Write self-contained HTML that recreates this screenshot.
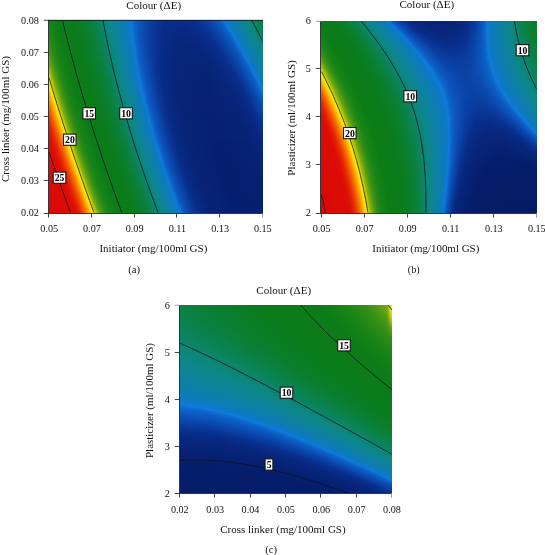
<!DOCTYPE html>
<html><head><meta charset="utf-8"><title>Colour contour plots</title>
<style>
html,body{margin:0;padding:0;background:#fff}
body{width:545px;height:555px;position:relative;overflow:hidden;font-family:"Liberation Serif",serif}
.p{position:absolute;overflow:hidden}
.p i{display:block;height:1px;width:100%}
svg{position:absolute;left:0;top:0}
text{font-family:"Liberation Serif",serif;fill:#111}
.t{font-size:10.2px}
.l{font-size:10.9px;font-weight:bold;fill:#000}
.c{fill:none;stroke:#101018;stroke-width:0.78}
.ax{stroke:#101018;stroke-width:.85;fill:none}
.bx{fill:#fff;stroke:#151515;stroke-width:1.1}
</style></head><body>

<div class="p" style="left:49px;top:20px;width:214px;height:193px">
<i style="background:linear-gradient(90deg,#178416 0px,#0c7d17 8px,#0b7b1a 23px,#0b7d22 31px,#0a7f31 38px,#0a8249 46px,#0c878a 60px,#0c7abb 77px,#0c78c9 80px,#107bdc 82px,#0c6bcf 84px,#0c57be 89px,#0a3ea0 101px,#092d8b 116px,#092c88 134px,#093190 146px,#0a41a4 158px,#0c5ac1 169px,#0c6bcf 173px,#107bdc 175px,#0c78c9 177px,#0c7bb8 181px,#0c8781 199px,#0a8144 212px,#0a813e 214px)"></i>
<i style="background:linear-gradient(90deg,#188416 0px,#0b7c17 9px,#0b7c1b 25px,#0a7e27 34px,#0a8144 45px,#0b856a 53px,#0c868c 61px,#0c7abb 77px,#0c78c9 80px,#107bdb 82px,#0c66cb 85px,#0b52b9 91px,#0a3a9c 103px,#092d8a 117px,#092c88 136px,#093291 148px,#0a41a5 159px,#0c5bc1 170px,#0d6ed2 174px,#0f77d9 175px,#0f7ad8 176px,#0c78c7 178px,#0c7bb7 182px,#0c8784 199px,#0a8142 213px,#0a8140 214px)"></i>
<i style="background:linear-gradient(90deg,#198416 0px,#0c7c17 9px,#0b7b19 23px,#0b7d22 31px,#0a7f2f 38px,#0a8247 46px,#0c8789 60px,#0c7aba 77px,#0c78c8 80px,#107bdb 82px,#0c67cb 85px,#0b52b9 91px,#0a3a9b 103px,#092d8a 116px,#092b87 135px,#093190 148px,#0a42a6 160px,#0c5cc2 171px,#0c69cd 174px,#107adc 176px,#0c78cb 178px,#0c7bb8 182px,#0c8782 200px,#0a8145 213px,#0a8141 214px)"></i>
<i style="background:linear-gradient(90deg,#1a8516 0px,#0c7c17 9px,#0b7b1a 24px,#0b7d23 32px,#0a7f32 39px,#0a8146 46px,#0c8788 60px,#0c7abe 78px,#0d79d0 81px,#0f7bda 82px,#0f75d8 83px,#0c67cb 85px,#0c55bc 90px,#0a3c9d 102px,#092c8a 116px,#082b87 135px,#09308f 148px,#0a40a3 160px,#0c5ac0 171px,#0c6cd0 175px,#107bdb 177px,#0c78c8 179px,#0c7bb7 183px,#0c8784 200px,#0a8142 214px)"></i>
<i style="background:linear-gradient(90deg,#1b8516 0px,#0c7d17 9px,#0b7b1a 24px,#0b7d23 32px,#0a7f31 39px,#0a8146 46px,#0b866c 54px,#0c868b 61px,#0c7abd 78px,#0d79cf 81px,#0f7ad9 82px,#0f76d8 83px,#0c67cc 85px,#0c55bc 90px,#0a3b9d 102px,#092d8a 115px,#082a86 134px,#09308f 149px,#0a41a4 161px,#0c5bc1 172px,#0d6fd2 176px,#0f77da 177px,#0f7ad7 178px,#0c78c7 180px,#0c7bb9 183px,#0c8782 201px,#0a8145 214px)"></i>
<i style="background:linear-gradient(90deg,#1c8616 0px,#138116 4px,#0b7c17 10px,#0b7c1b 26px,#0a7e29 36px,#0a8145 46px,#0b856b 54px,#0c868a 61px,#0c7abd 78px,#0d79ce 81px,#0f7ad8 82px,#0f76d9 83px,#0c67cc 85px,#0c55bc 90px,#0a3b9d 102px,#092c8a 115px,#082a85 134px,#092f8d 149px,#0a41a5 162px,#0c5cc2 173px,#0c6ace 176px,#107bdd 178px,#0c78ca 180px,#0c7bb8 184px,#0c8785 201px,#0a8147 214px)"></i>
<i style="background:linear-gradient(90deg,#1d8616 0px,#138116 4px,#0b7c17 11px,#0b7c1b 26px,#0a7e27 35px,#0a8140 45px,#0a845f 52px,#0c878a 61px,#0c7abc 78px,#0d79cd 81px,#0f7ad7 82px,#0f77da 83px,#0c68cc 85px,#0c55bc 90px,#0a3b9c 102px,#092c8a 115px,#082a84 134px,#092f8d 150px,#0a40a3 162px,#0c5ac0 173px,#0d6dd0 177px,#0f75d8 178px,#0f7ada 179px,#0c78c8 181px,#0c7bb7 185px,#0c8783 202px,#0a8249 214px)"></i>
<i style="background:linear-gradient(90deg,#1e8616 0px,#148116 4px,#0b7c17 11px,#0b7c1b 26px,#0a7e28 36px,#0a8247 47px,#0c8789 61px,#0c7abc 78px,#0c78cc 81px,#0f7ad6 82px,#0f78da 83px,#0c68cc 85px,#0c55bc 90px,#0a3b9c 102px,#092c89 115px,#082a84 134px,#092e8c 150px,#0a40a3 163px,#0c5bc1 174px,#0c68cd 177px,#0f79db 179px,#0e7ad6 180px,#0c78cc 181px,#0c7bb8 185px,#0c8785 202px,#0a824b 214px)"></i>
<i style="background:linear-gradient(90deg,#208716 0px,#168316 3px,#0b7c17 11px,#0b7c1b 26px,#0a7d26 35px,#0a813f 45px,#0a845d 52px,#0c8789 61px,#0c7abb 78px,#0c78cb 81px,#0e7ad5 82px,#0f79db 83px,#0c69cd 85px,#0c55bc 90px,#0a3b9c 102px,#092c8a 114px,#082983 133px,#092e8c 151px,#0a41a4 164px,#0c5cc2 175px,#0c6ace 178px,#107bdc 180px,#0c78c9 182px,#0c7bb7 186px,#0c8783 203px,#0a824d 214px)"></i>
<i style="background:linear-gradient(90deg,#218716 0px,#168316 3px,#0b7c17 11px,#0b7c1b 27px,#0a7e29 37px,#0a8145 47px,#0b866c 55px,#0c868b 62px,#0c7abb 78px,#0c78ca 81px,#107adc 83px,#0c69cd 85px,#0c56bc 90px,#0a3b9c 102px,#092c89 114px,#082982 133px,#092d8b 151px,#0a3fa2 164px,#0c5ac1 175px,#0d6ed1 179px,#0f76d9 180px,#0f7ad8 181px,#0c78c7 183px,#0c7bb9 186px,#0c8785 203px,#0a8250 214px)"></i>
<i style="background:linear-gradient(90deg,#228816 0px,#178316 3px,#0c7c17 11px,#0b7b1a 25px,#0b7d22 33px,#0a7f30 40px,#0a8249 48px,#0c868b 62px,#0c7abb 78px,#0c78c9 81px,#107add 83px,#0c69cd 85px,#0c56bc 90px,#0a3b9c 102px,#092c89 114px,#082982 133px,#092d8b 152px,#0a40a3 165px,#0c5bc2 176px,#0c69cd 179px,#107adc 181px,#0c78ca 183px,#0c7bb8 187px,#0c8783 204px,#0a8352 214px)"></i>
<i style="background:linear-gradient(90deg,#238816 0px,#178316 3px,#0c7c17 11px,#0b7b1a 26px,#0b7d23 34px,#0a7f30 40px,#0a8248 48px,#0c868a 62px,#0c7aba 78px,#0c78c9 81px,#107bdd 83px,#0c6ace 85px,#0c56bd 90px,#0a3a9c 102px,#092c8a 113px,#082881 132px,#092c89 151px,#0a3b9c 163px,#0c57bd 175px,#0c66cb 179px,#0e74d7 181px,#0f7bda 182px,#0c78c8 184px,#0c7bb6 188px,#0c8785 204px,#0a8354 214px)"></i>
<i style="background:linear-gradient(90deg,#248916 0px,#168316 4px,#0b7c17 12px,#0b7c1b 27px,#0a7d26 36px,#0a8140 46px,#0a845e 53px,#0c8789 62px,#0c7aba 78px,#0c78c8 81px,#107bdb 83px,#0c6ace 85px,#0c59bf 89px,#0a3ea0 100px,#092c89 113px,#082881 132px,#092c88 151px,#0a3697 161px,#0b45aa 169px,#0c5fc4 178px,#0d6fd2 181px,#0f78da 182px,#0f7ad6 183px,#0c78cc 184px,#0c7bb8 188px,#0c8783 205px,#0a8356 214px)"></i>
<i style="background:linear-gradient(90deg,#258916 0px,#188416 3px,#0b7c17 12px,#0b7c1b 28px,#0a7e29 38px,#0a8146 48px,#0c8789 62px,#0c7abd 79px,#0d79d0 82px,#0f7bda 83px,#0e74d7 84px,#0c66ca 86px,#0b53ba 91px,#0a3999 103px,#092c89 113px,#082880 132px,#092b87 151px,#093291 159px,#0a44a8 169px,#0c5cc2 178px,#0c6ace 181px,#107bdc 183px,#0c78c9 185px,#0c7bb7 189px,#0c8786 205px,#0a8359 214px)"></i>
<i style="background:linear-gradient(90deg,#278a16 0px,#178316 4px,#0c7c17 12px,#0b7b1a 26px,#0b7d22 34px,#0a7f30 41px,#0a8145 48px,#0b866c 56px,#0c868b 63px,#0c7abc 79px,#0d79cf 82px,#0f7ad9 83px,#0f75d8 84px,#0c66cb 86px,#0b54bb 91px,#0a3999 103px,#092c89 113px,#082880 132px,#082b87 151px,#093190 159px,#0a42a6 169px,#0c5dc3 179px,#0d6dd1 182px,#0f76d9 183px,#0f7ad8 184px,#0c78c7 186px,#0c7bb9 189px,#0c8784 206px,#0a845c 214px)"></i>
<i style="background:linear-gradient(90deg,#288a16 0px,#178416 4px,#0c7c17 12px,#0b7b1a 27px,#0b7d23 35px,#0a7f30 41px,#0a8249 49px,#0c868b 63px,#0c7abc 79px,#0d79cd 82px,#0f7ad8 83px,#0f76d9 84px,#0c67cb 86px,#0b54bb 91px,#0a3899 103px,#092c89 113px,#08277f 132px,#082b86 151px,#093190 160px,#0a43a7 170px,#0c5bc1 179px,#0c69cd 182px,#107adc 184px,#0c78ca 186px,#0c7bb7 190px,#0c8781 207px,#0a845f 214px)"></i>
<i style="background:linear-gradient(90deg,#298a16 0px,#188416 4px,#0c7d17 12px,#0b7b1a 27px,#0b7d23 35px,#0a7f2f 41px,#0a8248 49px,#0c868a 63px,#0c7abb 79px,#0c78cc 82px,#0f7ad7 83px,#0f77da 84px,#0c67cc 86px,#0b54bb 91px,#0a3899 103px,#092c89 113px,#08277f 132px,#082a85 151px,#09308f 160px,#0a41a5 170px,#0c5cc2 180px,#0c6bcf 183px,#0e74d7 184px,#0f7bda 185px,#0c78c7 187px,#0c7bb9 190px,#0c8784 207px,#0a8461 214px)"></i>
<i style="background:linear-gradient(90deg,#2a8b16 0px,#188416 4px,#0b7c17 13px,#0b7c1b 29px,#0a7e29 39px,#0a8147 49px,#0c878a 63px,#0c7abb 79px,#0c78cb 82px,#0e7ad5 83px,#0f78db 84px,#0c68cc 86px,#0c54bb 91px,#0a3899 103px,#092c89 112px,#08277e 131px,#082983 150px,#09308f 161px,#0a42a6 171px,#0c5ec4 181px,#0d6fd2 184px,#0f78da 185px,#0e7ad6 186px,#0c78cb 187px,#0c7bb8 191px,#0c8782 208px,#0b8564 214px)"></i>
<i style="background:linear-gradient(90deg,#2c8b16 0px,#178316 5px,#0c7c17 13px,#0b7b1a 27px,#0b7d22 35px,#0a7f31 42px,#0a8146 49px,#0c8789 63px,#0c7aba 79px,#0c78ca 82px,#107adc 84px,#0c68cd 86px,#0c54bb 91px,#0a3899 103px,#092c89 112px,#07277e 131px,#082983 150px,#09318f 162px,#0a43a7 172px,#0c5bc2 181px,#0c6ace 184px,#107bdc 186px,#0c78c8 188px,#0c7bb6 192px,#0c8784 208px,#0b8567 214px)"></i>
<i style="background:linear-gradient(90deg,#2d8c16 0px,#178416 5px,#0c7c17 13px,#0b7b19 27px,#0b7d22 35px,#0a7f30 42px,#0a8145 49px,#0b8567 56px,#0c868c 64px,#0c7aba 79px,#0c78c9 82px,#107bdd 84px,#0c69cd 86px,#0c55bc 91px,#0a3899 103px,#092c89 112px,#07277d 131px,#082982 150px,#092f8e 162px,#0a41a5 172px,#0c5dc3 182px,#0d6dd1 185px,#0f76d9 186px,#0f7ad8 187px,#0c79c6 189px,#0c7bb8 192px,#0c8782 209px,#0b8569 214px)"></i>
<i style="background:linear-gradient(90deg,#2f8d16 0px,#188416 5px,#0b7c17 14px,#0b7c1b 29px,#0a7d26 38px,#0a8140 48px,#0a8460 55px,#0c868b 64px,#0c7abd 80px,#0c78c8 82px,#107bdc 84px,#0c6ace 86px,#0c55bc 91px,#0a3899 103px,#092c89 112px,#07267d 131px,#082881 150px,#09308e 163px,#0a42a6 173px,#0c5bc1 182px,#0c69cd 185px,#107adc 187px,#0c78c9 189px,#0c7bb7 193px,#0c8784 209px,#0b866c 214px)"></i>
<i style="background:linear-gradient(90deg,#318e16 0px,#188416 5px,#0b7c17 14px,#0b7c1b 30px,#0a7e29 40px,#0a8247 50px,#0c868a 64px,#0c7abc 80px,#0d79d0 83px,#0f7bdb 84px,#0e74d7 85px,#0c6ace 86px,#0c58bf 90px,#0a3c9e 101px,#092c89 112px,#07267d 131px,#082880 150px,#09308f 164px,#0a43a7 174px,#0c5cc2 183px,#0c6bcf 186px,#0f75d7 187px,#0f7ad9 188px,#0c78c7 190px,#0c7bb9 193px,#0c8782 210px,#0b866f 214px)"></i>
<i style="background:linear-gradient(90deg,#348f16 0px,#278a16 2px,#178316 6px,#0c7c17 14px,#0b7b1a 28px,#0b7d22 36px,#0a7f31 43px,#0a8146 50px,#0c878a 64px,#0c7abc 80px,#0d79ce 83px,#0f7ad9 84px,#0f75d8 85px,#0c66ca 87px,#0c56bc 91px,#0a3899 103px,#092c89 112px,#07267c 131px,#082880 150px,#092f8d 164px,#0a41a5 174px,#0c5ec4 184px,#0d6fd3 187px,#0f79db 188px,#0e7ad5 189px,#0c78ca 190px,#0c7bb7 194px,#0c8784 210px,#0b8671 214px)"></i>
<i style="background:linear-gradient(90deg,#369015 0px,#2d8c16 1px,#178416 6px,#0c7c17 14px,#0b7b19 28px,#0b7d22 36px,#0a7f30 43px,#0a8145 50px,#0b866d 58px,#0c868c 65px,#0c7abb 80px,#0d78cd 83px,#0f7ad8 84px,#0f76d9 85px,#0c66cb 87px,#0b53ba 92px,#0a3899 103px,#092c88 112px,#07267c 131px,#08277f 150px,#092f8e 165px,#0a42a6 175px,#0c5bc1 184px,#0c6ace 187px,#107bdb 189px,#0c78c8 191px,#0c7bb9 194px,#0c8782 211px,#0b8674 214px)"></i>
<i style="background:linear-gradient(90deg,#389115 0px,#2a8b16 2px,#188416 6px,#0b7c17 15px,#0b7c1b 30px,#0a7d27 39px,#0a8141 49px,#0a8461 56px,#0c8789 64px,#0c7abb 80px,#0c78cb 83px,#0f7ad6 84px,#0f77da 85px,#0c67cb 87px,#0b53ba 92px,#0a3899 103px,#092c88 112px,#07267b 131px,#07277e 150px,#092e8c 165px,#0a43a7 176px,#0c5dc3 185px,#0d6ed1 188px,#0f77da 189px,#0f7ad6 190px,#0c78cb 191px,#0c7bb7 195px,#0c8784 211px,#0b8676 214px)"></i>
<i style="background:linear-gradient(90deg,#3b9215 0px,#2b8b16 2px,#178316 7px,#0b7c17 15px,#0b7b1a 30px,#0a7d24 38px,#0a7f32 44px,#0a8248 51px,#0c868b 65px,#0c7aba 80px,#0c78ca 83px,#0e7ad5 84px,#0f79db 85px,#0c68cc 87px,#0b53ba 92px,#0a3899 103px,#092c88 112px,#07257b 131px,#07277e 150px,#092e8d 166px,#0a41a5 176px,#0c5bc1 185px,#0c69cd 188px,#107bdd 190px,#0c78c8 192px,#0c7bb9 195px,#0c8782 212px,#0b8679 214px)"></i>
<i style="background:linear-gradient(90deg,#3d9315 0px,#2c8c16 2px,#178316 7px,#0c7c17 15px,#0b7b1a 29px,#0b7d22 37px,#0a7f31 44px,#0a8147 51px,#0c868a 65px,#0c7bba 80px,#0c78c9 83px,#107adc 85px,#0c68cd 87px,#0b54bb 92px,#0a3899 103px,#092c88 112px,#07257a 131px,#07267d 150px,#092d8b 166px,#0a42a6 177px,#0c5cc2 186px,#0d6cd0 189px,#0f76d8 190px,#0f7ad8 191px,#0d78cd 192px,#0c7abb 195px,#0c8784 212px,#0b867b 214px)"></i>
<i style="background:linear-gradient(90deg,#409415 0px,#2e8c16 2px,#188416 7px,#0c7c17 15px,#0b7b19 29px,#0b7d22 37px,#0a7f30 44px,#0a8146 51px,#0c878a 65px,#0c7abd 81px,#0c78c8 83px,#107bdc 85px,#0c69cd 87px,#0c54bb 92px,#0a3999 103px,#092c89 111px,#07257a 130px,#07267c 150px,#092e8c 167px,#0a43a7 178px,#0c5ec4 187px,#0c68cd 189px,#107adc 191px,#0c78c9 193px,#0c7bb6 197px,#0c8782 213px,#0c877d 214px)"></i>
<i style="background:linear-gradient(90deg,#429515 0px,#2a8b16 3px,#188416 7px,#0b7c17 16px,#0b7c1b 31px,#0a7d27 40px,#0a8141 50px,#0a8462 57px,#0c8789 65px,#0c7abc 81px,#0d79d0 84px,#107bdb 85px,#0c6ace 87px,#0c54bb 92px,#0a3797 104px,#092c88 112px,#07257a 130px,#07267d 152px,#092e8c 168px,#0a41a5 178px,#0c5cc2 187px,#0c6bcf 190px,#0e75d7 191px,#0f7ad9 192px,#0c79c6 194px,#0c7bb8 197px,#0c8784 213px,#0c8780 214px)"></i>
<i style="background:linear-gradient(90deg,#459614 0px,#2b8b16 3px,#178316 8px,#0c7c17 16px,#0b7b1a 31px,#0a7d25 39px,#0a7f32 45px,#0a8248 52px,#0c8788 65px,#0c7abb 81px,#0d79ce 84px,#0f7ad9 85px,#0f75d7 86px,#0c65ca 88px,#0b52b9 93px,#0a3797 104px,#092c88 112px,#07257a 130px,#07267c 153px,#092f8d 169px,#0a42a6 179px,#0c5dc3 188px,#0d6fd2 191px,#0f79db 192px,#0e7ad4 193px,#0c78ca 194px,#0c7bb7 198px,#0c8782 214px)"></i>
<i style="background:linear-gradient(90deg,#479714 0px,#2d8c16 3px,#178416 8px,#0c7c17 16px,#0b7b1a 30px,#0b7d22 38px,#0a7f31 45px,#0a8247 52px,#0c868b 66px,#0c7abb 81px,#0c78cc 84px,#0f7ad7 85px,#0f76d9 86px,#0c66cb 88px,#0c55bc 92px,#0a399a 103px,#092c89 111px,#07257a 129px,#07267c 153px,#092d8b 169px,#0a43a8 180px,#0c60c5 189px,#0c6ace 191px,#107bdb 193px,#0c78c7 195px,#0c7bb8 198px,#0c8784 214px)"></i>
<i style="background:linear-gradient(90deg,#4a9814 0px,#2f8d16 3px,#188416 8px,#0c7d17 16px,#0b7b1a 31px,#0b7d22 38px,#0a7f31 45px,#0a8146 52px,#0c868a 66px,#0c7aba 81px,#0c78ca 84px,#0e7ad6 85px,#0f78da 86px,#0c67cb 88px,#0c56bc 92px,#0a399a 103px,#092c89 111px,#07257a 129px,#07267c 154px,#092e8c 170px,#0a42a5 180px,#0c5dc3 189px,#0d6ed1 192px,#0f78da 193px,#0e7ad6 194px,#0c78ca 195px,#0c7bb7 199px,#0c8787 214px)"></i>
<i style="background:linear-gradient(90deg,#4d9914 0px,#2b8b16 4px,#188416 8px,#0b7c17 17px,#0b7c1b 32px,#0a7d27 41px,#0a8141 51px,#0a8462 58px,#0c878a 66px,#0c7bba 81px,#0c78c9 84px,#1079db 86px,#0c68cc 88px,#0b53ba 93px,#0a3797 104px,#092b88 112px,#07257a 129px,#07267c 155px,#092e8d 171px,#0a43a7 181px,#0c5fc4 190px,#0c69cd 192px,#107bdc 194px,#0c78c8 196px,#0c7bb9 199px,#0c8789 214px)"></i>
<i style="background:linear-gradient(90deg,#519b13 0px,#2c8c16 4px,#178316 9px,#0c7c17 17px,#0b7b1a 31px,#0b7d23 39px,#0a7f2f 45px,#0a8249 53px,#0c8789 66px,#0c7abd 82px,#0c78c8 84px,#107bdd 86px,#0c68cd 88px,#0b53ba 93px,#0a3798 104px,#092c89 111px,#07257a 128px,#07257b 155px,#092d8b 171px,#0a41a5 181px,#0c5cc2 190px,#0d6dd0 193px,#0f76d9 194px,#0f7ad7 195px,#0c78cb 196px,#0c7aba 199px,#0c868a 214px)"></i>
<i style="background:linear-gradient(90deg,#559c13 0px,#3f9315 2px,#2d8c16 4px,#178416 9px,#0c7c17 17px,#0b7b1a 31px,#0b7d22 39px,#0a7f31 46px,#0a8248 53px,#0c8788 66px,#0c7abc 82px,#0c78c7 84px,#107bdb 86px,#0c69cd 88px,#0b54bb 93px,#0a3798 104px,#092c89 111px,#07257a 128px,#07257b 156px,#092e8c 172px,#0a42a6 182px,#0c5ec4 191px,#0c68cd 193px,#107bdd 195px,#0c78c8 197px,#0c7bb9 200px,#0c868c 214px)"></i>
<i style="background:linear-gradient(90deg,#599e12 0px,#4b9814 1px,#308d16 4px,#188416 9px,#0c7d17 17px,#0b7b19 31px,#0b7d22 39px,#0a7f31 46px,#0a8146 53px,#0c868b 67px,#0c7abb 82px,#0d79ce 85px,#0f7ada 86px,#0e74d7 87px,#0c6ace 88px,#0c54bb 93px,#0a3798 104px,#092c89 111px,#07257a 128px,#07257b 157px,#092e8c 173px,#0a43a7 183px,#0c5bc2 191px,#0c6ccf 194px,#0f75d8 195px,#0f7ad8 196px,#0d78cc 197px,#0c7abb 200px,#0c868e 214px)"></i>
<i style="background:linear-gradient(90deg,#5ca012 0px,#449514 2px,#2b8b16 5px,#178316 10px,#0b7c17 18px,#0b7c1b 33px,#0a7d27 42px,#0a8141 52px,#0b8563 59px,#0c868a 67px,#0c7abb 82px,#0c78cc 85px,#0f7ad8 86px,#0f76d8 87px,#0c66ca 89px,#0c55bc 93px,#0a3898 104px,#092c89 111px,#07257a 127px,#07257a 157px,#092f8d 174px,#0a42a5 183px,#0c5dc3 192px,#0d70d3 195px,#107adc 196px,#0c78c9 198px,#0c7bb9 201px,#0c858f 214px)"></i>
<i style="background:linear-gradient(90deg,#60a112 0px,#479614 2px,#2c8c16 5px,#178316 10px,#0c7c17 18px,#0b7b1a 32px,#0b7d23 40px,#0a7f2f 46px,#0a8249 54px,#0c8789 67px,#0c7aba 82px,#0c78ca 85px,#0e7ad6 86px,#0f77da 87px,#0c66cb 89px,#0c55bc 93px,#0a3898 104px,#092c89 111px,#07257a 127px,#07257a 158px,#092e8c 174px,#0a43a7 184px,#0c60c5 193px,#0c6bcf 195px,#0e75d7 196px,#0f7ad9 197px,#0d79cd 198px,#0c7abb 201px,#0c8591 214px)"></i>
<i style="background:linear-gradient(90deg,#64a311 0px,#499714 2px,#2e8d16 5px,#188416 10px,#0c7c17 18px,#0b7b1a 32px,#0b7d22 40px,#0a7f31 47px,#0a8248 54px,#0c8789 67px,#0c7bb9 82px,#0c78c9 85px,#1079db 87px,#0c67cc 89px,#0c56bc 93px,#0a3898 104px,#092c89 111px,#07257a 127px,#07257a 158px,#092d8a 174px,#0a41a4 184px,#0c5dc3 193px,#0d6fd2 196px,#1079db 197px,#0c78c9 199px,#0c7bb9 202px,#0c8492 214px)"></i>
<i style="background:linear-gradient(90deg,#68a511 0px,#4d9914 2px,#2a8b16 6px,#188416 10px,#0b7c17 19px,#0b7c1b 34px,#0a7d25 42px,#0a7f34 48px,#0a8147 54px,#0c868b 68px,#0c7abc 83px,#0c78c8 85px,#107bdd 87px,#0c68cc 89px,#0c56bd 93px,#0a3899 104px,#092c89 111px,#072579 127px,#07257a 159px,#092d8b 175px,#0a42a6 185px,#0c5fc5 194px,#0c6ace 196px,#0e74d7 197px,#0f7bda 198px,#0c79c6 200px,#0c7bb8 203px,#0c8494 214px)"></i>
<i style="background:linear-gradient(90deg,#6ca710 0px,#469614 3px,#2c8c16 6px,#178316 11px,#0b7c17 19px,#0b7c1b 34px,#0a7d27 43px,#0a813f 52px,#0a845e 59px,#0c868b 68px,#0c7abc 83px,#0d79d0 86px,#107bdb 87px,#0c69cd 89px,#0b53ba 94px,#0a3696 105px,#092b88 112px,#072579 127px,#07257a 159px,#092d8a 175px,#0a41a4 185px,#0c5cc2 194px,#0d6ed2 197px,#0f78db 198px,#0e7ad5 199px,#0c78c9 200px,#0c7bb9 203px,#0c8395 214px)"></i>
<i style="background:linear-gradient(90deg,#70a910 0px,#489714 3px,#2d8c16 6px,#178416 11px,#0c7c17 19px,#0b7b19 32px,#0b7d23 41px,#0a7f2f 47px,#0a8249 55px,#0c878a 68px,#0c7abb 83px,#0d79ce 86px,#0f7ad9 87px,#0e74d7 88px,#0c6ace 89px,#0b54bb 94px,#0a3697 105px,#092b88 112px,#072579 127px,#072579 159px,#092b88 174px,#0a3696 181px,#0b47ad 188px,#0c5fc4 195px,#0c69cd 197px,#107bdb 199px,#0c78c7 201px,#0c7bb8 204px,#0c8397 214px)"></i>
<i style="background:linear-gradient(90deg,#74aa0f 0px,#4b9814 3px,#308d16 6px,#188416 11px,#0c7d17 19px,#0b7b1a 33px,#0b7d22 41px,#0a7f31 48px,#0a8248 55px,#0c8789 68px,#0c7aba 83px,#0c78cc 86px,#0f7ad7 87px,#0f76d8 88px,#0c65ca 90px,#0b51b8 95px,#0a3797 105px,#092c88 112px,#072579 127px,#072579 159px,#082a84 172px,#093190 179px,#0a43a7 187px,#0c5cc2 195px,#0d6dd1 198px,#0f78da 199px,#0e7ad5 200px,#0c78ca 201px,#0c7bba 204px,#0b8398 214px)"></i>
<i style="background:linear-gradient(90deg,#78ac0f 0px,#4f9a14 3px,#2b8b16 7px,#198416 11px,#0b7c17 20px,#0b7c1b 35px,#0a7e27 44px,#0a8142 54px,#0b856b 62px,#0c868c 69px,#0c7bba 83px,#0c78ca 86px,#0e7ad5 87px,#0f78da 88px,#0c66cb 90px,#0c55bc 94px,#0a3797 105px,#092c88 112px,#072579 126px,#072479 158px,#082880 169px,#09308e 179px,#0a44a8 188px,#0c5ec4 196px,#0c69cd 198px,#107bdb 200px,#0c78c7 202px,#0c7bb8 205px,#0b829a 214px)"></i>
<i style="background:linear-gradient(90deg,#7faf0e 0px,#60a112 2px,#479614 4px,#2c8c16 7px,#178316 12px,#0c7c17 20px,#0b7b1a 34px,#0b7d23 42px,#0a7f30 48px,#0a8146 55px,#0c868b 69px,#0c7bb9 83px,#0c78c9 86px,#1079dc 88px,#0c67cc 90px,#0c55bc 94px,#0a3797 105px,#092c88 112px,#072579 126px,#072478 158px,#08277f 169px,#09308f 180px,#0a42a6 188px,#0c5bc2 196px,#0d6dd0 199px,#0f77d9 200px,#0f7ad6 201px,#0c78ca 202px,#0c7bba 205px,#0b829b 214px)"></i>
<i style="background:linear-gradient(90deg,#86b20d 0px,#72a910 1px,#499714 4px,#2e8d16 7px,#178416 12px,#0c7c17 20px,#0b7b1a 34px,#0b7d23 42px,#0a7f2f 48px,#0a8249 56px,#0c868a 69px,#0c7abc 84px,#0c78c7 86px,#107bdd 88px,#0c68cd 90px,#0c56bd 94px,#0a3798 105px,#092c88 112px,#072579 126px,#072478 158px,#07277e 169px,#092f8e 180px,#0a43a8 189px,#0c5ec3 197px,#0c69cd 199px,#107bdc 201px,#0c78c7 203px,#0c7bb8 206px,#0b819d 214px)"></i>
<i style="background:linear-gradient(90deg,#8db50d 0px,#76ab0f 1px,#4d9914 4px,#318e16 7px,#188416 12px,#0c7d17 20px,#0b7b19 34px,#0b7d22 42px,#0a7f31 49px,#0a8248 56px,#0c8789 69px,#0c7abb 84px,#0d79cf 87px,#0f7bda 88px,#0c69cd 90px,#0b53ba 95px,#0a3798 105px,#092c88 112px,#072579 126px,#072478 158px,#08277e 170px,#09308e 181px,#0a45a9 190px,#0c60c6 198px,#0c6cd0 200px,#0f76d9 201px,#0f7ad7 202px,#0c78cb 203px,#0c7aba 206px,#0b819e 214px)"></i>
<i style="background:linear-gradient(90deg,#94b80c 0px,#7cae0f 1px,#519a13 4px,#2c8b16 8px,#178316 13px,#0b7c17 21px,#0b7c1b 36px,#0a7e27 45px,#0a8142 55px,#0b856b 63px,#0c868c 70px,#0c7aba 84px,#0c78cc 87px,#0f7ad8 88px,#0f75d8 89px,#0c6bce 90px,#0c57be 94px,#0a3898 105px,#092c88 112px,#072579 126px,#072478 158px,#07277d 170px,#092f8d 181px,#0a43a7 190px,#0c5dc3 198px,#0c68cc 200px,#107bdd 202px,#0c78c8 204px,#0c7bb8 207px,#0b81a0 214px)"></i>
<i style="background:linear-gradient(90deg,#9cbb0b 0px,#83b10e 1px,#70a910 2px,#489714 5px,#2d8c16 8px,#178416 13px,#0c7c17 21px,#0b7b1a 35px,#0b7d23 43px,#0a7f30 49px,#0a8146 56px,#0c868b 70px,#0c7bba 84px,#0c78ca 87px,#0f7ad6 88px,#0f77d9 89px,#0c66ca 91px,#0c54bb 95px,#0a3696 106px,#092c88 112px,#072579 126px,#072477 158px,#07277e 171px,#092f8e 182px,#0a44a9 191px,#0c60c5 199px,#0c6bcf 201px,#0f76d8 202px,#0f7ad7 203px,#0c78cb 204px,#0c7aba 207px,#0b80a1 214px)"></i>
<i style="background:linear-gradient(90deg,#a3be0a 0px,#74aa0f 2px,#4b9814 5px,#308d16 8px,#188416 13px,#0c7c17 21px,#0b7b1a 35px,#0b7d23 43px,#0a7f2f 49px,#0a8249 57px,#0c868a 70px,#0c7bb9 84px,#0c78c9 87px,#0f79db 89px,#0c67cb 91px,#0c55bc 95px,#0a3696 106px,#092c88 112px,#072579 126px,#072477 158px,#07267d 171px,#09308f 183px,#0a43a7 191px,#0c5dc3 199px,#0c68cc 201px,#107bdd 203px,#0c78c8 205px,#0c7bb8 208px,#0b80a3 214px)"></i>
<i style="background:linear-gradient(90deg,#aac20a 0px,#79ac0f 2px,#4f9a14 5px,#2b8b16 9px,#198416 13px,#0b7c17 22px,#0b7c1b 37px,#0a7d26 45px,#0a8037 52px,#0a8248 57px,#0c878a 70px,#0c7abc 85px,#0c78c8 87px,#107bdd 89px,#0c68cc 91px,#0c55bc 95px,#0a3697 106px,#092c89 112px,#072579 126px,#072477 158px,#07277d 172px,#092f8d 183px,#0a44a8 192px,#0c5fc5 200px,#0c6bcf 202px,#0f75d8 203px,#0f7ad8 204px,#0c78cc 205px,#0c7aba 208px,#0b7fa4 214px)"></i>
<i style="background:linear-gradient(90deg,#b1c509 0px,#80af0e 2px,#61a212 4px,#479614 6px,#2c8c16 9px,#178316 14px,#0c7c17 22px,#0b7c1b 37px,#0a7e27 46px,#0a8142 56px,#0b8565 63px,#0c868c 71px,#0c7abb 85px,#0d79cf 88px,#107bdb 89px,#0c69cd 91px,#0c56bd 95px,#0a3797 106px,#092c89 112px,#072579 126px,#062377 158px,#07267c 172px,#09308e 184px,#0a42a6 192px,#0c5dc2 200px,#0d70d3 203px,#107adc 204px,#0c78c8 206px,#0c7bb8 209px,#0b7fa6 214px)"></i>
<i style="background:linear-gradient(90deg,#b9c808 0px,#87b30d 2px,#73aa10 3px,#4a9714 6px,#2e8d16 9px,#178416 14px,#0c7c17 22px,#0b7b19 35px,#0b7d23 44px,#0a7f30 50px,#0a8146 57px,#0c868b 71px,#0c7aba 85px,#0d78cd 88px,#0f7ad9 89px,#0e74d7 90px,#0c6ace 91px,#0b53ba 96px,#0a3797 106px,#092b87 113px,#072579 126px,#062377 158px,#07267d 173px,#092e8d 184px,#0a44a8 193px,#0c5fc5 201px,#0c6bce 203px,#0f75d8 204px,#0f7ad8 205px,#0c78cc 206px,#0c7aba 209px,#0b7fa8 214px)"></i>
<i style="background:linear-gradient(90deg,#c1cc07 0px,#77ab0f 3px,#4d9914 6px,#318e16 9px,#188416 14px,#0c7d17 22px,#0b7b1a 36px,#0b7d23 44px,#0a7f32 51px,#0a8249 58px,#0c868b 71px,#0c7bb9 85px,#0c78ca 88px,#0f7ad6 89px,#0f76d9 90px,#0c65ca 92px,#0b50b8 97px,#0a3798 106px,#092b87 113px,#072579 126px,#062376 158px,#07267d 174px,#092f8e 185px,#0a42a6 193px,#0c5cc2 201px,#0d70d3 204px,#107adc 205px,#0c78c8 207px,#0c7bb8 210px,#0b7ea9 214px)"></i>
<i style="background:linear-gradient(90deg,#cad106 0px,#96b90c 2px,#7dae0e 3px,#519b13 6px,#2c8c16 10px,#178316 15px,#0b7c17 23px,#0b7c1b 38px,#0a7d26 46px,#0a8037 53px,#0a8248 58px,#0c868a 71px,#0c7bb9 85px,#0c78c9 88px,#0f79db 90px,#0c66cb 92px,#0c54bb 96px,#093595 107px,#092b88 113px,#072579 126px,#062376 158px,#07267c 174px,#09308f 186px,#0a43a8 194px,#0c5fc4 202px,#0c6ace 204px,#0f75d7 205px,#0f7ad8 206px,#0c78cc 207px,#0c7aba 210px,#0b7eab 214px)"></i>
<i style="background:linear-gradient(90deg,#d3d504 0px,#b6c708 1px,#84b10e 3px,#71a910 4px,#489714 7px,#2d8c16 10px,#178416 15px,#0c7c17 23px,#0b7b1a 37px,#0b7d23 45px,#0a7f30 51px,#0a8147 58px,#0c8789 71px,#0c7abc 86px,#0c78c8 88px,#107bdd 90px,#0c68cc 92px,#0c55bc 96px,#0a3696 107px,#092b88 113px,#072579 126px,#062376 158px,#07267d 175px,#092f8d 186px,#0a45a9 195px,#0c5cc2 202px,#0d6fd3 205px,#107adc 206px,#0c78c8 208px,#0c7bb8 211px,#0b7dad 214px)"></i>
<i style="background:linear-gradient(90deg,#dcda03 0px,#beca07 1px,#75ab0f 4px,#4b9814 7px,#308d16 10px,#188416 15px,#0c7c17 23px,#0b7b1a 37px,#0b7d23 45px,#0a7f30 51px,#0a8146 58px,#0c8788 71px,#0c7abb 86px,#0d79cf 89px,#107bdb 90px,#0c69cd 92px,#0c56bc 96px,#0a3696 107px,#092c88 113px,#072579 125px,#062376 157px,#07267c 175px,#09308e 187px,#0a43a7 195px,#0c5fc4 203px,#0c6ace 205px,#0e74d7 206px,#0f7ad8 207px,#0c78cc 208px,#0c7aba 211px,#0b7daf 214px)"></i>
<i style="background:linear-gradient(90deg,#e5de02 0px,#abc209 2px,#7aad0f 4px,#4f9a14 7px,#2b8b16 11px,#198416 15px,#0b7c17 24px,#0b7c1b 39px,#0a7d26 47px,#0a803b 55px,#0a824e 60px,#0c868b 72px,#0c7aba 86px,#0c78cc 89px,#0f7ad8 90px,#0e74d7 91px,#0c6ace 92px,#0c56bd 96px,#0a3696 107px,#092c88 113px,#072579 125px,#062376 157px,#07267c 176px,#092e8d 187px,#0a44a9 196px,#0c61c7 204px,#0d6fd2 206px,#107adc 207px,#0c78c8 209px,#0c7bb8 212px,#0b7db1 214px)"></i>
<i style="background:linear-gradient(90deg,#eee300 0px,#b3c509 2px,#81b00e 4px,#6fa810 5px,#479714 8px,#2d8c16 11px,#178316 16px,#0c7c17 24px,#0b7c1b 39px,#0a7d25 47px,#0a7f34 53px,#0a8248 59px,#0c868a 72px,#0c7bb9 86px,#0c78ca 89px,#0f7ad6 90px,#0f77d9 91px,#0c6cd0 92px,#0c57be 96px,#0a3797 107px,#092c88 113px,#072579 125px,#062375 157px,#07267d 177px,#092f8e 188px,#0a43a7 196px,#0c5fc4 204px,#0c6ace 206px,#0e74d7 207px,#0f7ad8 208px,#0c78cc 209px,#0c7aba 212px,#0c7cb3 214px)"></i>
<i style="background:linear-gradient(90deg,#f2e500 0px,#d9d803 1px,#bbc908 2px,#89b30d 4px,#73aa10 5px,#4a9814 8px,#2f8d16 11px,#188416 16px,#0c7c17 24px,#0b7b19 37px,#0b7d21 45px,#0a7f30 52px,#0a8147 59px,#0c8789 72px,#0c7bb8 86px,#0c78c9 89px,#0f79db 91px,#0c66cb 93px,#0c54bb 97px,#0a3797 107px,#092c88 113px,#072579 125px,#062375 157px,#07267c 177px,#09308f 189px,#0a44a9 197px,#0c61c6 205px,#0d6fd2 207px,#107adc 208px,#0c78c8 210px,#0c7bb8 213px,#0c7cb4 214px)"></i>
<i style="background:linear-gradient(90deg,#f5e500 0px,#e2dd02 1px,#a9c10a 3px,#78ac0f 5px,#4e9914 8px,#2b8b16 12px,#188416 16px,#0c7d17 24px,#0b7b1a 38px,#0b7d23 46px,#0a7f2f 52px,#0a8145 59px,#0c8788 72px,#0c7abb 87px,#0c78c7 89px,#107bdd 91px,#0c68cc 93px,#0c55bc 97px,#093595 108px,#092b87 114px,#072579 126px,#062375 158px,#07267c 178px,#092f8e 189px,#0a43a7 197px,#0c5ec4 205px,#0c6ace 207px,#0e74d7 208px,#0f7ad8 209px,#0c78cc 210px,#0c7aba 213px,#0c7bb6 214px)"></i>
<i style="background:linear-gradient(90deg,#f8e600 0px,#ebe101 1px,#b0c409 3px,#7faf0e 5px,#529b13 8px,#348f16 11px,#278a16 13px,#178316 17px,#0b7c17 25px,#0b7c1b 40px,#0a7d26 48px,#0a8038 55px,#0a8249 60px,#0c868b 73px,#0c7aba 87px,#0d79ce 90px,#0f7bda 91px,#0c69cd 93px,#0c55bc 97px,#093595 108px,#092b87 114px,#072579 126px,#062275 158px,#07267d 179px,#09308f 190px,#0a44a8 198px,#0c61c6 206px,#0d6fd2 208px,#107adc 209px,#0c78c8 211px,#0c7bb8 214px)"></i>
<i style="background:linear-gradient(90deg,#fbe700 0px,#f1e400 1px,#b8c708 3px,#86b20d 5px,#72a910 6px,#499714 9px,#2e8c16 12px,#178416 17px,#0c7c17 25px,#0b7b1a 39px,#0b7d23 47px,#0a7f31 53px,#0a8248 60px,#0c868a 73px,#0c7bba 87px,#0c78cb 90px,#0f7ad8 91px,#0f75d8 92px,#0c6ace 93px,#0c56bd 97px,#0a3696 108px,#092b87 114px,#072579 126px,#062275 158px,#07267c 179px,#092f8d 190px,#0a42a6 198px,#0c5ec4 206px,#0c6ace 208px,#0e74d7 209px,#0f7ad8 210px,#0c78cc 211px,#0c7aba 214px)"></i>
<i style="background:linear-gradient(90deg,#fee800 0px,#f4e500 1px,#dfdb03 2px,#c0cc07 3px,#76ab0f 6px,#4c9914 9px,#308d16 12px,#188416 17px,#0c7c17 25px,#0b7b1a 39px,#0b7d23 47px,#0a7f30 53px,#0a8146 60px,#0c8789 73px,#0c7bb9 87px,#0c78c9 90px,#0e7ad5 91px,#0f77da 92px,#0c65ca 94px,#0b50b7 99px,#0a3696 108px,#092b88 114px,#072579 126px,#062275 158px,#07267c 180px,#09308e 191px,#0a44a8 199px,#0c61c6 207px,#0d6fd2 209px,#107adc 210px,#0c78c8 212px,#0c7abc 214px)"></i>
<i style="background:linear-gradient(90deg,#ffe400 0px,#f7e600 1px,#e8e001 2px,#aec309 4px,#7cae0f 6px,#509a13 9px,#2b8b16 13px,#178316 18px,#0b7c17 26px,#0b7c1b 41px,#0a7d26 49px,#0a813e 58px,#0a8358 64px,#0c8788 73px,#0c7abc 88px,#0c78c8 90px,#1079dc 92px,#0c67cb 94px,#0c54bb 98px,#0a3697 108px,#092c88 114px,#072579 126px,#062274 158px,#07267b 180px,#092e8d 191px,#0a42a6 199px,#0c5ec4 207px,#0c6ace 209px,#0e74d7 210px,#0f7ad8 211px,#0c78cc 212px,#0c7abe 214px)"></i>
<i style="background:linear-gradient(90deg,#ffdd00 0px,#fae700 1px,#f0e400 2px,#b5c608 4px,#84b10e 6px,#70a910 7px,#489714 10px,#2d8c16 13px,#178316 18px,#0c7c17 26px,#0b7c1b 41px,#0a7d26 49px,#0a8037 56px,#0a8249 61px,#0c868b 74px,#0c7abb 88px,#0c78c7 90px,#107bdc 92px,#0c68cc 94px,#0c55bc 98px,#0a3797 108px,#092c88 114px,#072579 126px,#062274 158px,#07267c 181px,#092f8e 192px,#0a44a8 200px,#0c61c6 208px,#0d6fd2 210px,#107adc 211px,#0c78c8 213px,#0c79c1 214px)"></i>
<i style="background:linear-gradient(90deg,#ffd700 0px,#fde700 1px,#f3e500 2px,#dcda03 3px,#bdca07 4px,#8bb40d 6px,#75ab0f 7px,#4b9814 10px,#2f8d16 13px,#188416 18px,#0c7c17 26px,#0b7b19 39px,#0b7d22 47px,#0a7f31 54px,#0a8247 61px,#0c868a 74px,#0c7aba 88px,#0d78cd 91px,#0f7ad9 92px,#0e73d6 93px,#0c69cd 94px,#0c56bc 98px,#093595 109px,#082b87 115px,#072579 126px,#062274 158px,#07267b 181px,#092e8c 192px,#0a42a6 200px,#0c5ec4 208px,#0c6ace 210px,#0e74d7 211px,#0f7ad8 212px,#0c78cc 213px,#0c79c5 214px)"></i>
<i style="background:linear-gradient(90deg,#ffd100 0px,#ffe600 1px,#f6e600 2px,#e5de02 3px,#abc209 5px,#7aad0f 7px,#4f9a14 10px,#2b8b16 14px,#188416 18px,#0c7d17 26px,#0b7b1a 40px,#0b7d23 48px,#0a7f30 54px,#0a8146 61px,#0c8789 74px,#0c7bb5 87px,#0c79c4 90px,#0c78ca 91px,#0f7ad7 92px,#0f76d8 93px,#0c6bcf 94px,#0c56bd 98px,#0a3898 108px,#092c89 114px,#072579 126px,#062274 158px,#07267c 182px,#092f8e 193px,#0a43a8 201px,#0c61c6 209px,#0d6fd2 211px,#107adc 212px,#0c78c8 214px)"></i>
<i style="background:linear-gradient(90deg,#ffca00 0px,#ffdf00 1px,#f9e600 2px,#eee300 3px,#b3c509 5px,#81b00e 7px,#61a212 9px,#479614 11px,#2c8c16 14px,#178316 19px,#0b7c17 27px,#0b7c1b 42px,#0a7d26 50px,#0a803b 58px,#0a824e 63px,#0c8788 74px,#0c7bb8 88px,#0c78c9 91px,#0e7ad4 92px,#0f78db 93px,#0c66cb 95px,#0b53ba 99px,#0a3696 109px,#092b87 115px,#072579 126px,#062274 158px,#07257b 182px,#09308f 194px,#0a45aa 202px,#0c5ec4 209px,#0c6ace 211px,#0f75d7 212px,#0f7ad8 213px,#0c78cb 214px)"></i>
<i style="background:linear-gradient(90deg,#ffc400 0px,#ffd900 1px,#fce700 2px,#f2e500 3px,#d9d803 4px,#bbc908 5px,#89b30d 7px,#73aa10 8px,#4a9814 11px,#2e8d16 14px,#178416 19px,#0c7c17 27px,#0b7b1a 41px,#0a7d24 49px,#0a7f31 55px,#0a8248 62px,#0c868b 75px,#0c7abb 89px,#0c78c7 91px,#107bdd 93px,#0c67cc 95px,#0c54bb 99px,#0a3696 109px,#092b87 115px,#072579 126px,#062274 158px,#07267b 183px,#092f8d 194px,#0a43a8 202px,#0c5cc2 209px,#0d6fd3 212px,#107adc 213px,#0e79d1 214px)"></i>
<i style="background:linear-gradient(90deg,#febe00 0px,#ffe800 2px,#f5e500 3px,#e2dd02 4px,#a9c10a 6px,#78ac0f 8px,#4e9914 11px,#318e16 14px,#188416 19px,#0c7d17 27px,#0b7b19 40px,#0b7d21 48px,#0a7f30 55px,#0a8147 62px,#0c868a 75px,#0c7aba 89px,#0d79ce 92px,#0f7bdb 93px,#0c69cd 95px,#0c55bc 99px,#0a3797 109px,#092b88 115px,#072579 126px,#062273 158px,#07267c 184px,#09308f 195px,#0a45aa 203px,#0c5ec4 210px,#0c6ace 212px,#0f75d8 213px,#0f7ad7 214px)"></i>
<i style="background:linear-gradient(90deg,#feb800 0px,#ffe100 2px,#f8e600 3px,#ece201 4px,#b1c409 6px,#7faf0e 8px,#60a112 10px,#469614 12px,#2c8c16 15px,#178316 20px,#0b7c17 28px,#0b7c1b 43px,#0a7d26 51px,#0a813e 60px,#0a8359 66px,#0c8789 75px,#0c7bb6 88px,#0c79c4 91px,#0c78cb 92px,#0f7ad8 93px,#0f75d7 94px,#0c6ace 95px,#0c56bd 99px,#093594 110px,#092c88 115px,#072579 126px,#062273 158px,#07257b 184px,#092f8d 195px,#0a43a8 203px,#0c5cc2 210px,#0d70d3 213px,#107bdd 214px)"></i>
<i style="background:linear-gradient(90deg,#feb200 0px,#ffdb00 2px,#fbe700 3px,#f2e400 4px,#b8c808 6px,#86b20d 8px,#72a910 9px,#499714 12px,#2e8c16 15px,#178416 20px,#0c7c17 28px,#0b7b1a 42px,#0b7d22 49px,#0a7f32 56px,#0a8249 63px,#0c8788 75px,#0c7bb8 89px,#0c78c9 92px,#0e7ad5 93px,#0f77da 94px,#0d6cd0 95px,#0c57bd 99px,#0a3798 109px,#092c88 115px,#072579 126px,#062273 158px,#07267c 185px,#09308f 196px,#0a45aa 204px,#0c5ec4 211px,#0c6ace 213px,#0f75d8 214px)"></i>
<i style="background:linear-gradient(90deg,#fdac00 0px,#fee800 3px,#f5e500 4px,#e0dc02 5px,#c1cc07 6px,#76ab0f 9px,#4c9914 12px,#308d16 15px,#188416 20px,#0c7c17 28px,#0b7b19 41px,#0b7d22 49px,#0a7f31 56px,#0a8248 63px,#0b866d 70px,#0c868b 76px,#0c7abb 90px,#0c78c8 92px,#107adc 94px,#0c67cb 96px,#0b54bb 100px,#093595 110px,#092b87 116px,#072579 126px,#062273 158px,#07257b 185px,#092f8d 196px,#0a43a7 204px,#0c5cc2 211px,#0d70d3 214px)"></i>
<i style="background:linear-gradient(90deg,#fda500 0px,#ffe300 3px,#f8e600 4px,#e9e001 5px,#aec309 7px,#7dae0e 9px,#509a13 12px,#2b8b16 16px,#178316 21px,#0b7c17 29px,#0b7c1b 44px,#0a7e28 53px,#0a8146 63px,#0c878a 76px,#0c7aba 90px,#0d79cf 93px,#107bdb 94px,#0c68cc 96px,#0c54bb 100px,#0a3696 110px,#092b87 116px,#072579 126px,#062173 158px,#07267b 186px,#09308e 197px,#0a45aa 205px,#0c5fc4 212px,#0c6bcf 214px)"></i>
<i style="background:linear-gradient(90deg,#fd9f00 0px,#ffdc00 3px,#fbe700 4px,#f1e400 5px,#b6c708 7px,#84b10e 9px,#71a910 10px,#489714 13px,#2d8c16 16px,#178316 21px,#0c7c17 29px,#0b7c1b 44px,#0a7d26 52px,#0a803b 60px,#0a824f 65px,#0c8789 76px,#0c7bb6 89px,#0c79c5 92px,#0c78cc 93px,#0f7ad9 94px,#0e74d7 95px,#0c69cd 96px,#0c55bc 100px,#0a3697 110px,#092c89 115px,#072579 126px,#062173 158px,#07257a 186px,#092e8d 197px,#0a43a7 205px,#0c5cc2 212px,#0c68cc 214px)"></i>
<i style="background:linear-gradient(90deg,#fc9900 0px,#fee800 4px,#f4e500 5px,#ddda03 6px,#bfcb07 7px,#75ab0f 10px,#4b9814 13px,#2f8d16 16px,#188416 21px,#0c7c17 29px,#0b7b19 42px,#0b7d22 50px,#0a7f31 57px,#0a8249 64px,#0c868b 77px,#0c7bb9 90px,#0c78c9 93px,#0e7ad6 94px,#0f76d9 95px,#0c6bcf 96px,#0c56bd 100px,#0a3797 110px,#092b88 116px,#072479 127px,#062173 159px,#07257b 187px,#09308e 198px,#0a45aa 206px,#0c5fc4 213px,#0c65c9 214px)"></i>
<i style="background:linear-gradient(90deg,#fc9300 0px,#ffe400 4px,#f7e600 5px,#e7df01 6px,#acc309 8px,#7bad0f 10px,#4f9a14 13px,#2b8b16 17px,#188416 21px,#0c7d17 29px,#0b7b1a 43px,#0b7d23 51px,#0a7f30 57px,#0a8247 64px,#0b866d 71px,#0c868b 77px,#0c7abb 91px,#0c78c8 93px,#1079db 95px,#0c66cb 97px,#0b53ba 101px,#093595 111px,#092c88 116px,#072579 127px,#062173 159px,#07257a 187px,#092e8d 198px,#0a43a7 206px,#0c5cc2 213px,#0c62c7 214px)"></i>
<i style="background:linear-gradient(90deg,#fb8d00 0px,#ffde00 4px,#fae700 5px,#f0e400 6px,#b4c609 8px,#82b00e 10px,#70a810 11px,#479714 14px,#2c8c16 17px,#178316 22px,#0b7c17 30px,#0b7c1b 45px,#0a7d26 53px,#0a813f 62px,#0a835a 68px,#0c878a 77px,#0c7aba 91px,#0c79c6 93px,#107bdc 95px,#0c68cc 97px,#0c54bb 101px,#093595 111px,#092c88 116px,#072579 127px,#062172 159px,#07257b 188px,#092f8e 199px,#0a45aa 207px,#0c5fc5 214px)"></i>
<i style="background:linear-gradient(90deg,#fa8800 0px,#ffd700 4px,#fde700 5px,#f3e500 6px,#dbd903 7px,#bcca08 8px,#8ab40d 10px,#74aa0f 11px,#4a9814 14px,#2f8d16 17px,#178416 22px,#0c7c17 30px,#0b7b1a 44px,#0b7d22 51px,#0a7f32 58px,#0a8249 65px,#0c8789 77px,#0c7bb6 90px,#0c79c5 93px,#0c78cc 94px,#0f7ad9 95px,#0e73d6 96px,#0c69cd 97px,#0c55bc 101px,#0a3696 111px,#092b87 117px,#072579 127px,#062172 159px,#07257a 188px,#092e8d 199px,#0a43a7 207px,#0c5cc2 214px)"></i>
<i style="background:linear-gradient(90deg,#fa8300 0px,#fda800 2px,#ffe600 5px,#f6e600 6px,#e4de02 7px,#aac20a 9px,#79ac0f 11px,#4e9914 14px,#2b8b16 18px,#188416 22px,#0c7c17 30px,#0b7b19 43px,#0b7d22 51px,#0a7f31 58px,#0a8248 65px,#0c868b 78px,#0c7bb9 91px,#0c78ca 94px,#0f7ad6 95px,#0f76d9 96px,#0c6bcf 97px,#0c56bd 101px,#0a3697 111px,#092c89 116px,#072579 127px,#062172 159px,#07257b 189px,#092f8e 200px,#0a45aa 208px,#0c5ac1 214px)"></i>
<i style="background:linear-gradient(90deg,#f97e01 0px,#fda200 2px,#ffdf00 5px,#f9e600 6px,#eee300 7px,#b2c509 9px,#80b00e 11px,#60a212 13px,#479614 15px,#2c8c16 18px,#178316 23px,#0b7c17 31px,#0b7c1b 46px,#0a7e28 55px,#0a8147 65px,#0c868a 78px,#0c7abb 92px,#0c78c8 94px,#0f79db 96px,#0c66ca 98px,#0b53ba 102px,#093494 112px,#092b87 117px,#072579 127px,#062172 159px,#07257a 189px,#092e8c 200px,#0a43a8 208px,#0c58bf 214px)"></i>
<i style="background:linear-gradient(90deg,#f87901 0px,#fd9c00 2px,#ffd900 5px,#fce700 6px,#f2e500 7px,#d9d803 8px,#bac908 9px,#88b30d 11px,#73aa10 12px,#4a9714 15px,#2e8c16 18px,#178416 23px,#0c7c17 31px,#0b7b1a 45px,#0b7d22 52px,#0a7f2f 58px,#0a8145 65px,#0c8789 78px,#0c7aba 92px,#0c79c6 94px,#107bdc 96px,#0c67cc 98px,#0b54bb 102px,#093595 112px,#092b88 117px,#072579 127px,#062172 159px,#07257a 189px,#092f8e 201px,#0a45aa 209px,#0c57bd 214px)"></i>
<i style="background:linear-gradient(90deg,#f77401 0px,#fc9500 2px,#ffe700 6px,#f5e500 7px,#e2dd02 8px,#a9c10a 10px,#77ac0f 12px,#4d9914 15px,#318e16 18px,#188416 23px,#0c7c17 31px,#0b7b19 44px,#0b7d22 52px,#0a7f31 59px,#0a8249 66px,#0c8788 78px,#0c7bb6 91px,#0c79c5 94px,#0d78cc 95px,#0f7ad9 96px,#0e73d6 97px,#0c69cd 98px,#0c55bc 102px,#093595 112px,#092c88 117px,#072579 127px,#062172 159px,#07257a 190px,#092e8c 201px,#0a43a8 209px,#0c55bc 214px)"></i>
<i style="background:linear-gradient(90deg,#f66f01 0px,#fc8f00 2px,#ffe100 6px,#f8e600 7px,#ece201 8px,#b0c409 10px,#7faf0e 12px,#519b13 15px,#2c8b16 19px,#178316 24px,#0b7c17 32px,#0b7c1b 47px,#0a7e2a 57px,#0a8247 66px,#0b866d 73px,#0c868b 79px,#0c7bb9 92px,#0c78ca 95px,#0f7ad6 96px,#0f76d8 97px,#0c6bce 98px,#0c56bc 102px,#0a3696 112px,#082b87 118px,#072479 128px,#062172 160px,#07257a 191px,#092f8e 202px,#0a45aa 210px,#0b53ba 214px)"></i>
<i style="background:linear-gradient(90deg,#f56a01 0px,#fd9d00 3px,#ffda00 6px,#fce700 7px,#f2e400 8px,#b8c808 10px,#86b20d 12px,#72a910 13px,#499714 16px,#2d8c16 19px,#178316 24px,#0c7c17 32px,#0b7c1b 47px,#0a7d26 55px,#0a813f 64px,#0a835a 70px,#0c868a 79px,#0c7abb 93px,#0c78c8 95px,#0f79db 97px,#0c66ca 99px,#0b53ba 103px,#0a3797 112px,#092c89 117px,#072579 128px,#062172 160px,#07257a 191px,#092e8c 202px,#0a43a8 210px,#0b51b8 214px)"></i>
<i style="background:linear-gradient(90deg,#f46502 0px,#fc9600 3px,#ffe800 7px,#f5e500 8px,#e0dc02 9px,#a7c00a 11px,#76ab0f 13px,#4c9814 16px,#308d16 19px,#188416 24px,#0c7c17 32px,#0b7b19 45px,#0b7d22 53px,#0a7f32 60px,#0a824a 67px,#0c8789 79px,#0c7bb7 92px,#0c79c6 95px,#107bdd 97px,#0c67cc 99px,#0b54bb 103px,#093594 113px,#092b87 118px,#072579 128px,#062172 160px,#07257a 191px,#092f8e 203px,#0b45aa 211px,#0b4fb7 214px)"></i>
<i style="background:linear-gradient(90deg,#f36002 0px,#fc9000 3px,#ffe200 7px,#f8e600 8px,#eae101 9px,#afc409 11px,#7dae0e 13px,#509a13 16px,#2b8b16 20px,#198416 24px,#0c7d17 32px,#0b7b19 45px,#0b7d21 53px,#0a7f31 60px,#0a8248 67px,#0c868c 80px,#0c7bb6 92px,#0c79c5 95px,#0c78cc 96px,#0f7ad9 97px,#0e73d6 98px,#0c69cd 99px,#0c55bb 103px,#093595 113px,#092b88 118px,#072579 128px,#062171 160px,#07257a 192px,#092e8c 203px,#0a44a8 211px,#0b4db5 214px)"></i>
<i style="background:linear-gradient(90deg,#f25b02 0px,#fd9e00 4px,#ffdb00 7px,#fbe700 8px,#f1e400 9px,#b7c708 11px,#85b10e 13px,#71a910 14px,#489714 17px,#2d8c16 20px,#178316 25px,#0b7c17 33px,#0b7c1b 48px,#0a7d26 56px,#0a803c 64px,#0a824c 68px,#0c868b 80px,#0c7bb8 93px,#0c78c9 96px,#0f7ad6 97px,#0f76d8 98px,#0c6bce 99px,#0c55bc 103px,#0a3696 113px,#092c88 118px,#072579 128px,#062171 160px,#072579 192px,#092f8e 204px,#0b45aa 212px,#0b4cb4 214px)"></i>
<i style="background:linear-gradient(90deg,#f15702 0px,#fc9800 4px,#fee800 8px,#f4e500 9px,#dedb03 10px,#c0cb07 11px,#76ab0f 14px,#4b9814 17px,#2f8d16 20px,#188416 25px,#0c7c17 33px,#0b7b1a 47px,#0b7d22 54px,#0a7f32 61px,#0a8145 67px,#0c878a 80px,#0c7abb 94px,#0c78c8 96px,#0f79db 98px,#0c66ca 100px,#0b53ba 104px,#0a3696 113px,#092c89 118px,#072579 128px,#062171 160px,#072579 192px,#092e8c 204px,#0a44a8 212px,#0b4ab1 214px)"></i>
<i style="background:linear-gradient(90deg,#f05302 0px,#f98101 3px,#fc9100 4px,#ffe300 8px,#f7e600 9px,#e8e001 10px,#adc309 12px,#7cae0f 14px,#509a13 17px,#2b8b16 21px,#188416 25px,#0c7d17 33px,#0b7b19 46px,#0b7d22 54px,#0a7f31 61px,#0a8249 68px,#0c8789 80px,#0c7bb6 93px,#0c79c6 96px,#107bdc 98px,#0c67cc 100px,#0b53bb 104px,#093494 114px,#092b87 119px,#072479 129px,#062171 161px,#072579 193px,#092f8e 205px,#0b45ab 213px,#0b49af 214px)"></i>
<i style="background:linear-gradient(90deg,#ef5002 0px,#f25b02 1px,#fb8c00 4px,#ffdd00 8px,#fae700 9px,#f1e400 10px,#b5c608 12px,#83b10e 14px,#70a910 15px,#489714 18px,#2d8c16 21px,#178316 26px,#0b7c17 34px,#0b7c1b 49px,#0a7e28 58px,#0a8247 68px,#0b866d 75px,#0c868b 81px,#0c7bb9 94px,#0c78cc 97px,#0f7ad9 98px,#0e73d6 99px,#0c69cd 100px,#0c54bb 104px,#093595 114px,#092b87 119px,#072479 129px,#062171 161px,#072579 193px,#092e8c 205px,#0a44a8 213px,#0b47ad 214px)"></i>
<i style="background:linear-gradient(90deg,#ee4c03 0px,#f46702 2px,#fc9900 5px,#fee800 9px,#f4e500 10px,#ddda03 11px,#becb07 12px,#8bb40d 14px,#75ab0f 15px,#4b9814 18px,#2f8d16 21px,#178416 26px,#0c7c17 34px,#0b7b1a 48px,#0b7d22 55px,#0a7f2f 61px,#0a8146 68px,#0c868a 81px,#0c7bb8 94px,#0c78c9 97px,#0e7ad6 98px,#0f76d9 99px,#0c6bcf 100px,#0c55bc 104px,#093595 114px,#092c88 119px,#072579 129px,#052071 161px,#072479 193px,#092b87 203px,#093494 208px,#0b46ab 214px)"></i>
<i style="background:linear-gradient(90deg,#ed4803 0px,#f36102 2px,#fc9200 5px,#ffe400 9px,#f7e600 10px,#e7df01 11px,#acc209 13px,#7aad0f 15px,#4f9a14 18px,#2b8b16 22px,#188416 26px,#0c7c17 34px,#0b7b19 47px,#0b7d22 55px,#0a7f31 62px,#0a8249 69px,#0c8789 81px,#0c7abb 95px,#0c78c7 97px,#1079db 99px,#0c66ca 101px,#0b52ba 105px,#0a3696 114px,#092c88 119px,#072579 129px,#052071 161px,#072479 193px,#082983 201px,#09318f 207px,#0a44a9 214px)"></i>
<i style="background:linear-gradient(90deg,#ed4403 0px,#f25c02 2px,#fb8d00 5px,#ffde00 9px,#fae700 10px,#f0e400 11px,#b4c609 13px,#82b00e 15px,#6fa810 16px,#479614 19px,#2c8c16 22px,#178316 27px,#0b7c17 35px,#0b7c1b 50px,#0a7e2a 60px,#0a8248 69px,#0b866e 76px,#0c868c 82px,#0c7bb6 94px,#0c79c6 97px,#0d79cf 98px,#107bdc 99px,#0c67cc 101px,#0b53bb 105px,#093494 115px,#092b87 120px,#072579 129px,#052071 161px,#072478 193px,#082982 201px,#092f8e 207px,#0a43a7 214px)"></i>
<i style="background:linear-gradient(90deg,#ec4103 0px,#f15802 2px,#fc9a00 6px,#ffd700 9px,#fde700 10px,#f3e500 11px,#dbd903 12px,#bdca07 13px,#8ab40d 15px,#74aa0f 16px,#4a9814 19px,#2e8d16 22px,#178416 27px,#0c7c17 35px,#0b7b1a 49px,#0b7d23 56px,#0a7f30 62px,#0a8147 69px,#0c868b 82px,#0c7bb9 95px,#0c78cb 98px,#0f7ad8 99px,#0e74d7 100px,#0c69cd 101px,#0c54bb 105px,#093594 115px,#092b87 120px,#072479 130px,#052071 162px,#072479 194px,#082983 202px,#093190 208px,#0a41a4 214px)"></i>
<i style="background:linear-gradient(90deg,#eb3d03 0px,#f36202 3px,#fc9300 6px,#ffe500 10px,#f6e600 11px,#e5de02 12px,#abc20a 14px,#79ac0f 16px,#4e9914 19px,#318e16 22px,#188416 27px,#0c7c17 35px,#0b7b19 48px,#0b7d22 56px,#0a7f32 63px,#0a8145 69px,#0c878a 82px,#0c7abc 96px,#0c78c9 98px,#0e7ad5 99px,#0f77d9 100px,#0c6bcf 101px,#0c56bc 105px,#093595 115px,#092b88 120px,#072479 130px,#052071 162px,#072478 194px,#082982 202px,#092f8e 208px,#0a40a2 214px)"></i>
<i style="background:linear-gradient(90deg,#ea3903 0px,#f35d02 3px,#fb8d00 6px,#ffdf00 10px,#fae700 11px,#efe300 12px,#b3c509 14px,#81b00e 16px,#61a212 18px,#479614 20px,#2c8c16 23px,#178316 28px,#0b7c17 36px,#0b7c1b 51px,#0a7e2b 61px,#0a8249 70px,#0c8789 82px,#0c7bb7 95px,#0c78c7 98px,#107adc 100px,#0c66cb 102px,#0b53ba 106px,#0a3696 115px,#092c88 120px,#072579 130px,#052071 162px,#072478 194px,#08277f 201px,#093190 209px,#0a3ea0 214px)"></i>
<i style="background:linear-gradient(90deg,#e93603 0px,#f25802 3px,#fd9a00 7px,#ffd800 10px,#fde700 11px,#f3e500 12px,#dad903 13px,#bbc908 14px,#89b30d 16px,#73aa10 17px,#4a9714 20px,#2e8c16 23px,#178416 28px,#0c7c17 36px,#0b7c1b 51px,#0a7d26 59px,#0a803c 67px,#0a824c 71px,#0c868b 83px,#0c7bb6 95px,#0c79c5 98px,#0d79ce 99px,#107bdb 100px,#0c68cc 102px,#0b54bb 106px,#093493 116px,#082b87 121px,#072579 130px,#052070 162px,#072478 194px,#08277e 201px,#09308e 209px,#0a3d9f 214px)"></i>
<i style="background:linear-gradient(90deg,#e83203 0px,#f46302 4px,#fc9400 7px,#ffe600 11px,#f6e600 12px,#e4de02 13px,#aac10a 15px,#78ac0f 17px,#4d9914 20px,#318e16 23px,#188416 28px,#0c7c17 36px,#0b7b19 49px,#0b7d22 57px,#0a7f2f 63px,#0a8146 70px,#0c868a 83px,#0c7bb9 96px,#0c78ca 99px,#0f7ad7 100px,#0e74d7 101px,#0c69ce 102px,#0c55bc 106px,#093494 116px,#092b87 121px,#072579 130px,#052070 162px,#072478 194px,#07277d 201px,#092e8d 209px,#0a3c9d 214px)"></i>
<i style="background:linear-gradient(90deg,#e72e04 0px,#f35d02 4px,#fb8e00 7px,#ffdf00 11px,#f9e600 12px,#eee300 13px,#b2c509 15px,#80af0e 17px,#60a112 19px,#469614 21px,#2c8c16 24px,#178316 29px,#0b7c17 37px,#0b7c1b 52px,#0a7e2b 62px,#0a8249 71px,#0c8789 83px,#0c7bb7 96px,#0c78c8 99px,#0e7ad4 100px,#0f78da 101px,#0c6cd0 102px,#0c5ac0 105px,#0a3b9c 114px,#092c89 120px,#072579 130px,#052070 162px,#072477 194px,#08277e 202px,#09308e 210px,#0a3a9b 214px)"></i>
<i style="background:linear-gradient(90deg,#e62a04 0px,#f25902 4px,#fd9b00 8px,#ffd900 11px,#fce700 12px,#f2e500 13px,#d9d803 14px,#bac908 15px,#88b30d 17px,#73aa10 18px,#499714 21px,#2d8c16 24px,#178316 29px,#0b7c17 37px,#0b7c1b 52px,#0a7e28 61px,#0a8248 71px,#0b8568 77px,#0c868c 84px,#0c7bb6 96px,#0c79c6 99px,#107bdd 101px,#0c67cb 103px,#0b53ba 107px,#0a3696 116px,#092c88 121px,#072479 131px,#052070 163px,#072478 195px,#07277d 202px,#092f8d 210px,#0a399a 214px)"></i>
<i style="background:linear-gradient(90deg,#e52604 0px,#f15502 4px,#fc9400 8px,#ffe700 12px,#f6e500 13px,#e3dd02 14px,#a9c10a 16px,#77ac0f 18px,#4d9914 21px,#308d16 24px,#188416 29px,#0c7c17 37px,#0b7b19 50px,#0b7d22 58px,#0a7f2f 64px,#0a8146 71px,#0c868b 84px,#0c7bb9 97px,#0d78cc 100px,#0f7ada 101px,#0e72d5 102px,#0c62c7 104px,#0b45aa 111px,#092f8d 119px,#07257a 130px,#052070 162px,#062377 194px,#07267d 202px,#09308f 211px,#0a3898 214px)"></i>
<i style="background:linear-gradient(90deg,#e42304 0px,#f35e02 5px,#fc8f00 8px,#ffe000 12px,#f9e600 13px,#ede201 14px,#b1c409 16px,#7faf0e 18px,#519b13 21px,#2c8b16 25px,#198416 29px,#0c7d17 37px,#0b7b19 50px,#0b7d22 58px,#0a7f31 65px,#0a8145 71px,#0b856a 78px,#0c878a 84px,#0c7bb8 97px,#0c78c9 100px,#0f7ad6 101px,#0f75d8 102px,#0c6ace 103px,#0c55bc 107px,#093494 117px,#092b87 122px,#072579 131px,#052070 163px,#072477 195px,#07277e 203px,#092f8d 211px,#0a3797 214px)"></i>
<i style="background:linear-gradient(90deg,#e32104 0px,#f25902 5px,#fd9c00 9px,#ffd900 12px,#fce700 13px,#f2e500 14px,#d8d804 15px,#b9c808 16px,#87b20d 18px,#72a910 19px,#499714 22px,#2d8c16 25px,#178316 30px,#0b7c17 38px,#0b7c1b 53px,#0a7e28 62px,#0a8248 72px,#0c8789 84px,#0c7bb7 97px,#0c78c8 100px,#0f79db 102px,#0c65ca 104px,#0b4eb6 109px,#0a3898 116px,#092c89 121px,#072579 131px,#052070 163px,#062377 195px,#07267d 203px,#09308f 212px,#093595 214px)"></i>
<i style="background:linear-gradient(90deg,#e32004 0px,#e52704 1px,#f15502 5px,#fc9500 9px,#ffe800 13px,#f5e500 14px,#e2dd02 15px,#a8c10a 17px,#77ab0f 19px,#4c9914 22px,#308d16 25px,#188416 30px,#0c7c17 38px,#0b7b1a 52px,#0b7d22 59px,#0a7f30 65px,#0a8147 72px,#0b866d 79px,#0c868b 85px,#0c7bb6 97px,#0c79c6 100px,#0d79cf 101px,#107bdc 102px,#0c67cc 104px,#0b53ba 108px,#0a3696 117px,#092b88 122px,#072479 132px,#052070 164px,#062377 196px,#07277e 204px,#092f8d 212px,#093494 214px)"></i>
<i style="background:linear-gradient(90deg,#e21e04 0px,#e42304 1px,#f35e02 6px,#fc8f00 9px,#ffe100 13px,#f8e600 14px,#ece201 15px,#b0c409 17px,#7eaf0e 19px,#519b13 22px,#2b8b16 26px,#188416 30px,#0c7d17 38px,#0b7b19 51px,#0b7d22 59px,#0a7f32 66px,#0a8145 72px,#0c868a 85px,#0c7bb9 98px,#0c78cb 101px,#0f7ad8 102px,#0e74d6 103px,#0c69cd 104px,#0c58bf 107px,#0a42a6 113px,#092d8a 121px,#072579 131px,#052070 163px,#062376 195px,#07267d 204px,#09308f 213px,#093392 214px)"></i>
<i style="background:linear-gradient(90deg,#e21c04 0px,#e32104 1px,#f25902 6px,#fd9c00 10px,#ffda00 13px,#fce700 14px,#f2e400 15px,#b8c808 17px,#86b20e 19px,#72a910 20px,#489714 23px,#2d8c16 26px,#178316 31px,#0b7c17 39px,#0b7c1b 54px,#0a7e28 63px,#0a8144 72px,#0b8569 79px,#0c868d 86px,#0c7abb 99px,#0c78c9 101px,#0e7ad5 102px,#0f77d9 103px,#0c6bcf 104px,#0c59c0 107px,#0a3798 117px,#092c89 122px,#072579 132px,#052070 164px,#062377 196px,#07277e 205px,#092f8e 213px,#093291 214px)"></i>
<i style="background:linear-gradient(90deg,#e11b04 0px,#e52704 2px,#f15602 6px,#fc9600 10px,#ffe800 14px,#f5e500 15px,#e1dc02 16px,#a7c00a 18px,#76ab0f 20px,#4c9814 23px,#308d16 26px,#188416 31px,#0c7c17 39px,#0b7b1a 53px,#0b7d23 60px,#0a7f30 66px,#0a8247 73px,#0b8567 79px,#0c868b 86px,#0c7bb6 98px,#0c78c7 101px,#107adc 103px,#0c66cb 105px,#0b52ba 109px,#093595 118px,#092b87 123px,#072579 132px,#052070 164px,#062376 196px,#07267d 205px,#09308f 214px)"></i>
<i style="background:linear-gradient(90deg,#e11904 0px,#e42304 2px,#f35f02 7px,#fc8f00 10px,#ffe100 14px,#f8e600 15px,#ebe101 16px,#afc409 18px,#7dae0e 20px,#509a13 23px,#2b8b16 27px,#188416 31px,#0c7d17 39px,#0b7b19 52px,#0b7d22 60px,#0a7f32 67px,#0a8146 73px,#0c868a 86px,#0c7cb5 98px,#0c79c5 101px,#0d78cd 102px,#0f7bda 103px,#0c68cc 105px,#0c57be 108px,#0a3696 118px,#092b88 123px,#072579 132px,#052070 164px,#062376 196px,#07277e 206px,#092f8e 214px)"></i>
<i style="background:linear-gradient(90deg,#e01705 0px,#e42104 2px,#f25a02 7px,#fd9d00 11px,#ffda00 14px,#fbe700 15px,#f2e400 16px,#b8c708 18px,#85b20e 20px,#71a910 21px,#489714 24px,#2d8c16 27px,#178316 32px,#0b7c17 40px,#0b7c1b 55px,#0a7e29 64px,#0a8144 73px,#0b856a 80px,#0c868d 87px,#0c7abc 100px,#0c78ca 102px,#0f7ad6 103px,#0f75d8 104px,#0c6ace 105px,#0c55bb 109px,#093494 119px,#082b86 124px,#072479 133px,#052070 165px,#062376 197px,#07267d 206px,#092e8c 214px)"></i>
<i style="background:linear-gradient(90deg,#e01605 0px,#e52704 3px,#f15602 7px,#fc9600 11px,#ffe800 15px,#f5e500 16px,#e0dc02 17px,#c1cc07 18px,#76ab0f 21px,#4b9814 24px,#2f8d16 27px,#178416 32px,#0c7c17 40px,#0b7b1a 54px,#0b7d23 61px,#0a7f30 67px,#0a8247 74px,#0b8568 80px,#0c868c 87px,#0c7bb7 99px,#0c78c8 102px,#0f78db 104px,#0d6dd0 105px,#0c5ac0 108px,#0a3a9b 117px,#092c89 123px,#072479 133px,#052070 165px,#062376 197px,#07277e 207px,#092d8b 214px)"></i>
<i style="background:linear-gradient(90deg,#df1405 0px,#e42304 3px,#f35f02 8px,#fc9000 11px,#ffe200 15px,#f8e600 16px,#eae101 17px,#afc409 19px,#7dae0f 21px,#509a13 24px,#2b8b16 28px,#188416 32px,#0c7c17 40px,#0b7b19 53px,#0b7d22 61px,#0a7f2f 67px,#0a8146 74px,#0c868b 87px,#0c7bb6 99px,#0c79c6 102px,#0d79cf 103px,#107bdc 104px,#0c67cb 106px,#0b53ba 110px,#093595 119px,#092b87 124px,#072579 133px,#05206f 165px,#062376 197px,#07267d 207px,#092d8a 214px)"></i>
<i style="background:linear-gradient(90deg,#df1205 0px,#e42104 3px,#f25a02 8px,#fd9d00 12px,#ffdb00 15px,#fbe700 16px,#f1e400 17px,#b7c708 19px,#85b10e 21px,#71a910 22px,#489714 25px,#2d8c16 28px,#178316 33px,#0b7c17 41px,#0b7c1b 56px,#0a7e2b 66px,#0a8144 74px,#0b856a 81px,#0c878a 87px,#0c7bb9 100px,#0c78cb 103px,#0f7ad8 104px,#0e73d6 105px,#0c69cd 106px,#0c58bf 109px,#0a42a6 115px,#092c8a 123px,#072579 133px,#05206f 165px,#062376 197px,#07267c 207px,#092c89 214px)"></i>
<i style="background:linear-gradient(90deg,#de1105 0px,#e52704 4px,#f15602 8px,#fc9600 12px,#fee800 16px,#f5e500 17px,#dfdc02 18px,#c1cc07 19px,#76ab0f 22px,#4b9814 25px,#2f8d16 28px,#178416 33px,#0c7c17 41px,#0b7b1a 55px,#0b7d23 62px,#0a7f30 68px,#0a8248 75px,#0b8568 81px,#0c868c 88px,#0c7bb7 100px,#0c78c8 103px,#0e7ad4 104px,#0f77d9 105px,#0c6bcf 106px,#0c59c0 109px,#0a3797 119px,#092c88 124px,#072479 134px,#05206f 166px,#062376 198px,#07267d 208px,#092c88 214px)"></i>
<i style="background:linear-gradient(90deg,#de0f05 0px,#e42304 4px,#f35f02 9px,#fc9000 12px,#ffe200 16px,#f8e600 17px,#eae101 18px,#aec309 20px,#7cae0f 22px,#509a13 25px,#2b8b16 29px,#188416 33px,#0c7c17 41px,#0b7b19 54px,#0b7d22 62px,#0a7f2f 68px,#0a8146 75px,#0b866d 82px,#0c868b 88px,#0c7bb6 100px,#0c78c7 103px,#107adc 105px,#0c66cb 107px,#0b52b9 111px,#093595 120px,#092c89 124px,#072479 134px,#05206f 166px,#062376 198px,#07267c 208px,#092b87 214px)"></i>
<i style="background:linear-gradient(90deg,#dd0d05 0px,#e42104 4px,#f25a02 9px,#fd9d00 13px,#ffdb00 16px,#fbe700 17px,#f1e400 18px,#b7c708 20px,#84b10e 22px,#71a910 23px,#489714 26px,#2c8c16 29px,#178316 34px,#0b7c17 42px,#0b7c1b 57px,#0a7e2b 67px,#0a8145 75px,#0b856b 82px,#0c868a 88px,#0c7bb9 101px,#0d78cd 104px,#0f7bda 105px,#0c68cc 107px,#0c57be 110px,#0a3696 120px,#092b87 125px,#072579 134px,#05206f 166px,#062375 198px,#07277d 209px,#082b86 214px)"></i>
<i style="background:linear-gradient(90deg,#dd0c05 0px,#e52704 5px,#f15602 9px,#fc9700 13px,#fee800 17px,#f4e500 18px,#dfdb02 19px,#c0cc07 20px,#75ab0f 23px,#4b9814 26px,#2f8d16 29px,#178416 34px,#0c7c17 42px,#0b7b1a 56px,#0b7d23 63px,#0a7f30 69px,#0a8248 76px,#0c8789 88px,#0c7bb8 101px,#0c78c9 104px,#0f7ad6 105px,#0f75d8 106px,#0c6ace 107px,#0c54bb 111px,#093493 121px,#082b86 126px,#072579 134px,#05206f 166px,#062375 198px,#07267c 209px,#082a86 214px)"></i>
<i style="background:linear-gradient(90deg,#dd0c05 0px,#e42304 5px,#f35f02 10px,#fc9000 13px,#ffe200 17px,#f8e600 18px,#e9e101 19px,#aec309 21px,#7cae0f 23px,#4f9a14 26px,#2b8b16 30px,#188416 34px,#0c7c17 42px,#0b7b19 55px,#0b7d22 63px,#0a7f2f 69px,#0a8147 76px,#0b866d 83px,#0c868b 89px,#0c7bb7 101px,#0c78c7 104px,#0f79db 106px,#0d6dd1 107px,#0c5ac0 110px,#0a3a9b 119px,#092c88 125px,#072579 134px,#05206f 166px,#062275 198px,#07277d 210px,#082a85 214px)"></i>
<i style="background:linear-gradient(90deg,#dd0c05 0px,#df1205 2px,#e42204 5px,#f25a02 10px,#fd9d00 14px,#ffdb00 17px,#fbe700 18px,#f1e400 19px,#b6c708 21px,#84b10e 23px,#71a910 24px,#489714 27px,#2c8c16 30px,#178316 35px,#0b7c17 43px,#0b7c1b 58px,#0a7e2b 68px,#0a8145 76px,#0c868a 89px,#0c7bb6 101px,#0c79c5 104px,#0d79ce 105px,#107bdc 106px,#0c67cc 108px,#0b53ba 112px,#093595 121px,#092c89 125px,#072479 135px,#05206f 167px,#062375 199px,#07267d 210px,#082a84 214px)"></i>
<i style="background:linear-gradient(90deg,#dd0c05 0px,#dd0c05 1px,#e32004 5px,#e52704 6px,#f15602 10px,#fc9700 14px,#fee800 18px,#f4e500 19px,#dfdb03 20px,#c0cb07 21px,#75ab0f 24px,#4b9814 27px,#2f8d16 30px,#178416 35px,#0c7c17 43px,#0b7c1b 58px,#0a7d27 66px,#0a803a 73px,#0a8248 77px,#0c8789 89px,#0c7bb8 102px,#0c78ca 105px,#0f7ad8 106px,#0e74d7 107px,#0c69cd 108px,#0c58bf 111px,#0a42a5 117px,#092c8a 125px,#072579 135px,#05206f 167px,#062275 199px,#07277e 211px,#082983 214px)"></i>
<i style="background:linear-gradient(90deg,#dd0c05 0px,#de0f05 2px,#e42304 6px,#f35f02 11px,#fc9000 14px,#ffe200 18px,#f8e600 19px,#e9e001 20px,#aec309 22px,#7bad0f 24px,#4f9a14 27px,#2b8b16 31px,#188416 35px,#0c7c17 43px,#0b7b19 56px,#0b7d21 63px,#0a7f2f 70px,#0a8147 77px,#0b866d 84px,#0c868c 90px,#0c7bb7 102px,#0c78c8 105px,#0e79d3 106px,#0f78da 107px,#0c6cd0 108px,#0c59c0 111px,#0a399a 120px,#092c88 126px,#072579 135px,#051f6f 167px,#062275 199px,#07267d 211px,#082982 214px)"></i>
<i style="background:linear-gradient(90deg,#dd0c05 0px,#dd0d05 2px,#e42204 6px,#f25a02 11px,#fd9e00 15px,#ffdb00 18px,#fbe700 19px,#f1e400 20px,#b6c708 22px,#84b10e 24px,#70a910 25px,#489714 28px,#2c8c16 31px,#178316 36px,#0b7c17 44px,#0b7c1b 59px,#0a7e2b 69px,#0a8145 77px,#0c868b 90px,#0c7bb6 102px,#0c79c6 105px,#107bdd 107px,#0c66cb 109px,#0b52b9 113px,#093594 122px,#082b87 127px,#072479 136px,#051f6f 168px,#062275 200px,#07267c 211px,#082881 214px)"></i>
<i style="background:linear-gradient(90deg,#dd0c05 0px,#dd0c05 2px,#e32004 6px,#e52704 7px,#f15602 11px,#fc9700 15px,#fee800 19px,#f4e500 20px,#dfdb03 21px,#c0cb07 22px,#75ab0f 25px,#4b9814 28px,#2f8d16 31px,#178416 36px,#0c7c17 44px,#0b7c1b 59px,#0a7e28 68px,#0a8144 77px,#0b856a 84px,#0c8789 90px,#0c7bb9 103px,#0c78cb 106px,#0f7ad9 107px,#0e73d6 108px,#0c68cd 109px,#0c58be 112px,#093595 122px,#092b87 127px,#072479 136px,#051f6f 168px,#062275 200px,#07267d 212px,#082881 214px)"></i>
<i style="background:linear-gradient(90deg,#dd0c05 0px,#dd0c05 2px,#e42304 7px,#f35f02 12px,#fc9000 15px,#ffe300 19px,#f8e600 20px,#e9e001 21px,#aec309 23px,#7bad0f 25px,#4f9a14 28px,#2b8b16 32px,#188416 36px,#0c7c17 44px,#0b7b19 57px,#0b7d21 64px,#0a7f30 71px,#0a8247 78px,#0b8568 84px,#0c868c 91px,#0c7bb7 103px,#0c78c9 106px,#0e7ad5 107px,#0f76d9 108px,#0c6bce 109px,#0c55bc 113px,#093493 123px,#082b86 128px,#072579 136px,#051f6f 168px,#062275 200px,#07267c 212px,#082880 214px)"></i>
<i style="background:linear-gradient(90deg,#dd0c05 0px,#dd0d05 3px,#e42104 7px,#f25a02 12px,#fd9d00 16px,#ffdb00 19px,#fbe700 20px,#f1e400 21px,#b6c708 23px,#84b10e 25px,#70a910 26px,#489714 29px,#2c8c16 32px,#178316 37px,#0b7c17 45px,#0b7c1b 60px,#0a7e2b 70px,#0a8145 78px,#0c868b 91px,#0c7bb6 103px,#0c78c7 106px,#107adc 108px,#0c66ca 110px,#0b52b9 114px,#093494 123px,#082b86 128px,#072579 136px,#051f6f 168px,#062274 200px,#07267d 213px,#08277f 214px)"></i>
<i style="background:linear-gradient(90deg,#dc0c05 0px,#dd0c05 3px,#e52704 8px,#f15602 12px,#fc9700 16px,#fee800 20px,#f4e500 21px,#dfdb03 22px,#c0cb07 23px,#75ab0f 26px,#4b9814 29px,#2f8d16 32px,#178416 37px,#0c7c17 45px,#0b7c1b 60px,#0a7e28 69px,#0a8144 78px,#0b856a 85px,#0c878a 91px,#0c7bb9 104px,#0d78cc 107px,#0f7bda 108px,#0c68cc 110px,#0b53ba 114px,#093595 123px,#092c89 127px,#072579 136px,#051f6f 168px,#062274 200px,#07267c 213px,#07277e 214px)"></i>
<i style="background:linear-gradient(90deg,#dc0c05 0px,#dd0c05 3px,#e42304 8px,#f35f02 13px,#fc9000 16px,#ffe200 20px,#f8e600 21px,#e9e001 22px,#aec309 24px,#7bad0f 26px,#4f9a14 29px,#2b8b16 33px,#188416 37px,#0c7c17 45px,#0b7b19 58px,#0b7d21 65px,#0a7f30 72px,#0a8247 79px,#0b8568 85px,#0c868c 92px,#0c7bb8 104px,#0c78c9 107px,#0f7ad6 108px,#0f75d8 109px,#0c6ace 110px,#0c54bb 114px,#093393 124px,#082a85 129px,#072479 137px,#051f6f 169px,#062274 201px,#07267c 213px,#07277d 214px)"></i>
<i style="background:linear-gradient(90deg,#dc0c05 0px,#dd0d05 4px,#e42104 8px,#f25a02 13px,#fd9d00 17px,#ffdb00 20px,#fbe700 21px,#f1e400 22px,#b6c708 24px,#84b10e 26px,#70a910 27px,#489714 30px,#2c8c16 33px,#178316 38px,#0b7c17 46px,#0b7c1b 61px,#0a7e2b 71px,#0a8146 79px,#0c868b 92px,#0c7bb6 104px,#0c78c7 107px,#1079db 109px,#0d6dd1 110px,#0c5ac0 113px,#0a3a9b 122px,#092c88 128px,#072579 137px,#051f6f 169px,#062274 201px,#07267d 214px)"></i>
<i style="background:linear-gradient(90deg,#dc0c05 0px,#dd0c05 4px,#e52704 9px,#f15602 13px,#fc9600 17px,#fee800 21px,#f4e500 22px,#dfdb03 23px,#c0cb07 24px,#75ab0f 27px,#4b9814 30px,#2f8d16 33px,#178416 38px,#0c7c17 46px,#0b7c1b 61px,#0a7e28 70px,#0a8144 79px,#0b856a 86px,#0c878a 92px,#0c7cb5 104px,#0c79c5 107px,#0d79cd 108px,#107bdb 109px,#0c67cc 111px,#0b53ba 115px,#093595 124px,#092c89 128px,#072579 137px,#051f6f 169px,#062274 201px,#07267c 214px)"></i>
<i style="background:linear-gradient(90deg,#dc0c05 0px,#dd0c05 4px,#e42304 9px,#f35f02 14px,#fc9000 17px,#ffe200 21px,#f8e600 22px,#e9e001 23px,#aec309 25px,#7bae0f 27px,#4f9a14 30px,#2b8b16 34px,#188416 38px,#0c7c17 46px,#0b7b19 59px,#0b7d21 66px,#0a7f30 73px,#0a8247 80px,#0b8568 86px,#0c868c 93px,#0c7bb8 105px,#0c78ca 108px,#0f7ad7 109px,#0e74d7 110px,#0c69cd 111px,#0c58bf 114px,#0a42a5 120px,#092c89 128px,#072579 137px,#051f6f 169px,#062274 201px,#07267b 214px)"></i>
<i style="background:linear-gradient(90deg,#dc0b05 0px,#dd0d05 5px,#e42104 9px,#f25a02 14px,#fd9d00 18px,#ffdb00 21px,#fbe700 22px,#f1e400 23px,#b6c708 25px,#84b10e 27px,#70a910 28px,#489714 31px,#2c8c16 34px,#178316 39px,#0b7c17 47px,#0b7c1b 62px,#0a7e2b 72px,#0a8146 80px,#0c868b 93px,#0c7bb7 105px,#0c78c7 108px,#0f78db 110px,#0d6cd0 111px,#0c59c0 114px,#0a399a 123px,#092b88 129px,#072579 138px,#051f6f 170px,#062274 202px,#07257a 214px)"></i>
<i style="background:linear-gradient(90deg,#dc0b05 0px,#dd0c05 5px,#e52704 10px,#f15602 14px,#fc9600 18px,#fee800 22px,#f4e500 23px,#dfdb02 24px,#c0cc07 25px,#75ab0f 28px,#4b9814 31px,#2f8d16 34px,#178416 39px,#0c7c17 47px,#0b7c1b 62px,#0a7e28 71px,#0a8144 80px,#0b856a 87px,#0c868a 93px,#0c7bb5 105px,#0c79c5 108px,#0d79ce 109px,#107bdc 110px,#0c67cb 112px,#0b52ba 116px,#093494 125px,#082b86 130px,#072579 138px,#051f6e 170px,#062274 202px,#07257a 214px)"></i>
<i style="background:linear-gradient(90deg,#dc0b05 0px,#dd0c05 5px,#e42304 10px,#f35f02 15px,#fc9000 18px,#ffe200 22px,#f8e600 23px,#e9e101 24px,#aec309 26px,#7cae0f 28px,#4f9a14 31px,#2b8b16 35px,#188416 39px,#0c7c17 47px,#0b7b19 60px,#0b7d21 67px,#0a7f30 74px,#0a8247 81px,#0b8568 87px,#0c868c 94px,#0c7bb8 106px,#0c78ca 109px,#0f7ad8 110px,#0e74d7 111px,#0c69cd 112px,#0c58be 115px,#0a41a5 121px,#092c89 129px,#072579 138px,#051f6e 170px,#062274 202px,#07257a 214px)"></i>
<i style="background:linear-gradient(90deg,#dc0b05 0px,#dd0d05 6px,#e32104 10px,#f25902 15px,#fd9d00 19px,#ffdb00 22px,#fbe700 23px,#f1e400 24px,#b7c708 26px,#84b10e 28px,#71a910 29px,#489714 32px,#2c8c16 35px,#178316 40px,#0b7c17 48px,#0b7c1b 63px,#0a7e2c 73px,#0a8146 81px,#0c868b 94px,#0c7bb7 106px,#0c78c8 109px,#0e79d3 110px,#0f77da 111px,#0c6ccf 112px,#0c59c0 115px,#0a42a6 121px,#092c8a 129px,#072479 139px,#051f6e 171px,#062274 203px,#072579 214px)"></i>
<i style="background:linear-gradient(90deg,#dc0b05 0px,#dd0c05 6px,#e52704 11px,#f15602 15px,#fc9600 19px,#ffe800 23px,#f5e500 24px,#dfdc02 25px,#c1cc07 26px,#75ab0f 29px,#4b9814 32px,#2f8d16 35px,#178416 40px,#0c7c17 48px,#0b7c1b 63px,#0a7e28 72px,#0a8144 81px,#0b856a 88px,#0c868a 94px,#0c7bb6 106px,#0c79c6 109px,#0d79cf 110px,#107bdd 111px,#0c66cb 113px,#0b52b9 117px,#093494 126px,#082b86 131px,#072579 139px,#051f6e 171px,#062274 203px,#072579 214px)"></i>
<i style="background:linear-gradient(90deg,#dc0b05 0px,#dd0c05 6px,#e42304 11px,#f35e02 16px,#fc8f00 19px,#ffe200 23px,#f8e600 24px,#eae101 25px,#aec309 27px,#7cae0f 29px,#509a13 32px,#2b8b16 36px,#188416 40px,#0c7c17 48px,#0b7b19 61px,#0b7d21 68px,#0a7f30 75px,#0a8248 82px,#0b8568 88px,#0c868c 95px,#0c7bb8 107px,#0c78cb 110px,#0f7ad8 111px,#0e73d6 112px,#0c68cd 113px,#0c58be 116px,#093595 126px,#092c89 130px,#072579 139px,#051f6e 171px,#062273 203px,#072479 214px)"></i>
<i style="background:linear-gradient(90deg,#dc0b05 0px,#dd0d05 7px,#e32104 11px,#f25902 16px,#fd9c00 20px,#ffda00 23px,#fbe700 24px,#f1e400 25px,#b7c708 27px,#85b10e 29px,#71a910 30px,#489714 33px,#2c8c16 36px,#178316 41px,#0b7c17 49px,#0b7c1b 64px,#0a7e2c 74px,#0a8146 82px,#0b866d 89px,#0c868b 95px,#0c7bb7 107px,#0c78c8 110px,#0e7ad4 111px,#0f77d9 112px,#0c6bcf 113px,#0c59bf 116px,#0a42a6 122px,#092c89 130px,#072579 139px,#051f6e 171px,#062273 203px,#072479 214px)"></i>
<i style="background:linear-gradient(90deg,#dc0b05 0px,#dd0c05 7px,#e52604 12px,#f15502 16px,#fc9500 20px,#ffe800 24px,#f5e500 25px,#e0dc02 26px,#c1cc07 27px,#76ab0f 30px,#4b9814 33px,#2f8d16 36px,#178416 41px,#0c7c17 49px,#0b7c1b 64px,#0a7e28 73px,#0a8144 82px,#0b856b 89px,#0c868a 95px,#0c7bb6 107px,#0c79c6 110px,#107bdd 112px,#0c66cb 114px,#0b52b9 118px,#093494 127px,#082b86 132px,#072579 140px,#051f6e 172px,#062273 204px,#072478 214px)"></i>
<i style="background:linear-gradient(90deg,#dc0b05 0px,#dd0c05 7px,#e42304 12px,#f35e02 17px,#fc8f00 20px,#ffe100 24px,#f8e600 25px,#ebe101 26px,#afc409 28px,#7dae0f 30px,#509a13 33px,#2b8b16 37px,#188416 41px,#0c7c17 49px,#0b7b19 62px,#0b7d21 69px,#0a7f30 76px,#0a8248 83px,#0b8569 89px,#0c868c 96px,#0c7bb9 108px,#0c78cb 111px,#0f7ad9 112px,#0e73d6 113px,#0c62c7 115px,#0a44a9 122px,#092d8b 130px,#072579 140px,#051f6e 172px,#062273 204px,#072478 214px)"></i>
<i style="background:linear-gradient(90deg,#dc0b05 0px,#dd0d05 8px,#e32104 12px,#ef4d02 16px,#f25902 17px,#fd9c00 21px,#ffda00 24px,#fce700 25px,#f2e400 26px,#b8c708 28px,#85b20e 30px,#71a910 31px,#489714 34px,#2d8c16 37px,#178316 42px,#0b7c17 50px,#0b7c1b 65px,#0a7e2c 75px,#0a8146 83px,#0b866d 90px,#0c868b 96px,#0c7bb7 108px,#0c78c8 111px,#0e7ad4 112px,#0f76d9 113px,#0c6bce 114px,#0c59bf 117px,#0a42a6 123px,#092c89 131px,#072579 140px,#051f6e 172px,#062273 204px,#072478 214px)"></i>
<i style="background:linear-gradient(90deg,#dc0b05 0px,#dd0c05 8px,#e52604 13px,#f15502 17px,#fc9500 21px,#ffe800 25px,#f5e500 26px,#e1dc02 27px,#a7c00a 29px,#76ab0f 31px,#4b9814 34px,#2f8d16 37px,#178416 42px,#0c7c17 50px,#0b7c1b 65px,#0a7e28 74px,#0a8144 83px,#0b856b 90px,#0c868a 96px,#0c7bb6 108px,#0c79c6 111px,#107adc 113px,#0c66cb 115px,#0b52b9 119px,#093493 128px,#082b86 133px,#072479 141px,#051f6e 173px,#062273 205px,#072478 214px)"></i>
<i style="background:linear-gradient(90deg,#dc0b05 0px,#dd0c05 8px,#e42304 13px,#f35e02 18px,#fc8f00 21px,#ffe100 25px,#f8e600 26px,#ebe201 27px,#b0c409 29px,#7dae0e 31px,#509a13 34px,#2b8b16 38px,#188416 42px,#0c7c17 50px,#0b7b19 63px,#0b7d21 70px,#0a7f30 77px,#0a8248 84px,#0b8569 90px,#0c868d 97px,#0c7bb9 109px,#0c78cc 112px,#0f7ad9 113px,#0e72d5 114px,#0c62c7 116px,#0a44a9 123px,#092d8b 131px,#072579 141px,#051f6e 173px,#062273 205px,#072477 214px)"></i>
<i style="background:linear-gradient(90deg,#dc0b05 0px,#dd0d05 9px,#e32104 13px,#ec4103 16px,#f25902 18px,#fd9b00 22px,#ffd900 25px,#fce700 26px,#f2e500 27px,#b8c808 29px,#86b20e 31px,#72a910 32px,#489714 35px,#2d8c16 38px,#178316 43px,#0b7c17 51px,#0b7c1b 66px,#0a7e2c 76px,#0a8146 84px,#0b866d 91px,#0c868b 97px,#0c7bb7 109px,#0c78c9 112px,#0e7ad5 113px,#0f76d9 114px,#0c6ace 115px,#0c59bf 118px,#0a42a5 124px,#092c89 132px,#072579 141px,#051f6e 173px,#062273 205px,#072477 214px)"></i>
<i style="background:linear-gradient(90deg,#db0b05 0px,#dd0c05 9px,#e52604 14px,#f46302 19px,#fc9400 22px,#ffe700 26px,#f5e500 27px,#e2dd02 28px,#a8c10a 30px,#76ab0f 32px,#4c9814 35px,#2f8d16 38px,#178416 43px,#0c7c17 51px,#0b7b1a 65px,#0b7d23 72px,#0a7f31 78px,#0a8249 85px,#0c868a 97px,#0c7bb6 109px,#0c79c6 112px,#107adc 114px,#0c66ca 116px,#0b52b9 120px,#093493 129px,#082b86 134px,#072479 142px,#051f6e 174px,#062273 206px,#072477 214px)"></i>
<i style="background:linear-gradient(90deg,#db0b05 0px,#dd0c05 9px,#e11804 12px,#e42204 14px,#f35d02 19px,#fb8e00 22px,#ffe000 26px,#f9e600 27px,#ece201 28px,#b0c409 30px,#7eaf0e 32px,#519a13 35px,#2b8b16 39px,#188416 43px,#0c7c17 51px,#0b7b19 64px,#0b7d21 71px,#0a7f30 78px,#0a8248 85px,#0b8569 91px,#0c868d 98px,#0c7bb9 110px,#0c78cc 113px,#0f7ad9 114px,#0e72d5 115px,#0c61c7 117px,#0a44a9 124px,#092d8b 132px,#072579 142px,#051f6e 174px,#062273 206px,#062377 214px)"></i>
<i style="background:linear-gradient(90deg,#db0b05 0px,#dd0d05 10px,#e32104 14px,#e93503 16px,#f25802 19px,#fd9b00 23px,#ffd900 26px,#fce700 27px,#f2e500 28px,#d8d803 29px,#b9c808 30px,#87b20d 32px,#72a910 33px,#499714 36px,#2d8c16 39px,#178316 44px,#0b7c17 52px,#0b7c1b 67px,#0a7e2b 77px,#0a8146 85px,#0b866d 92px,#0c868b 98px,#0c7bb7 110px,#0c78c9 113px,#0e7ad5 114px,#0f76d9 115px,#0c6ace 116px,#0c54bb 120px,#0a3696 129px,#092c89 133px,#072579 142px,#051f6e 174px,#062173 206px,#062377 214px)"></i>
<i style="background:linear-gradient(90deg,#db0b05 0px,#dd0c05 10px,#e52504 15px,#f36202 20px,#fc9400 23px,#ffe700 27px,#f6e600 28px,#e3dd02 29px,#a9c10a 31px,#77ac0f 33px,#4c9914 36px,#308d16 39px,#178416 44px,#0c7c17 52px,#0b7b1a 66px,#0b7d23 73px,#0a7f31 79px,#0a8249 86px,#0c868a 98px,#0c7bb6 110px,#0c79c6 113px,#107adc 115px,#0c66ca 117px,#0b51b9 121px,#093493 130px,#082a86 135px,#072479 143px,#051f6e 175px,#062273 207px,#062376 214px)"></i>
<i style="background:linear-gradient(90deg,#db0b05 0px,#de0e05 11px,#e42204 15px,#f25c02 20px,#fb8d00 23px,#ffdf00 27px,#f9e600 28px,#ede300 29px,#b1c509 31px,#7faf0e 33px,#5fa112 35px,#469614 37px,#2b8b16 40px,#188416 44px,#0c7c17 52px,#0b7b18 64px,#0b7d21 72px,#0a7f30 79px,#0a8247 86px,#0b8568 92px,#0c868d 99px,#0c7bb9 111px,#0c78cc 114px,#0f7ada 115px,#0e72d5 116px,#0c61c7 118px,#0a44a8 125px,#092d8a 133px,#072579 143px,#051f6e 175px,#062173 207px,#062376 214px)"></i>
<i style="background:linear-gradient(90deg,#db0b05 0px,#dd0c05 11px,#e32104 15px,#e93503 17px,#f15802 20px,#fc9a00 24px,#ffd800 27px,#fde700 28px,#f3e500 29px,#d9d803 30px,#bac908 31px,#88b30d 33px,#73aa10 34px,#499714 37px,#2d8c16 40px,#178316 45px,#0b7c17 53px,#0b7c1b 68px,#0a7e2b 78px,#0a8146 86px,#0c868b 99px,#0c7bb7 111px,#0c78c9 114px,#0e7ad5 115px,#0f76d9 116px,#0c6ace 117px,#0c54bb 121px,#093595 130px,#092c89 134px,#072579 143px,#051f6e 175px,#062173 207px,#062376 214px)"></i>
<i style="background:linear-gradient(90deg,#db0b05 0px,#dd0c05 11px,#e42504 16px,#f36202 21px,#fc9300 24px,#ffe600 28px,#f6e600 29px,#e4de02 30px,#a9c10a 32px,#77ac0f 34px,#4d9914 37px,#308d16 40px,#188416 45px,#0c7c17 53px,#0b7b1a 67px,#0b7d23 74px,#0a7f31 80px,#0a8249 87px,#0c868a 99px,#0c7bb6 111px,#0c79c6 114px,#107adc 116px,#0c66ca 118px,#0b51b9 122px,#093493 131px,#082a86 136px,#072479 144px,#051f6e 175px,#062173 207px,#062376 214px)"></i>
<i style="background:linear-gradient(90deg,#db0b05 0px,#de0e05 12px,#e42204 16px,#f25c02 21px,#fb8d00 24px,#ffde00 28px,#fae700 29px,#efe300 30px,#b2c509 32px,#80af0e 34px,#60a112 36px,#469614 38px,#2b8b16 41px,#188416 45px,#0c7c17 53px,#0b7b19 66px,#0b7d21 73px,#0a7f30 80px,#0a8247 87px,#0b8568 93px,#0c868c 100px,#0c7bb9 112px,#0c78cc 115px,#0f7ada 116px,#0e72d5 117px,#0c61c7 119px,#0a44a8 126px,#092d8a 134px,#072579 144px,#051f6e 175px,#062172 207px,#062376 214px)"></i>
<i style="background:linear-gradient(90deg,#db0b05 0px,#dd0c05 12px,#e32004 16px,#e83403 18px,#f15702 21px,#fc9900 25px,#ffd700 28px,#fde700 29px,#f3e500 30px,#dad903 31px,#bcc908 32px,#89b30d 34px,#73aa10 35px,#499714 38px,#2d8c16 41px,#178316 46px,#0b7c17 54px,#0b7c1b 69px,#0a7e29 78px,#0a8146 87px,#0c868b 100px,#0c7bb7 112px,#0c78c9 115px,#0e7ad5 116px,#0f76d9 117px,#0c6ace 118px,#0c54bb 122px,#093595 131px,#092c89 135px,#072579 144px,#051f6e 175px,#062172 207px,#062375 214px)"></i>
<i style="background:linear-gradient(90deg,#db0b05 0px,#dd0c05 12px,#e42404 17px,#f36102 22px,#fc9200 25px,#ffe500 29px,#f7e600 30px,#e5df02 31px,#abc20a 33px,#78ac0f 35px,#4d9914 38px,#318d16 41px,#188416 46px,#0c7c17 54px,#0b7b1a 68px,#0b7d23 75px,#0a7f31 81px,#0a8249 88px,#0c868a 100px,#0c7bb6 112px,#0c79c6 115px,#107adc 117px,#0c66ca 119px,#0b52b9 123px,#093493 132px,#082a86 137px,#072479 145px,#051f6e 176px,#062173 208px,#062375 214px)"></i>
<i style="background:linear-gradient(90deg,#db0b05 0px,#de0e05 13px,#e42204 17px,#f25b02 22px,#fb8c00 25px,#ffdd00 29px,#fae700 30px,#f0e400 31px,#b3c609 33px,#81b00e 35px,#60a212 37px,#469614 39px,#2c8c16 42px,#198416 46px,#0c7d17 54px,#0b7b19 67px,#0b7d22 75px,#0a7f30 81px,#0a8247 88px,#0b8568 94px,#0c868c 101px,#0c7bb9 113px,#0c78cc 116px,#0f7ad9 117px,#0e72d5 118px,#0c61c7 120px,#0a44a8 127px,#092d8a 135px,#072579 145px,#051f6e 176px,#062172 208px,#062275 214px)"></i>
<i style="background:linear-gradient(90deg,#db0b05 0px,#dd0c05 13px,#e32004 17px,#e52804 18px,#f15702 22px,#fc9800 26px,#ffd600 29px,#fde800 30px,#f4e500 31px,#dcda03 32px,#bdca07 33px,#8ab40d 35px,#74aa0f 36px,#4a9714 39px,#2e8c16 42px,#178316 47px,#0b7c17 55px,#0b7c1b 70px,#0a7e29 79px,#0a8145 88px,#0c868b 101px,#0c7bb7 113px,#0c78c8 116px,#0e7ad5 117px,#0f76d9 118px,#0c6ace 119px,#0c59bf 122px,#0a42a5 128px,#092c89 136px,#072579 145px,#051f6e 176px,#062172 208px,#062275 214px)"></i>
<i style="background:linear-gradient(90deg,#db0a05 0px,#dd0c05 13px,#e42404 18px,#f36002 23px,#fc9100 26px,#ffe400 30px,#f7e600 31px,#e7df01 32px,#acc209 34px,#79ad0f 36px,#4e9914 39px,#318e16 42px,#188416 47px,#0c7c17 55px,#0b7b1a 69px,#0b7d23 76px,#0a7f30 82px,#0a8249 89px,#0c868a 101px,#0c7bb6 113px,#0c79c6 116px,#107add 118px,#0c66ca 120px,#0b52b9 124px,#093493 133px,#082a86 138px,#072479 146px,#051f6e 177px,#062172 208px,#062275 214px)"></i>
<i style="background:linear-gradient(90deg,#db0a05 0px,#dd0d05 14px,#e42204 18px,#f25a02 23px,#fd9e00 27px,#ffdc00 30px,#fae700 31px,#f1e400 32px,#b5c608 34px,#82b00e 36px,#6fa810 37px,#479614 40px,#2c8c16 43px,#178316 48px,#0c7d17 55px,#0b7b19 68px,#0b7d22 76px,#0a7f2f 82px,#0a8147 89px,#0b8568 95px,#0c868c 102px,#0c7bb8 114px,#0c78cb 117px,#0f7ad9 118px,#0e73d6 119px,#0c62c7 121px,#0a44a9 128px,#092d8a 136px,#072579 146px,#051f6e 177px,#062172 208px,#062274 214px)"></i>
<i style="background:linear-gradient(90deg,#db0a05 0px,#dd0c05 14px,#e52704 19px,#f15602 23px,#fc9700 27px,#fee800 31px,#f4e500 32px,#dddb03 33px,#bfcb07 34px,#8bb40d 36px,#74aa0f 37px,#4a9814 40px,#2e8c16 43px,#178416 48px,#0b7c17 56px,#0b7c1b 71px,#0a7e29 80px,#0a8145 89px,#0c868b 102px,#0c7bb7 114px,#0c78c8 117px,#0e7ad4 118px,#0f77d9 119px,#0c6bcf 120px,#0c59bf 123px,#0a42a5 129px,#092c89 137px,#072579 146px,#051f6e 177px,#062172 209px,#062274 214px)"></i>
<i style="background:linear-gradient(90deg,#db0a05 0px,#dd0c05 14px,#e42304 19px,#f35f02 24px,#fc9000 27px,#ffe300 31px,#f8e600 32px,#e8e001 33px,#adc309 35px,#7bad0f 37px,#4f9a14 40px,#318e16 43px,#188416 48px,#0c7c17 56px,#0b7b19 69px,#0b7d21 76px,#0a7f30 83px,#0a8248 90px,#0c878a 102px,#0c7bb6 114px,#0c79c6 117px,#107bdd 119px,#0c66cb 121px,#0b52b9 125px,#093493 134px,#082a86 139px,#072479 147px,#051f6e 178px,#062172 209px,#062274 214px)"></i>
<i style="background:linear-gradient(90deg,#da0a05 0px,#dd0d05 15px,#e32104 19px,#f25a02 24px,#fd9d00 28px,#ffdb00 31px,#fbe700 32px,#f1e400 33px,#b6c708 35px,#84b10e 37px,#70a910 38px,#479714 41px,#2c8c16 44px,#178316 49px,#0b7c17 57px,#0b7c1b 71px,#0a7d26 79px,#0a8039 86px,#0a8147 90px,#0b8568 96px,#0c868c 103px,#0c7bb8 115px,#0c78cb 118px,#0f7ad8 119px,#0e73d6 120px,#0c68cd 121px,#0c57be 124px,#093594 134px,#082b86 139px,#072579 147px,#051f6e 178px,#062172 209px,#062274 214px)"></i>
<i style="background:linear-gradient(90deg,#da0a05 0px,#dd0c05 15px,#e52704 20px,#f15502 24px,#fc9600 28px,#ffe800 32px,#f5e500 33px,#dfdb02 34px,#c0cc07 35px,#75ab0f 38px,#4b9814 41px,#2f8d16 44px,#178416 49px,#0b7c17 57px,#0b7c1b 72px,#0a7e29 81px,#0a8145 90px,#0c868b 103px,#0c7bb7 115px,#0c78c8 118px,#0e7ad4 119px,#0f77da 120px,#0c6bcf 121px,#0c59bf 124px,#0a42a6 130px,#092c89 138px,#072579 147px,#051f6e 178px,#062172 210px,#062274 214px)"></i>
<i style="background:linear-gradient(90deg,#da0a05 0px,#dd0c05 15px,#e42304 20px,#f35e02 25px,#fc8f00 28px,#ffe100 32px,#f8e600 33px,#eae101 34px,#afc409 36px,#7cae0f 38px,#4f9a14 41px,#2b8b16 45px,#188416 49px,#0c7c17 57px,#0b7b19 70px,#0b7d21 77px,#0a7f30 84px,#0a8248 91px,#0c878a 103px,#0c7bb5 115px,#0c79c6 118px,#0d79cf 119px,#107bdd 120px,#0c66cb 122px,#0b52b9 126px,#093493 135px,#082a86 140px,#072479 148px,#051f6e 179px,#062172 210px,#062274 214px)"></i>
<i style="background:linear-gradient(90deg,#da0a05 0px,#dd0d05 16px,#e32104 20px,#ec4203 23px,#f25902 25px,#fd9c00 29px,#ffda00 32px,#fce700 33px,#f2e400 34px,#b8c708 36px,#85b20e 38px,#71a910 39px,#489714 42px,#2c8c16 45px,#178316 50px,#0b7c17 58px,#0b7c1b 73px,#0a7e2c 83px,#0a8146 91px,#0b866d 98px,#0c868c 104px,#0c7bb8 116px,#0c78ca 119px,#0f7ad8 120px,#0e74d6 121px,#0c69cd 122px,#0c58be 125px,#093595 135px,#082b86 140px,#072579 148px,#051f6e 179px,#062172 210px,#062273 214px)"></i>
<i style="background:linear-gradient(90deg,#da0a05 0px,#dd0c05 16px,#e52604 21px,#f15502 25px,#fc9500 29px,#ffe800 33px,#f5e500 34px,#e1dc02 35px,#a7c00a 37px,#76ab0f 39px,#4b9814 42px,#2f8d16 45px,#178416 50px,#0c7c17 58px,#0b7c1b 73px,#0a7e29 82px,#0a8145 91px,#0b856b 98px,#0c868b 104px,#0c7bb7 116px,#0c78c8 119px,#0e79d3 120px,#0f78da 121px,#0c6cd0 122px,#0c59bf 125px,#0a42a6 131px,#092c89 139px,#072579 148px,#051f6e 179px,#062172 210px,#062273 214px)"></i>
<i style="background:linear-gradient(90deg,#da0a05 0px,#dd0c05 16px,#e11804 19px,#e42204 21px,#f35d02 26px,#fb8e00 29px,#ffe000 33px,#f9e600 34px,#ece201 35px,#b0c409 37px,#7eae0e 39px,#509a13 42px,#2b8b16 46px,#188416 50px,#0c7c17 58px,#0b7b19 71px,#0b7d21 78px,#0a7f30 85px,#0a8248 92px,#0b8569 98px,#0c8789 104px,#0c7cb5 116px,#0c79c5 119px,#0d79ce 120px,#107bdc 121px,#0c67cb 123px,#0b52b9 127px,#093494 136px,#082b86 141px,#072479 149px,#051f6e 180px,#062172 211px,#062273 214px)"></i>
<i style="background:linear-gradient(90deg,#da0a05 0px,#dd0c05 17px,#e32104 21px,#e93503 23px,#f25802 26px,#fd9b00 30px,#ffd900 33px,#fce700 34px,#f2e500 35px,#d8d803 36px,#b9c808 37px,#87b20d 39px,#72a910 40px,#489714 43px,#2d8c16 46px,#178316 51px,#0b7c17 59px,#0b7c1b 74px,#0a7e2c 84px,#0a8146 92px,#0b866d 99px,#0c868c 105px,#0c7bb8 117px,#0c78ca 120px,#0f7ad7 121px,#0e74d7 122px,#0c69cd 123px,#0c58be 126px,#093595 136px,#092c89 140px,#072579 149px,#051f6e 180px,#062172 211px,#062173 214px)"></i>
<i style="background:linear-gradient(90deg,#da0a05 0px,#dd0c05 17px,#e52504 22px,#f36202 27px,#fc9300 30px,#ffe600 34px,#f6e600 35px,#e3dd02 36px,#a9c10a 38px,#77ac0f 40px,#4c9914 43px,#308d16 46px,#178416 51px,#0c7c17 59px,#0b7b1a 73px,#0b7d23 80px,#0a7f31 86px,#0a8249 93px,#0c868a 105px,#0c7bb6 117px,#0c78c7 120px,#0f79db 122px,#0d6dd0 123px,#0c59c0 126px,#0a42a6 132px,#092c89 140px,#072579 149px,#051f6e 180px,#062172 211px,#062173 214px)"></i>
<i style="background:linear-gradient(90deg,#da0a05 0px,#de0e05 18px,#e42204 22px,#f25c02 27px,#fb8d00 30px,#ffdf00 34px,#f9e600 35px,#eee300 36px,#b2c509 38px,#7faf0e 40px,#5fa112 42px,#469614 44px,#2b8b16 47px,#188416 51px,#0c7c17 59px,#0b7b18 71px,#0b7d21 79px,#0a7f30 86px,#0a8248 93px,#0b8569 99px,#0c868d 106px,#0c7bb9 118px,#0d78cd 121px,#107bdb 122px,#0c67cc 124px,#0b52ba 128px,#093494 137px,#082b86 142px,#072479 150px,#051f6e 181px,#062172 212px,#062173 214px)"></i>
<i style="background:linear-gradient(90deg,#da0a05 0px,#dd0c05 18px,#e32004 22px,#e83403 24px,#f15702 27px,#fc9900 31px,#ffd700 34px,#fde700 35px,#f3e500 36px,#dad903 37px,#bbc908 38px,#88b30d 40px,#73aa10 41px,#499714 44px,#2d8c16 47px,#178316 52px,#0b7c17 60px,#0b7c1b 75px,#0a7e29 84px,#0a8146 93px,#0b866d 100px,#0c868b 106px,#0c7bb8 118px,#0c78c9 121px,#0f7ad6 122px,#0f75d8 123px,#0c6ace 124px,#0c58bf 127px,#0a41a5 133px,#092c89 141px,#072579 150px,#051f6e 181px,#062172 212px,#062173 214px)"></i>
<i style="background:linear-gradient(90deg,#da0a05 0px,#dd0c05 18px,#e42404 23px,#f36102 28px,#fc9200 31px,#ffe500 35px,#f7e600 36px,#e5df02 37px,#abc20a 39px,#78ac0f 41px,#4d9914 44px,#308d16 47px,#188416 52px,#0c7c17 60px,#0b7b1a 74px,#0b7d23 81px,#0a7f31 87px,#0a8249 94px,#0c868a 106px,#0c7bb6 118px,#0c78c7 121px,#1079dc 123px,#0d6dd1 124px,#0c5ac0 127px,#0a42a6 133px,#092c89 141px,#072579 150px,#051f6e 181px,#062172 213px,#062172 214px)"></i>
<i style="background:linear-gradient(90deg,#da0a05 0px,#dd0e05 19px,#e42204 23px,#f25b02 28px,#fb8c00 31px,#ffdd00 35px,#fae700 36px,#f0e400 37px,#b4c609 39px,#81b00e 41px,#61a212 43px,#469614 45px,#2c8c16 48px,#198416 52px,#0c7d17 60px,#0b7b19 73px,#0b7d22 81px,#0a7f30 87px,#0a8247 94px,#0b8568 100px,#0c868c 107px,#0c7bb9 119px,#0c78cc 122px,#0f7ada 123px,#0c61c6 126px,#0a44a8 133px,#092d8a 141px,#072479 151px,#051f6e 182px,#062172 213px,#062172 214px)"></i>
<i style="background:linear-gradient(90deg,#da0a05 0px,#dd0c05 19px,#e32004 23px,#e52804 24px,#f15602 28px,#fc9800 32px,#fee800 36px,#f4e500 37px,#dcda03 38px,#beca07 39px,#8ab40d 41px,#74aa0f 42px,#4a9814 45px,#2e8c16 48px,#178316 53px,#0b7c17 61px,#0b7c1b 76px,#0a7e29 85px,#0a8145 94px,#0c868b 107px,#0c7bb7 119px,#0c78c9 122px,#0e7ad5 123px,#0f76d9 124px,#0c6ace 125px,#0c54bb 129px,#093595 138px,#092c89 142px,#072579 151px,#051f6e 182px,#062172 213px,#062172 214px)"></i>
<i style="background:linear-gradient(90deg,#da0a05 0px,#dd0c05 19px,#e42304 24px,#f36002 29px,#fc9000 32px,#ffe300 36px,#f7e600 37px,#e8e001 38px,#acc309 40px,#7aad0f 42px,#4e9914 45px,#318e16 48px,#188416 53px,#0c7c17 61px,#0b7b19 74px,#0b7d21 81px,#0a7e2d 87px,#0a8249 95px,#0c878a 107px,#0c7bb6 119px,#0c79c6 122px,#107add 124px,#0c66ca 126px,#0b52b9 130px,#093493 139px,#082a86 144px,#072479 152px,#051f6e 183px,#062172 214px)"></i>
<i style="background:linear-gradient(90deg,#da0a05 0px,#dd0d05 20px,#e42104 24px,#f25a02 29px,#fd9d00 33px,#ffdc00 36px,#fbe700 37px,#f1e400 38px,#b6c708 40px,#83b10e 42px,#70a810 43px,#479614 46px,#2c8c16 49px,#178316 54px,#0b7c17 62px,#0b7c1b 76px,#0a7d26 84px,#0a803c 92px,#0a824c 96px,#0c8789 107px,#0c7bb8 120px,#0c78cb 123px,#0f7ad9 124px,#0e73d6 125px,#0c68cd 126px,#0c57be 129px,#093594 139px,#082b86 144px,#072579 152px,#051f6e 183px,#062172 214px)"></i>
<i style="background:linear-gradient(90deg,#d90a05 0px,#dd0c05 20px,#e52704 25px,#f15602 29px,#fc9600 33px,#fee800 37px,#f4e500 38px,#dfdb02 39px,#c0cc07 40px,#75ab0f 43px,#4b9814 46px,#2f8d16 49px,#178416 54px,#0b7c17 62px,#0b7c1b 77px,#0a7e29 86px,#0a8145 95px,#0c868b 108px,#0c7bb7 120px,#0c78c8 123px,#0e7ad4 124px,#0f77da 125px,#0c6bcf 126px,#0c59bf 129px,#0a42a6 135px,#092c89 143px,#072579 152px,#051f6e 183px,#062172 214px)"></i>
<i style="background:linear-gradient(90deg,#d90a05 0px,#dd0c05 20px,#e42304 25px,#f35e02 30px,#fc8f00 33px,#ffe200 37px,#f8e600 38px,#eae101 39px,#aec309 41px,#7cae0f 43px,#4f9a14 46px,#2b8b16 50px,#188416 54px,#0c7c17 62px,#0b7b19 75px,#0b7d21 82px,#0a7f30 89px,#0a8248 96px,#0c878a 108px,#0c7cb5 120px,#0c79c5 123px,#0d79cf 124px,#107bdc 125px,#0c67cb 127px,#0b52b9 131px,#093493 140px,#082b86 145px,#072479 153px,#051f6e 184px,#062172 214px)"></i>
<i style="background:linear-gradient(90deg,#d90a05 0px,#dd0d05 21px,#e32104 25px,#ec4203 28px,#f25902 30px,#fd9c00 34px,#ffda00 37px,#fce700 38px,#f2e400 39px,#b8c708 41px,#85b20e 43px,#71a910 44px,#489714 47px,#2c8c16 50px,#178316 55px,#0b7c17 63px,#0b7c1b 78px,#0a7e2c 88px,#0a8146 96px,#0b866d 103px,#0c868c 109px,#0c7bb8 121px,#0c78ca 124px,#0f7ad7 125px,#0e74d7 126px,#0c69cd 127px,#0c58be 130px,#093595 140px,#092c89 144px,#072579 153px,#051f6e 184px,#062172 214px)"></i>
<i style="background:linear-gradient(90deg,#d90a05 0px,#dd0c05 21px,#e52604 26px,#f46302 31px,#fc9400 34px,#ffe700 38px,#f5e500 39px,#e1dd02 40px,#a7c00a 42px,#76ab0f 44px,#4b9814 47px,#2f8d16 50px,#178416 55px,#0c7c17 63px,#0b7c1b 78px,#0a7e29 87px,#0a8145 96px,#0b856b 103px,#0c868a 109px,#0c7bb6 121px,#0c78c7 124px,#0f78db 126px,#0d6cd0 127px,#0c59c0 130px,#0a42a6 136px,#092c89 144px,#072579 153px,#051f6e 184px,#062171 214px)"></i>
<i style="background:linear-gradient(90deg,#d90905 0px,#dd0c05 21px,#e11804 24px,#e42204 26px,#f35d02 31px,#fb8e00 34px,#ffe000 38px,#f9e600 39px,#ede200 40px,#b1c409 42px,#7eaf0e 44px,#519a13 47px,#2b8b16 51px,#188416 55px,#0c7c17 63px,#0b7b19 76px,#0b7d21 83px,#0a7f30 90px,#0a8248 97px,#0b8569 103px,#0c868d 110px,#0c7bb9 122px,#0d78cd 125px,#107bdb 126px,#0c67cc 128px,#0b52ba 132px,#093494 141px,#082b86 146px,#072479 154px,#051f6e 185px,#062171 214px)"></i>
<i style="background:linear-gradient(90deg,#d90905 0px,#dd0c05 22px,#e32104 26px,#e93503 28px,#f15802 31px,#fc9a00 35px,#ffd800 38px,#fce700 39px,#f3e500 40px,#d9d803 41px,#bac908 42px,#87b30d 44px,#72a910 45px,#499714 48px,#2d8c16 51px,#178316 56px,#0b7c17 64px,#0b7c1b 79px,#0a7e2b 89px,#0a8146 97px,#0b866d 104px,#0c868b 110px,#0c7bb7 122px,#0c78c9 125px,#0e7ad6 126px,#0f75d8 127px,#0c6ace 128px,#0c58bf 131px,#0a41a5 137px,#092c89 145px,#072579 154px,#051f6e 185px,#062171 214px)"></i>
<i style="background:linear-gradient(90deg,#d90905 0px,#dd0c05 22px,#e42504 27px,#f36102 32px,#fc9300 35px,#ffe600 39px,#f6e600 40px,#e4de02 41px,#aac10a 43px,#78ac0f 45px,#4d9914 48px,#308d16 51px,#188416 56px,#0c7c17 64px,#0b7b1a 78px,#0b7d23 85px,#0a7f31 91px,#0a8249 98px,#0c868a 110px,#0c7bb6 122px,#0c79c6 125px,#107adc 127px,#0c66ca 129px,#0b51b9 133px,#093393 142px,#082a85 147px,#072479 155px,#051f6e 186px,#062171 214px)"></i>
<i style="background:linear-gradient(90deg,#d90905 0px,#de0e05 23px,#e42204 27px,#f25b02 32px,#fb8c00 35px,#ffde00 39px,#fae700 40px,#efe400 41px,#b3c509 43px,#80b00e 45px,#60a112 47px,#469614 49px,#2c8b16 52px,#198416 56px,#0c7d17 64px,#0b7b19 77px,#0b7d22 85px,#0a7f30 91px,#0a8247 98px,#0b8568 104px,#0c868c 111px,#0c7bb9 123px,#0c78cb 126px,#0f7ad9 127px,#0e72d5 128px,#0c62c7 130px,#0a44a8 137px,#092d8a 145px,#072579 155px,#051f6e 186px,#062171 214px)"></i>
<i style="background:linear-gradient(90deg,#d90905 0px,#dd0c05 23px,#e32004 27px,#e83403 29px,#f15702 32px,#fc9800 36px,#ffd600 39px,#fde800 40px,#f3e500 41px,#dcda03 42px,#bdca07 43px,#8ab40d 45px,#74aa0f 46px,#4a9714 49px,#2e8c16 52px,#178316 57px,#0b7c17 65px,#0b7c1b 80px,#0a7e29 89px,#0a8145 98px,#0c868b 111px,#0c7bb7 123px,#0c78c8 126px,#0e7ad4 127px,#0f77d9 128px,#0c6bcf 129px,#0c59bf 132px,#0a42a5 138px,#092c89 146px,#072579 155px,#051f6e 187px,#052071 214px)"></i>
<i style="background:linear-gradient(90deg,#d90905 0px,#dd0c05 23px,#e42404 28px,#f36002 33px,#fc9100 36px,#ffe400 40px,#f7e600 41px,#e7df01 42px,#acc209 44px,#7aad0f 46px,#4e9914 49px,#318e16 52px,#188416 57px,#0c7c17 65px,#0b7b19 78px,#0b7d21 85px,#0a7e2d 91px,#0a8249 99px,#0c878a 111px,#0c7bb6 123px,#0c79c6 126px,#0d79cf 127px,#107bdd 128px,#0c66cb 130px,#0b52b9 134px,#093494 143px,#082b86 148px,#072479 156px,#051f6e 187px,#052071 214px)"></i>
<i style="background:linear-gradient(90deg,#d90905 0px,#dd0d05 24px,#e42104 28px,#f25a02 33px,#fd9e00 37px,#ffdc00 40px,#fbe700 41px,#f1e400 42px,#b5c608 44px,#83b10e 46px,#70a810 47px,#479614 50px,#2c8c16 53px,#178316 58px,#0b7c17 66px,#0b7c1b 80px,#0a7d26 88px,#0a8039 95px,#0a8147 99px,#0b8568 105px,#0c868c 112px,#0c7bb8 124px,#0c78ca 127px,#0f7ad7 128px,#0e74d7 129px,#0c69cd 130px,#0c58be 133px,#093595 143px,#092c89 147px,#072579 156px,#051f6e 188px,#052071 214px)"></i>
<i style="background:linear-gradient(90deg,#d90905 0px,#dd0c05 24px,#e52704 29px,#f15602 33px,#fc9600 37px,#fee800 41px,#f4e500 42px,#dfdb03 43px,#c0cb07 44px,#75ab0f 47px,#4b9814 50px,#2f8d16 53px,#178416 58px,#0b7c17 66px,#0b7c1b 81px,#0a7e29 90px,#0a8145 99px,#0c868b 112px,#0c7bb7 124px,#0c78c7 127px,#0f78db 129px,#0d6cd0 130px,#0c59c0 133px,#0a42a6 139px,#092c89 147px,#072579 156px,#051f6e 188px,#052071 214px)"></i>
<i style="background:linear-gradient(90deg,#d90905 0px,#dd0c05 24px,#e42304 29px,#f35e02 34px,#fc8f00 37px,#ffe200 41px,#f8e600 42px,#eae101 43px,#aec309 45px,#7cae0f 47px,#4f9a14 50px,#2b8b16 54px,#188416 58px,#0c7c17 66px,#0b7b19 79px,#0b7d21 86px,#0a7f30 93px,#0a8248 100px,#0b8569 106px,#0c868d 113px,#0c7bb9 125px,#0d78cd 128px,#107bdb 129px,#0c67cc 131px,#0b53ba 135px,#093494 144px,#082b86 149px,#072579 157px,#051f6e 189px,#052071 214px)"></i>
<i style="background:linear-gradient(90deg,#d90905 0px,#dd0d05 25px,#e32104 29px,#ef4d02 33px,#f25902 34px,#fd9c00 38px,#ffda00 41px,#fce700 42px,#f2e400 43px,#b8c708 45px,#85b20e 47px,#71a910 48px,#489714 51px,#2d8c16 54px,#178316 59px,#0b7c17 67px,#0b7c1b 82px,#0a7e2c 92px,#0a8146 100px,#0b866d 107px,#0c868c 113px,#0c7bb7 125px,#0c78c9 128px,#0e7ad6 129px,#0f75d8 130px,#0c6ace 131px,#0c58bf 134px,#0a42a5 140px,#092c89 148px,#072579 157px,#051f6e 189px,#052071 214px)"></i>
<i style="background:linear-gradient(90deg,#d90905 0px,#dd0c05 25px,#e52604 30px,#f46302 35px,#fc9400 38px,#ffe700 42px,#f5e500 43px,#e2dd02 44px,#a8c10a 46px,#77ab0f 48px,#4c9814 51px,#308d16 54px,#178416 59px,#0c7c17 67px,#0b7b1a 81px,#0b7d23 88px,#0a7f31 94px,#0a8249 101px,#0c868a 113px,#0c7bb6 125px,#0c79c6 128px,#107adc 130px,#0c66ca 132px,#0b52b9 136px,#093493 145px,#082b86 150px,#072479 158px,#051f6e 190px,#052070 214px)"></i>
<i style="background:linear-gradient(90deg,#d80905 0px,#dd0c05 25px,#e11804 28px,#e42204 30px,#f25d02 35px,#fb8e00 38px,#ffdf00 42px,#f9e600 43px,#ede300 44px,#b1c509 46px,#7faf0e 48px,#519b13 51px,#2b8b16 55px,#188416 59px,#0c7c17 67px,#0b7b19 80px,#0b7d21 87px,#0a7f30 94px,#0a8247 101px,#0b8568 107px,#0c868c 114px,#0c7bb8 126px,#0c78cb 129px,#0f7ad9 130px,#0e73d6 131px,#0c68cc 132px,#0c57be 135px,#093595 145px,#092c89 149px,#072579 158px,#051f6e 190px,#052070 214px)"></i>
<i style="background:linear-gradient(90deg,#d80905 0px,#dd0c05 26px,#e32004 30px,#e83503 32px,#f15802 35px,#fc9a00 39px,#ffd800 42px,#fde700 43px,#f3e500 44px,#dad903 45px,#bbc908 46px,#88b30d 48px,#73aa10 49px,#499714 52px,#2d8c16 55px,#178316 60px,#0b7c17 68px,#0b7c1b 83px,#0a7e29 92px,#0a8145 101px,#0c868b 114px,#0c7bb7 126px,#0c78c8 129px,#0e7ad4 130px,#0f77da 131px,#0c6bcf 132px,#0c59bf 135px,#0a42a6 141px,#092c89 149px,#072579 158px,#051f6e 190px,#052070 214px)"></i>
<i style="background:linear-gradient(90deg,#d80905 0px,#dd0c05 26px,#e42504 31px,#f36102 36px,#fc9200 39px,#ffe500 43px,#f6e600 44px,#e5de02 45px,#aac20a 47px,#78ac0f 49px,#4d9914 52px,#308d16 55px,#188416 60px,#0c7c17 68px,#0b7b1a 82px,#0b7d23 89px,#0a7f30 95px,#0a8249 102px,#0c878a 114px,#0c7cb5 126px,#0c79c5 129px,#0d79ce 130px,#107bdc 131px,#0c67cb 133px,#0b52b9 137px,#093494 146px,#082b86 151px,#072579 159px,#051f6e 191px,#052070 214px)"></i>
</div>
<div class="p" style="left:321px;top:21px;width:216px;height:192px">
<i style="background:linear-gradient(90deg,#0a7a18 0px,#0b7c1b 12px,#0a7e2c 23px,#0a8146 32px,#0c8788 46px,#0c7abb 63px,#0c78c9 66px,#107bdd 68px,#0d6ed2 69px,#0c59c0 72px,#0a3b9d 80px,#092c8a 86px,#072579 97px,#062375 123px,#07267b 140px,#09308e 150px,#0a44a9 157px,#0c5dc3 163px,#0c6bcf 165px,#0f78db 166px,#0e7ad5 167px,#0c78cb 168px,#0c7bb8 172px,#0c8785 189px,#0a8143 203px,#0a7d26 214px,#0b7d23 216px)"></i>
<i style="background:linear-gradient(90deg,#0a7a18 0px,#0b7c1b 12px,#0a7e28 22px,#0a8147 33px,#0c8789 47px,#0c7abb 64px,#0c78c9 67px,#107bdd 69px,#0c66ca 71px,#0b51b8 75px,#0a3696 83px,#092c88 88px,#072579 99px,#062376 125px,#07267c 140px,#09308f 150px,#0a45aa 157px,#0c5ec3 163px,#0c6cd0 165px,#0f79db 166px,#0e7ad5 167px,#0c78cb 168px,#0c7bb8 172px,#0c8785 189px,#0a8143 203px,#0a7e28 213px,#0a7d24 216px)"></i>
<i style="background:linear-gradient(90deg,#0b7b18 0px,#0b7c1b 13px,#0a7e27 22px,#0a8144 33px,#0c8789 48px,#0c7abb 65px,#0c78ca 68px,#107bdd 70px,#0c66ca 72px,#0b51b8 76px,#0a3797 84px,#092c89 89px,#072579 100px,#062376 126px,#07267c 139px,#092f8d 149px,#0a42a6 156px,#0c5ec4 163px,#0d6cd0 165px,#0f79db 166px,#0c79c5 169px,#0c7cb5 173px,#0c8782 190px,#0a8144 203px,#0a7e27 214px,#0a7d24 216px)"></i>
<i style="background:linear-gradient(90deg,#0b7b18 0px,#0b7c1b 14px,#0a7e29 24px,#0a8145 34px,#0b856a 42px,#0c868d 50px,#0c7abb 66px,#0c78ca 69px,#107bdd 71px,#0c66ca 73px,#0b51b9 77px,#0a3798 85px,#092c89 90px,#072579 102px,#072477 128px,#07267d 139px,#092f8e 149px,#0a43a6 156px,#0c5ec4 163px,#0d6dd0 165px,#1079db 166px,#0c79c5 169px,#0c7bb5 173px,#0c8782 190px,#0a8145 203px,#0a7e28 214px,#0a7d24 216px)"></i>
<i style="background:linear-gradient(90deg,#0b7b18 0px,#0b7c1b 14px,#0a7d26 23px,#0a813f 33px,#0a845c 40px,#0c8787 49px,#0c7abb 67px,#0c78ca 70px,#107bdd 72px,#0c66ca 74px,#0b52b9 78px,#0a3898 86px,#092c88 92px,#072579 104px,#072478 130px,#07277e 139px,#09308f 149px,#0a43a7 156px,#0c5fc4 163px,#0d6dd1 165px,#1079db 166px,#0c79c5 169px,#0c7bb6 173px,#0c8783 190px,#0a8142 204px,#0a7d26 215px,#0a7d25 216px)"></i>
<i style="background:linear-gradient(90deg,#0b7c17 0px,#0b7c1b 15px,#0a7e28 25px,#0a8147 36px,#0c868b 51px,#0c7abb 68px,#0c78ca 71px,#107add 73px,#0c66ca 75px,#0b52b9 79px,#0a3899 87px,#092c89 93px,#072579 106px,#072579 132px,#082a84 143px,#093190 149px,#0a43a8 156px,#0c5fc5 163px,#0d6dd1 165px,#1079dc 166px,#0c78cb 168px,#0c7bb9 172px,#0c8784 190px,#0a8143 204px,#0a7d27 215px,#0a7d25 216px)"></i>
<i style="background:linear-gradient(90deg,#0b7c17 0px,#0b7c1b 16px,#0a7e29 26px,#0a8248 37px,#0c8788 51px,#0c7abc 69px,#0c78ca 72px,#107adc 74px,#0c66ca 76px,#0b52b9 80px,#0a399a 88px,#092c89 94px,#07257a 107px,#07257a 133px,#092d8b 147px,#0a41a4 155px,#0c5ac0 162px,#0d6ed1 165px,#107adc 166px,#0c79c6 169px,#0c7bb6 173px,#0c8784 190px,#0a8144 204px,#0a7e27 215px,#0a7d26 216px)"></i>
<i style="background:linear-gradient(90deg,#0c7c17 0px,#0b7b1a 15px,#0b7d23 23px,#0a7f31 30px,#0a8249 38px,#0c8789 52px,#0c7abc 70px,#0c78cb 73px,#107adc 75px,#0c66cb 77px,#0b52ba 81px,#0a3797 90px,#092c88 96px,#07257a 110px,#07257a 133px,#092e8c 147px,#0a41a5 155px,#0c5ac0 162px,#0d6ed1 165px,#107adc 166px,#0c79c6 169px,#0c7bb9 172px,#0c8785 190px,#0a8145 204px,#0a7e27 215px,#0a7d26 216px)"></i>
<i style="background:linear-gradient(90deg,#0c7d17 0px,#0b7b18 13px,#0b7d21 23px,#0a7f31 31px,#0a8145 38px,#0b856b 46px,#0c868c 54px,#0c7abc 71px,#0c78cb 74px,#107adc 76px,#0c66cb 78px,#0b53ba 82px,#0a3798 91px,#092c89 97px,#07257a 112px,#07267b 133px,#092f8d 147px,#0a42a5 155px,#0c5ac1 162px,#0d6ed1 165px,#107adc 166px,#0c79c6 169px,#0c7bb6 173px,#0c8786 190px,#0a8145 204px,#0a7e28 215px,#0a7d26 216px)"></i>
<i style="background:linear-gradient(90deg,#0c7d17 0px,#0b7b18 14px,#0b7d20 23px,#0a7f2f 31px,#0a8146 39px,#0c878a 54px,#0c7abc 72px,#0c78cc 75px,#1079dc 77px,#0c66ca 79px,#0b53ba 83px,#0a3898 92px,#092c88 99px,#07257a 114px,#07267c 133px,#092d8b 146px,#0a42a6 155px,#0c5bc1 162px,#0d6ed2 165px,#107adc 166px,#0c79c6 169px,#0c7bb7 173px,#0c8782 191px,#0a8142 205px,#0a7d27 216px)"></i>
<i style="background:linear-gradient(90deg,#0d7e17 0px,#0b7b18 13px,#0b7d21 24px,#0a7f30 32px,#0a8248 40px,#0c868a 55px,#0c7abd 73px,#0c78cc 76px,#1079db 78px,#0c66ca 80px,#0b53ba 84px,#0a3899 93px,#092c89 100px,#07267b 115px,#07267c 131px,#092d8a 145px,#0a40a3 154px,#0c5bc1 162px,#0d6ed2 165px,#107adc 166px,#0c79c6 169px,#0c7bb7 173px,#0c8783 191px,#0a8143 205px,#0a7e27 216px)"></i>
<i style="background:linear-gradient(90deg,#0e7e17 0px,#0b7b18 12px,#0b7c20 24px,#0a7f31 33px,#0a8249 41px,#0c8788 55px,#0c7abd 74px,#0d78cd 77px,#0f79db 79px,#0c66ca 81px,#0b53ba 85px,#0a399a 94px,#092c89 101px,#07267c 116px,#07267d 131px,#092d8b 145px,#0a40a3 154px,#0c5bc1 162px,#0d6ed2 165px,#1079dc 166px,#0c79c6 169px,#0c7bb7 173px,#0c8784 191px,#0a8144 205px,#0a7e28 216px)"></i>
<i style="background:linear-gradient(90deg,#0f7f17 0px,#0a7a18 9px,#0b7c1c 21px,#0a7e2c 32px,#0a8146 41px,#0b856a 49px,#0c868c 57px,#0c7abe 75px,#0d79cd 78px,#0f7ad6 79px,#0f78db 80px,#0c66ca 82px,#0b53ba 86px,#0a399a 95px,#092c89 103px,#07267d 118px,#08287f 133px,#092f8e 146px,#0a41a4 154px,#0c5bc1 162px,#0d6ed2 165px,#1079db 166px,#0c78c7 169px,#0c7bb7 173px,#0c8784 191px,#0a8145 205px,#0a7e28 216px)"></i>
<i style="background:linear-gradient(90deg,#107f17 0px,#0b7b18 7px,#0b7c1b 21px,#0a7e2a 32px,#0a8147 42px,#0c8789 57px,#0c7abe 76px,#0d79ce 79px,#0f7ad7 80px,#0f78da 81px,#0c66ca 83px,#0b53ba 87px,#0a3898 97px,#092c88 105px,#07277e 120px,#082982 135px,#09308f 146px,#0a41a5 154px,#0c5bc1 162px,#0d6ed1 165px,#1079db 166px,#0c79c2 170px,#0b80a3 180px,#0c8785 191px,#0a8142 206px,#0a7e28 216px)"></i>
<i style="background:linear-gradient(90deg,#118017 0px,#0b7c17 6px,#0b7c1b 21px,#0a7e27 31px,#0a8248 43px,#0c868a 58px,#0c7abf 77px,#0d79ce 80px,#0f7ad7 81px,#0f77da 82px,#0c65ca 84px,#0b53bb 88px,#0a3899 98px,#092c89 106px,#08277f 121px,#082983 136px,#092f8e 145px,#0a42a5 154px,#0c5bc1 162px,#0d6ed1 165px,#0f79db 166px,#0c79c3 170px,#0b80a4 180px,#0c8782 192px,#0a8143 206px,#0a7e29 216px)"></i>
<i style="background:linear-gradient(90deg,#128116 0px,#0b7c17 6px,#0b7c1b 22px,#0a7e28 32px,#0a8145 43px,#0c868b 59px,#0c7abf 78px,#0d79cf 81px,#0f7ad8 82px,#0f77d9 83px,#0c6cd0 84px,#0c57be 88px,#0a3d9f 97px,#092c8a 107px,#082880 122px,#082a85 137px,#09308f 145px,#0a42a6 154px,#0c5bc1 162px,#0d6ed1 165px,#0f78db 166px,#0f7ad6 167px,#0c78c7 169px,#0c7cb5 174px,#0c8783 192px,#0a8144 206px,#0a7e29 216px)"></i>
<i style="background:linear-gradient(90deg,#138116 0px,#0b7c17 7px,#0b7c1b 23px,#0a7e2a 34px,#0a8146 44px,#0b856a 52px,#0c868b 60px,#0c7abb 78px,#0c78c8 81px,#0f7ad8 83px,#0f76d9 84px,#0c6ccf 85px,#0c57be 89px,#0a3b9d 99px,#092c89 109px,#082881 124px,#092b87 139px,#093291 146px,#0a42a6 154px,#0c5bc1 162px,#0d6dd1 165px,#0f78da 166px,#0f7ad7 167px,#0c78c8 169px,#0c7bb5 174px,#0c8784 192px,#0a8145 206px,#0a7e2a 216px)"></i>
<i style="background:linear-gradient(90deg,#148216 0px,#0b7c17 7px,#0b7c1b 23px,#0a7e27 33px,#0a8247 45px,#0c8789 60px,#0c7abc 79px,#0c78c9 82px,#0f7ad9 84px,#0f76d8 85px,#0c6bcf 86px,#0c57be 90px,#0a3c9d 100px,#092c8a 110px,#082982 125px,#092c89 140px,#0a3a9b 150px,#0c54bb 160px,#0c66cb 164px,#0f78da 166px,#0f7ad7 167px,#0c78c8 169px,#0c7bb6 174px,#0c8785 192px,#0a8142 207px,#0a7e2a 216px)"></i>
<i style="background:linear-gradient(90deg,#158216 0px,#0b7c17 8px,#0b7c1b 24px,#0a7e29 35px,#0a8248 46px,#0c878a 61px,#0c7abc 80px,#0c78c9 83px,#0f7ad9 85px,#0f75d8 86px,#0c6bce 87px,#0c57be 91px,#0a3c9e 101px,#092c8a 112px,#082983 127px,#092e8c 142px,#0a41a4 153px,#0c5bc2 162px,#0d6dd1 165px,#0f77da 166px,#0f7ad8 167px,#0c78c8 169px,#0c7bb6 174px,#0c8785 192px,#0a8143 207px,#0a7e2b 216px)"></i>
<i style="background:linear-gradient(90deg,#168316 0px,#0c7c17 8px,#0b7c1b 24px,#0a7d24 32px,#0a7f32 39px,#0a8145 46px,#0c868a 62px,#0c7abd 81px,#0c78ca 84px,#0f7bda 86px,#0e74d7 87px,#0c6ace 88px,#0c57be 92px,#0a3c9e 102px,#092d8a 113px,#082a85 128px,#092f8d 142px,#0a3fa1 152px,#0c58bf 161px,#0d6dd0 165px,#0f77d9 166px,#0f7ad8 167px,#0c78c9 169px,#0c7bb9 173px,#0c8782 193px,#0a8144 207px,#0a7e2c 216px)"></i>
<i style="background:linear-gradient(90deg,#178416 0px,#0b7c17 9px,#0b7c1b 25px,#0a7e27 35px,#0a8147 47px,#0c8788 62px,#0c7abd 82px,#0c78ca 85px,#107bdb 87px,#0e73d6 88px,#0c6ace 89px,#0c57be 93px,#0a3d9f 103px,#092d8b 114px,#082b86 129px,#092f8e 142px,#0a3fa2 152px,#0c58bf 161px,#0c6cd0 165px,#0f76d9 166px,#0f7ad9 167px,#0c78c9 169px,#0c7bb9 173px,#0c8783 193px,#0a8142 208px,#0a7e2d 216px)"></i>
<i style="background:linear-gradient(90deg,#198416 0px,#0c7c17 9px,#0b7b1a 25px,#0b7d23 33px,#0a7f31 40px,#0a8248 48px,#0c8789 63px,#0c7abe 83px,#0c78cb 86px,#107bdb 88px,#0c69cd 90px,#0b54bb 95px,#0a3b9d 105px,#092d8b 116px,#092b87 131px,#09308f 142px,#0a40a3 152px,#0c58bf 161px,#0c6ccf 165px,#0f76d8 166px,#0f7ad9 167px,#0c78c9 169px,#0c7bb7 174px,#0c8784 193px,#0a8142 208px,#0a7e2d 216px)"></i>
<i style="background:linear-gradient(90deg,#1b8516 0px,#0c7d17 9px,#0b7b19 23px,#0b7d22 33px,#0a7f2f 40px,#0a8249 49px,#0c878a 64px,#0c7abe 84px,#0c78cc 87px,#107bdc 89px,#0c69cd 91px,#0b54bb 96px,#0a3c9d 106px,#092d8b 118px,#092c89 133px,#093291 143px,#0a42a6 153px,#0c5bc2 162px,#0c6bcf 165px,#0f75d8 166px,#0f7ada 167px,#0c78ca 169px,#0c7bb7 174px,#0c8785 193px,#0a8144 208px,#0a7f2e 216px)"></i>
<i style="background:linear-gradient(90deg,#1e8616 0px,#148216 4px,#0b7c17 11px,#0b7c1b 27px,#0a7e27 37px,#0a8146 49px,#0c8787 64px,#0c7abf 85px,#0d78cd 88px,#107bdd 90px,#0c69cd 92px,#0b54bb 97px,#0a3b9c 108px,#092d8b 120px,#092d8a 135px,#0a3899 147px,#0b47ad 155px,#0c60c5 163px,#0c6bcf 165px,#0e74d7 166px,#0f7bda 167px,#0c78ca 169px,#0c7bb8 174px,#0c8782 194px,#0a8145 208px,#0a7f2f 216px)"></i>
<i style="background:linear-gradient(90deg,#208716 0px,#168316 3px,#0c7c17 11px,#0b7c1b 28px,#0a7e29 39px,#0a8247 50px,#0c8788 65px,#0c79c0 86px,#0d79ce 89px,#107adc 91px,#0c68cc 93px,#0b54bb 98px,#0a3b9c 109px,#092e8c 121px,#092d8b 135px,#0a3899 147px,#0b47ad 155px,#0c60c5 163px,#0c6ace 165px,#0e74d7 166px,#107bdb 167px,#0c78cb 169px,#0c7bb8 174px,#0c8783 194px,#0a8142 209px,#0a7f30 216px)"></i>
<i style="background:linear-gradient(90deg,#238816 0px,#168316 4px,#0b7c17 12px,#0b7c1b 28px,#0a7d25 37px,#0a7f34 44px,#0a8249 51px,#0c8789 66px,#0c79c0 87px,#0d79cf 90px,#1079db 92px,#0c68cc 94px,#0b54bb 99px,#0a3b9d 110px,#092f8d 122px,#092e8c 135px,#0a399a 147px,#0b48ae 155px,#0c60c5 163px,#0c6ace 165px,#107bdc 167px,#0c78c7 170px,#0c7bb6 175px,#0c8784 194px,#0a8143 209px,#0a7f31 216px)"></i>
<i style="background:linear-gradient(90deg,#268916 0px,#178316 4px,#0b7c17 13px,#0b7c1b 29px,#0a7e29 40px,#0a8146 51px,#0c878a 67px,#0c7abd 87px,#0c78c9 90px,#0f7ad8 92px,#0f78da 93px,#0c67cc 95px,#0b54bb 100px,#0a3c9d 111px,#09308e 123px,#092f8d 135px,#0a399a 147px,#0b48ae 155px,#0c5fc5 163px,#0c69cd 165px,#107bdc 167px,#0c78c7 170px,#0c7bb6 175px,#0c8785 194px,#0a8144 209px,#0a7f32 216px)"></i>
<i style="background:linear-gradient(90deg,#288a16 0px,#188416 4px,#0c7c17 13px,#0b7b1a 29px,#0b7d23 37px,#0a7f31 44px,#0a8247 52px,#0c8788 67px,#0c7abd 88px,#0c78ca 91px,#0f7ad9 93px,#0f77d9 94px,#0c67cb 96px,#0b54bb 101px,#0a3c9e 112px,#09308f 124px,#09308f 136px,#0a3b9d 148px,#0b52b9 159px,#0c64c9 164px,#0e71d4 166px,#107bdd 167px,#0c78c8 170px,#0c7bb7 175px,#0c8782 195px,#0a8142 210px,#0a7f32 216px)"></i>
<i style="background:linear-gradient(90deg,#2b8b16 0px,#178316 5px,#0b7c17 14px,#0b7c1b 30px,#0a7d25 39px,#0a7f34 46px,#0a8249 53px,#0c8789 68px,#0c7abe 89px,#0c78cb 92px,#0f7bda 94px,#0f76d8 95px,#0c66cb 97px,#0b54bb 102px,#0a3d9e 113px,#093190 125px,#093291 137px,#0a3d9f 149px,#0c55bc 160px,#0c69cd 165px,#107adc 167px,#0c79c4 171px,#0c7cb5 176px,#0c8783 195px,#0a8143 210px,#0a7f33 216px)"></i>
<i style="background:linear-gradient(90deg,#2e8c16 0px,#188416 5px,#0c7c17 14px,#0b7b1a 30px,#0a7d24 39px,#0a7f33 46px,#0a8146 53px,#0c8789 69px,#0c7abf 90px,#0c78cc 93px,#107bdb 95px,#0e74d7 96px,#0c66ca 98px,#0c56bd 102px,#0a40a3 112px,#093493 123px,#093291 135px,#0a3b9c 147px,#0b4ab2 156px,#0c5fc4 163px,#0d70d3 166px,#0f79db 167px,#0d79d0 169px,#0c79c1 172px,#0c8784 195px,#0a8144 210px,#0a7f34 216px)"></i>
<i style="background:linear-gradient(90deg,#338e16 0px,#238816 3px,#168316 7px,#0b7c17 15px,#0b7c1b 31px,#0b7d23 39px,#0a7f31 46px,#0a8247 54px,#0c8787 69px,#0c79c0 91px,#0d78cd 94px,#107bdc 96px,#0c6ace 98px,#0c59bf 102px,#0a42a6 112px,#0a3696 122px,#093292 134px,#0a3a9b 146px,#0b48af 155px,#0c5ec4 163px,#0d6fd2 166px,#0f78da 167px,#0f7ad8 168px,#0c78ca 170px,#0c7bb6 176px,#0c8785 195px,#0a8142 211px,#0a7f35 216px)"></i>
<i style="background:linear-gradient(90deg,#389015 0px,#2a8b16 2px,#178316 7px,#0b7c17 16px,#0b7c1b 32px,#0a7e27 42px,#0a8145 54px,#0c8788 70px,#0c79c1 92px,#0d79ce 95px,#107bdd 97px,#0c69cd 99px,#0c56bd 104px,#0a41a4 114px,#093595 125px,#093494 137px,#0a3ea0 149px,#0c55bc 160px,#0c67cc 165px,#0f77d9 167px,#0f7ad9 168px,#0c78ca 170px,#0c7bb6 176px,#0c8783 196px,#0a8143 211px,#0a7f36 216px)"></i>
<i style="background:linear-gradient(90deg,#3d9215 0px,#2d8c16 2px,#188416 7px,#0c7c17 16px,#0b7c1b 33px,#0a7e29 44px,#0a8146 55px,#0c8789 71px,#0c7abd 92px,#0c78c9 95px,#1079dc 98px,#0c69cd 100px,#0c56bd 105px,#0a3fa2 116px,#093595 128px,#0a3696 140px,#0a40a3 150px,#0c55bb 160px,#0c67cb 165px,#0f75d8 167px,#0f7bda 168px,#0c78c7 171px,#0c7bb7 176px,#0c8784 196px,#0a8144 211px,#0a8037 216px)"></i>
<i style="background:linear-gradient(90deg,#429415 0px,#2b8b16 3px,#178316 8px,#0b7c17 17px,#0b7c1b 33px,#0a7d25 42px,#0a7f34 49px,#0a8248 56px,#0c8787 71px,#0c7abe 93px,#0c78ca 96px,#0f7ad8 98px,#0f78da 99px,#0c68cc 101px,#0c56bc 106px,#0a40a2 117px,#0a3696 129px,#0a3798 141px,#0a42a6 151px,#0c57be 161px,#0c66cb 165px,#107bdb 168px,#0c78c8 171px,#0c7bb7 176px,#0c8785 196px,#0a8142 212px,#0a8038 216px)"></i>
<i style="background:linear-gradient(90deg,#479614 0px,#2d8c16 3px,#188416 8px,#0c7c17 17px,#0b7c1b 34px,#0a7e29 45px,#0a8145 56px,#0c8788 72px,#0c7abf 94px,#0c78cb 97px,#0f7ada 99px,#0f76d9 100px,#0c67cc 102px,#0c55bc 107px,#0a40a3 118px,#0a3797 129px,#0a3899 141px,#0a42a6 151px,#0c57be 161px,#0c6ace 166px,#107bdc 168px,#0c78c8 171px,#0c7bb8 176px,#0c8786 196px,#0a8143 212px,#0a8039 216px)"></i>
<i style="background:linear-gradient(90deg,#4c9814 0px,#2b8b16 4px,#178416 9px,#0b7c17 18px,#0b7b1a 34px,#0b7d23 42px,#0a7f31 49px,#0a8147 57px,#0c8789 73px,#0c79c0 95px,#0d78cd 98px,#107bdb 100px,#0f75d8 101px,#0c67cb 103px,#0c55bc 108px,#0a40a3 119px,#0a3898 130px,#0a399a 142px,#0a42a6 151px,#0c57bd 161px,#0c69ce 166px,#107adc 168px,#0c78c9 171px,#0c7bb6 177px,#0c8783 197px,#0a8144 212px,#0a8039 216px)"></i>
<i style="background:linear-gradient(90deg,#539c13 0px,#379015 3px,#298b16 5px,#188416 9px,#0c7c17 18px,#0b7b1a 34px,#0a7d24 43px,#0a7f32 50px,#0a8248 58px,#0c8787 73px,#0c79c1 96px,#0d79ce 99px,#107bdc 101px,#0c6bcf 103px,#0c57be 108px,#0a43a7 118px,#0a3a9b 127px,#0a3899 139px,#0a40a3 149px,#0b54bb 160px,#0c64c9 165px,#0d70d3 167px,#0f79db 168px,#0d79d1 170px,#0c79c6 172px,#0c7cb4 178px,#0c8785 197px,#0a8142 213px,#0a803a 216px)"></i>
<i style="background:linear-gradient(90deg,#5b9f12 0px,#449514 2px,#2c8c16 5px,#178416 10px,#0b7c17 19px,#0b7c1b 36px,#0a7e29 47px,#0a8146 58px,#0c8788 74px,#0c79c2 97px,#0d79d0 100px,#107adc 102px,#0c6ace 104px,#0c57be 109px,#0a43a8 119px,#0a3b9c 128px,#0a399a 140px,#0a42a5 150px,#0c56bd 161px,#0c68cc 166px,#0f77da 168px,#0f7ad9 169px,#0c78c7 172px,#0c7bb7 177px,#0c8786 197px,#0a8143 213px,#0a803b 216px)"></i>
<i style="background:linear-gradient(90deg,#62a211 0px,#499714 2px,#308d16 5px,#198416 10px,#0c7c17 19px,#0b7b19 34px,#0b7d22 43px,#0a7f31 51px,#0a8247 59px,#0c8789 75px,#0c7abf 97px,#0c78ca 100px,#0f7ad8 102px,#0f78db 103px,#0c69cd 105px,#0c57bd 110px,#0a43a8 120px,#0a3b9c 129px,#0a3a9c 141px,#0a43a7 151px,#0c56bd 161px,#0c67cc 166px,#0f76d8 168px,#0f7bda 169px,#0c78c8 172px,#0c7bb8 177px,#0c8783 198px,#0a8141 214px,#0a803c 216px)"></i>
<i style="background:linear-gradient(90deg,#69a611 0px,#459614 3px,#2c8c16 6px,#188416 11px,#0c7c17 20px,#0b7c1b 37px,#0a7e29 48px,#0a8145 59px,#0c8787 75px,#0c79c0 98px,#0c78cc 101px,#0f7bda 103px,#0f76d9 104px,#0c68cc 106px,#0c56bd 111px,#0a44a8 121px,#0a3c9d 130px,#0a3b9d 142px,#0a45a9 152px,#0c58bf 162px,#0c6cd0 167px,#107bdc 169px,#0c78c8 172px,#0c7bb6 178px,#0c8785 198px,#0a8142 214px,#0a803d 216px)"></i>
<i style="background:linear-gradient(90deg,#71a910 0px,#4a9814 3px,#2b8b16 7px,#178316 12px,#0b7c17 21px,#0b7c1b 37px,#0b7d23 45px,#0a7f33 53px,#0a8146 60px,#0c8789 76px,#0c79c1 99px,#0d79ce 102px,#107bdb 104px,#0c67cb 107px,#0c56bd 112px,#0a42a6 123px,#0a3b9d 133px,#0a3e9f 145px,#0b4bb2 156px,#0c5ec3 164px,#0c6ace 167px,#107bdd 169px,#0c78c9 172px,#0c7bb7 178px,#0c8786 198px,#0a8143 214px,#0a803e 216px)"></i>
<i style="background:linear-gradient(90deg,#78ac0f 0px,#469614 4px,#2d8c16 7px,#188416 12px,#0c7c17 21px,#0b7c1b 38px,#0a7e27 48px,#0a8144 60px,#0c8789 77px,#0c7abe 99px,#0c78c9 102px,#107bdd 105px,#0c6ace 107px,#0c58bf 112px,#0b45aa 122px,#0a3c9e 132px,#0a3d9f 144px,#0b49b0 155px,#0c5dc3 164px,#0c69cd 167px,#1079db 169px,#0e79d1 171px,#0c78c7 173px,#0c7bb7 178px,#0c8783 199px,#0a8141 215px,#0a813f 216px)"></i>
<i style="background:linear-gradient(90deg,#84b10e 0px,#72a910 1px,#4b9814 4px,#2b8b16 8px,#178316 13px,#0b7c17 22px,#0b7c1b 39px,#0a7e29 50px,#0a8145 61px,#0c8788 77px,#0c7abf 100px,#0c78cb 103px,#0f7ad8 105px,#0f79db 106px,#0c69cd 108px,#0c58be 113px,#0b45aa 123px,#0a3d9f 133px,#0a3ea0 145px,#0b4bb2 156px,#0c60c6 165px,#0d6fd2 168px,#0f77da 169px,#0f7ada 170px,#0c78c7 173px,#0c7bb8 178px,#0c8785 199px,#0a8142 215px,#0a8140 216px)"></i>
<i style="background:linear-gradient(90deg,#91b70c 0px,#7aad0f 1px,#479614 5px,#2e8c16 8px,#188416 13px,#0c7c17 22px,#0b7b1a 38px,#0a7d24 47px,#0a7f31 54px,#0a8247 62px,#0c8789 78px,#0c79c1 101px,#0d78cd 104px,#0f7bda 106px,#0f77d9 107px,#0c68cc 109px,#0c57be 114px,#0b45aa 124px,#0a3d9f 134px,#0a3fa2 146px,#0b4eb6 158px,#0c5fc5 165px,#0d6dd1 168px,#107bdb 170px,#0c78c8 173px,#0c7bb6 179px,#0c8786 199px,#0a8141 216px)"></i>
<i style="background:linear-gradient(90deg,#9dbc0b 0px,#73aa10 2px,#4c9914 5px,#2b8b16 9px,#178416 14px,#0b7c17 23px,#0b7c1b 40px,#0a7e29 51px,#0a8145 62px,#0c8787 78px,#0c79c2 102px,#0d79cf 105px,#107bdc 107px,#0c67cc 110px,#0c57bd 115px,#0b45aa 125px,#0a3e9f 136px,#0a40a3 147px,#0b50b7 159px,#0c62c8 166px,#0c6bcf 168px,#107bdd 170px,#0c78c9 173px,#0c7bb7 179px,#0c8784 200px,#0a8142 216px)"></i>
<i style="background:linear-gradient(90deg,#aac20a 0px,#7cae0f 2px,#489714 6px,#2f8d16 9px,#188416 14px,#0c7c17 23px,#0b7b19 38px,#0b7d22 47px,#0a7f31 55px,#0a8146 63px,#0c8788 79px,#0c7abf 102px,#0c78ca 105px,#107adc 108px,#0c6ace 110px,#0c59bf 115px,#0b46ac 125px,#0a3ea0 136px,#0a41a4 147px,#0b50b7 159px,#0c62c7 166px,#0c6ace 168px,#1079db 170px,#0e79d1 172px,#0c78c7 174px,#0c7bb8 179px,#0c8785 200px,#0a8143 216px)"></i>
<i style="background:linear-gradient(90deg,#b6c708 0px,#88b30d 2px,#74aa0f 3px,#4d9914 6px,#2c8c16 10px,#178416 15px,#0c7c17 24px,#0b7c1b 41px,#0a7e2a 53px,#0a8248 64px,#0c8789 80px,#0c79c0 103px,#0c78cc 106px,#0f7ad9 108px,#0f78da 109px,#0c69cd 111px,#0c58be 116px,#0b45aa 127px,#0a3fa1 138px,#0a42a6 149px,#0b51b9 160px,#0c61c6 166px,#0d6fd2 169px,#0f77d9 170px,#0f7bda 171px,#0c78c8 174px,#0c7bb6 180px,#0c8783 201px,#0a8145 216px)"></i>
<i style="background:linear-gradient(90deg,#c5ce06 0px,#7dae0e 3px,#549c13 6px,#409415 8px,#2f8d16 10px,#198416 15px,#0c7c17 24px,#0b7b19 39px,#0b7d22 48px,#0a7f31 56px,#0a8146 64px,#0c8788 80px,#0c79c2 104px,#0d79ce 107px,#107bdb 109px,#0c64c9 113px,#0b53ba 119px,#0a43a8 130px,#0a3fa1 141px,#0b45aa 152px,#0c57be 163px,#0c67cc 168px,#107bdc 171px,#0c78c9 174px,#0c7bb7 180px,#0c8784 201px,#0a8146 216px)"></i>
<i style="background:linear-gradient(90deg,#d4d604 0px,#b8c808 1px,#75ab0f 4px,#4e9914 7px,#2c8c16 11px,#178416 16px,#0c7c17 25px,#0b7c1b 42px,#0a7e28 53px,#0a8248 65px,#0c8789 81px,#0c7abf 104px,#0c78ca 107px,#107bdd 110px,#0c6bcf 112px,#0c59bf 117px,#0b46ac 128px,#0a40a2 139px,#0a43a8 150px,#0b52ba 161px,#0c62c8 167px,#0c6bcf 169px,#107adc 171px,#0c78c7 175px,#0c7bb8 180px,#0c8786 201px,#0a8248 216px)"></i>
<i style="background:linear-gradient(90deg,#e3dd02 0px,#adc309 2px,#7faf0e 4px,#62a211 6px,#499714 8px,#308d16 11px,#178316 17px,#0b7c17 26px,#0b7c1b 42px,#0b7d23 50px,#0a7f33 58px,#0a8249 66px,#0c8787 81px,#0c79c1 105px,#0c78cc 108px,#0f7ad9 110px,#0f78da 111px,#0c69cd 113px,#0c56bd 119px,#0b45aa 130px,#0a40a3 141px,#0b45aa 152px,#0c56bd 163px,#0c69cd 169px,#0f78da 171px,#0f7ad9 172px,#0c78c8 175px,#0c7bb6 181px,#0c8784 202px,#0a8249 216px)"></i>
<i style="background:linear-gradient(90deg,#f1e400 0px,#b9c808 2px,#76ab0f 5px,#4f9a14 8px,#2c8c16 12px,#188416 17px,#0c7c17 26px,#0b7c1b 43px,#0a7e27 53px,#0a8143 65px,#0b866d 75px,#0c868b 83px,#0c79c2 106px,#0d79ce 109px,#107bdb 111px,#0c64c9 115px,#0b54bb 121px,#0a44a9 132px,#0a40a4 143px,#0b47ad 154px,#0c5ac0 165px,#0d6ed1 170px,#107bdb 172px,#0c78c9 175px,#0c7bb7 181px,#0c8785 202px,#0a824b 216px)"></i>
<i style="background:linear-gradient(90deg,#f5e500 0px,#e4de02 1px,#aec309 3px,#80af0e 5px,#62a211 7px,#499714 9px,#2a8b16 13px,#178316 18px,#0b7c17 27px,#0b7c1b 44px,#0a7e29 55px,#0a8145 66px,#0c878a 83px,#0c79c0 106px,#0c78ca 109px,#107adc 112px,#0c6bcf 114px,#0c59c0 119px,#0b47ad 130px,#0a41a4 141px,#0b45aa 152px,#0c55bc 163px,#0c63c8 168px,#0c6bcf 170px,#107bdd 172px,#0c78ca 175px,#0c7bb8 181px,#0c8787 202px,#0a824d 216px)"></i>
<i style="background:linear-gradient(90deg,#fae700 0px,#f1e400 1px,#bac908 3px,#76ab0f 6px,#4f9a14 9px,#2d8c16 13px,#188416 18px,#0c7c17 27px,#0b7c1b 44px,#0a7e27 54px,#0a8143 66px,#0b866d 76px,#0c868b 84px,#0c79c1 107px,#0d78cd 110px,#0f7ada 112px,#0f77da 113px,#0c69cd 115px,#0c56bd 121px,#0b46ab 132px,#0a41a4 143px,#0b47ad 154px,#0c59bf 165px,#0c69cd 170px,#0f78da 172px,#0f7ad9 173px,#0c78c8 176px,#0c7cb4 183px,#0c8784 203px,#0a824e 216px)"></i>
<i style="background:linear-gradient(90deg,#ffe800 0px,#f6e500 1px,#e5de02 2px,#afc409 4px,#81b00e 6px,#63a311 8px,#4a9714 10px,#2a8b16 14px,#178316 19px,#0b7c17 28px,#0b7c1b 45px,#0a7e29 56px,#0a8145 67px,#0c8789 84px,#0c7abf 107px,#0d79cf 111px,#107bdc 113px,#0c68cc 116px,#0c58be 121px,#0b47ac 132px,#0a41a5 143px,#0b47ac 154px,#0c58bf 165px,#0c68cc 170px,#107bdc 173px,#0c78c9 176px,#0c7bb7 182px,#0c8786 203px,#0a8250 216px)"></i>
<i style="background:linear-gradient(90deg,#ffdf00 0px,#fae700 1px,#f1e400 2px,#bbc908 4px,#77ab0f 7px,#509a13 10px,#2d8c16 14px,#188416 19px,#0c7c17 28px,#0b7c1b 45px,#0a7d27 55px,#0a8143 67px,#0b866c 77px,#0c868a 85px,#0c79c1 108px,#0c78cc 111px,#0f7ad8 113px,#1079db 114px,#0c6ace 116px,#0c57be 122px,#0b46ac 133px,#0a42a5 144px,#0b48ae 155px,#0c59c0 166px,#0c6bcf 171px,#107adc 173px,#0c78c7 177px,#0c7bb6 183px,#0c8784 204px,#0a8352 216px)"></i>
<i style="background:linear-gradient(90deg,#ffd500 0px,#ffe800 1px,#f6e600 2px,#e6df02 3px,#afc409 5px,#81b00e 7px,#63a311 9px,#4a9814 11px,#2b8b16 15px,#178316 20px,#0b7c17 29px,#0b7c1b 46px,#0a7e29 57px,#0a8248 69px,#0c8789 85px,#0c79c2 109px,#0d79ce 112px,#107bdb 114px,#0f76d9 115px,#0c65c9 118px,#0c54bb 124px,#0b45ab 135px,#0a42a6 146px,#0b49b0 157px,#0c5ec4 168px,#0c69cd 171px,#0f77d9 173px,#0f7bda 174px,#0c78c9 177px,#0c7cb5 184px,#0c8786 204px,#0a8353 216px)"></i>
<i style="background:linear-gradient(90deg,#ffcb00 0px,#ffde00 1px,#fae700 2px,#f1e400 3px,#bbc908 5px,#77ab0f 8px,#509a13 11px,#2d8c16 15px,#188416 20px,#0c7c17 29px,#0b7b1a 45px,#0a7d24 54px,#0a7f31 61px,#0a8146 69px,#0c8788 85px,#0c79c0 109px,#0c78cb 112px,#107add 115px,#0c67cb 118px,#0c58be 123px,#0b47ad 134px,#0a42a6 145px,#0b48ae 156px,#0c5ac0 167px,#0d6cd0 172px,#107bdd 174px,#0c78ca 177px,#0c7bb8 183px,#0c8783 205px,#0a8355 216px)"></i>
<i style="background:linear-gradient(90deg,#ffc100 0px,#ffe800 2px,#f6e600 3px,#e6df01 4px,#afc409 6px,#81b00e 8px,#70a910 9px,#4a9814 12px,#2b8b16 16px,#178316 21px,#0b7c17 30px,#0b7c1b 47px,#0a7e29 58px,#0a8248 70px,#0c8789 86px,#0c79c2 110px,#0d79cd 113px,#0f7bda 115px,#0f77da 116px,#0c69cd 118px,#0c57bd 124px,#0b47ac 135px,#0a42a6 146px,#0b49af 157px,#0c5bc2 168px,#0c6ace 172px,#0f78db 174px,#0f7ad9 175px,#0c78c8 178px,#0c7cb4 185px,#0c8785 205px,#0a8357 216px)"></i>
<i style="background:linear-gradient(90deg,#feb800 0px,#ffde00 2px,#fae700 3px,#f1e400 4px,#bbc908 6px,#77ab0f 9px,#509a13 12px,#2d8c16 16px,#188416 21px,#0c7c17 30px,#0b7b1a 46px,#0a7d24 55px,#0a7f31 62px,#0a8146 70px,#0c8787 86px,#0c79c0 110px,#0c78ca 113px,#107bdd 116px,#0c67cc 119px,#0c58be 124px,#0b47ad 135px,#0a43a7 146px,#0b48af 157px,#0c5bc1 168px,#0d6ed1 173px,#107bdc 175px,#0c78c9 178px,#0c7bb8 184px,#0c8787 205px,#0a8359 216px)"></i>
<i style="background:linear-gradient(90deg,#feaf00 0px,#ffe800 3px,#f6e600 4px,#e6df01 5px,#afc409 7px,#81b00e 9px,#70a910 10px,#4a9814 13px,#2b8b16 17px,#178316 22px,#0b7c17 31px,#0b7c1b 48px,#0a7e2a 60px,#0a8248 71px,#0c8789 87px,#0c79c1 111px,#0d78cd 114px,#0f7ada 116px,#0f78da 117px,#0c69ce 119px,#0c57be 125px,#0b47ad 136px,#0a43a7 147px,#0b49b0 158px,#0c5cc2 169px,#0c6ace 173px,#1079db 175px,#0e79d2 177px,#0c79c4 180px,#0b7fa6 192px,#0c8785 206px,#0a845b 216px)"></i>
<i style="background:linear-gradient(90deg,#fda500 0px,#ffde00 3px,#fae700 4px,#f1e400 5px,#bbc908 7px,#77ab0f 10px,#509a13 13px,#2d8c16 17px,#188416 22px,#0c7c17 31px,#0b7b1a 47px,#0a7d24 56px,#0a7f31 63px,#0a8146 71px,#0c8787 87px,#0c79c0 111px,#0c78ca 114px,#107bdc 117px,#0c68cc 120px,#0c58bf 125px,#0b47ad 136px,#0a43a7 147px,#0b49af 158px,#0c5bc1 169px,#0d6ed2 174px,#107bdb 176px,#0c78c9 179px,#0c7bb7 185px,#0c8787 206px,#0a845d 216px)"></i>
<i style="background:linear-gradient(90deg,#fd9c00 0px,#ffe800 4px,#f6e600 5px,#e5df02 6px,#afc409 8px,#81b00e 10px,#63a311 12px,#4a9814 14px,#2b8b16 18px,#178316 23px,#0b7c17 32px,#0b7c1b 49px,#0a7e29 60px,#0a8248 72px,#0c8789 88px,#0c79c1 112px,#0d78cd 115px,#0f7ad9 117px,#0f78da 118px,#0c6ace 120px,#0c57be 126px,#0b47ad 137px,#0a43a7 148px,#0b49b0 159px,#0c5cc2 170px,#0c6bcf 174px,#107adc 176px,#0c78c7 180px,#0c7bb6 186px,#0c8785 207px,#0a8460 216px)"></i>
<i style="background:linear-gradient(90deg,#fc9300 0px,#ffdf00 4px,#fae700 5px,#f1e400 6px,#bbc908 8px,#76ab0f 11px,#509a13 14px,#2d8c16 18px,#188416 23px,#0c7c17 32px,#0b7c1b 49px,#0a7d27 59px,#0a8142 71px,#0c8787 88px,#0c79c0 112px,#0c78ca 115px,#107bdd 118px,#0c68cc 121px,#0c58bf 126px,#0b47ad 137px,#0a43a7 148px,#0b49af 159px,#0c5bc1 170px,#0c69cd 174px,#0f76d9 176px,#107bdb 177px,#0c79c6 181px,#0c7cb5 187px,#0c8786 207px,#0a8462 216px)"></i>
<i style="background:linear-gradient(90deg,#fb8b00 0px,#ffe800 5px,#f5e500 6px,#e5de02 7px,#aec309 9px,#80b00e 11px,#63a311 13px,#4a9714 15px,#2a8b16 19px,#178316 24px,#0b7c17 33px,#0b7c1b 50px,#0a7e29 61px,#0a8248 73px,#0c8789 89px,#0c79c2 113px,#0d78cd 116px,#0f7ada 118px,#0f78da 119px,#0c69cd 121px,#0c57be 127px,#0b47ad 138px,#0a43a7 149px,#0b49b0 160px,#0c5cc2 171px,#0c6bcf 175px,#107adc 177px,#0c78c7 181px,#0c7bb6 187px,#0c8785 208px,#0b8564 216px)"></i>
<i style="background:linear-gradient(90deg,#fa8400 0px,#fda600 2px,#ffdf00 5px,#fae700 6px,#f1e400 7px,#bac808 9px,#76ab0f 12px,#4f9a14 15px,#2d8c16 19px,#188416 24px,#0c7c17 33px,#0b7c1b 50px,#0a7d27 60px,#0a8143 72px,#0b866c 82px,#0c868a 90px,#0c79c0 113px,#0c78ca 116px,#107bdd 119px,#0c67cc 122px,#0c58be 127px,#0b47ad 138px,#0a43a7 149px,#0b49af 160px,#0c5bc1 171px,#0c69cd 175px,#0f76d9 177px,#107bdb 178px,#0c78c9 181px,#0c7bb7 187px,#0c8786 208px,#0b8566 216px)"></i>
<i style="background:linear-gradient(90deg,#f87d01 0px,#fd9d00 2px,#fee800 6px,#f5e500 7px,#e4de02 8px,#aec309 10px,#80af0e 12px,#62a211 14px,#499714 16px,#2a8b16 20px,#178316 25px,#0b7c17 34px,#0b7c1b 51px,#0a7e29 62px,#0a8248 74px,#0c8789 90px,#0c79c2 114px,#0d79ce 117px,#0f7bda 119px,#0f77d9 120px,#0c69cd 122px,#0c57bd 128px,#0b47ad 139px,#0a43a7 150px,#0b49b0 161px,#0c5cc2 172px,#0c6bcf 176px,#107adc 178px,#0c78c7 182px,#0c7bb6 188px,#0c8785 209px,#0b8569 216px)"></i>
<i style="background:linear-gradient(90deg,#f77601 0px,#fc9400 2px,#ffe000 6px,#f9e700 7px,#f0e400 8px,#b9c808 10px,#75ab0f 13px,#4f9a14 16px,#2c8c16 20px,#188416 25px,#0c7c17 34px,#0b7c1b 51px,#0a7e27 61px,#0a8143 73px,#0b866d 83px,#0c868a 91px,#0c79c0 114px,#0c78cb 117px,#107adc 120px,#0c67cb 123px,#0c58be 128px,#0b47ad 139px,#0a42a6 150px,#0b48af 161px,#0c5bc1 172px,#0d6ed2 177px,#107bdb 179px,#0c78c9 182px,#0c7bb7 188px,#0c8787 209px,#0b856b 216px)"></i>
<i style="background:linear-gradient(90deg,#f66e01 0px,#fd9e00 3px,#fee800 7px,#f5e500 8px,#e2dd02 9px,#acc309 11px,#7eaf0e 13px,#559c13 16px,#409415 18px,#2a8b16 21px,#178316 26px,#0b7c17 35px,#0b7c1b 52px,#0a7e29 63px,#0a8145 74px,#0c8789 91px,#0c7abf 114px,#0d79cf 118px,#107bdb 120px,#0d6ed2 122px,#0c5bc1 127px,#0b48af 138px,#0a42a6 149px,#0b47ad 160px,#0c57be 171px,#0c6ace 177px,#0f79db 179px,#0e79d2 181px,#0c79c4 184px,#0b7fa6 196px,#0c8785 210px,#0b866d 216px)"></i>
<i style="background:linear-gradient(90deg,#f46702 0px,#fc9500 3px,#ffe100 7px,#f9e600 8px,#f0e400 9px,#b7c708 11px,#75ab0f 14px,#4e9914 17px,#2c8c16 21px,#188416 26px,#0c7c17 35px,#0b7c1b 52px,#0a7e28 63px,#0a8147 75px,#0c8788 91px,#0c79c1 115px,#0c78cc 118px,#0f7ad9 120px,#1079db 121px,#0c6ace 123px,#0c57be 129px,#0b47ac 140px,#0a42a6 151px,#0b48ae 162px,#0c5ac0 173px,#0d6dd1 178px,#107bdc 180px,#0c78ca 183px,#0c7bb8 189px,#0c8787 210px,#0b866f 216px)"></i>
<i style="background:linear-gradient(90deg,#f36002 0px,#fb8d00 3px,#ffd800 7px,#fde800 8px,#f4e500 9px,#e0dc02 10px,#abc20a 12px,#7dae0e 14px,#549c13 17px,#409415 19px,#2f8d16 21px,#198416 26px,#0c7d17 35px,#0b7b19 50px,#0b7d22 59px,#0a7f30 67px,#0a8249 76px,#0c8787 91px,#0c7abf 115px,#0c78ca 118px,#107bdc 121px,#0c68cc 124px,#0c58be 129px,#0b47ad 140px,#0a42a5 151px,#0b47ad 162px,#0c59bf 173px,#0c69cd 178px,#0f78da 180px,#0f7ada 181px,#0c78c8 184px,#0c7cb4 191px,#0c8785 211px,#0b8672 216px)"></i>
<i style="background:linear-gradient(90deg,#f25902 0px,#fc9600 4px,#ffe300 8px,#f8e600 9px,#eee300 10px,#b6c708 12px,#88b30d 14px,#74aa0f 15px,#4d9914 18px,#2c8c16 22px,#178416 27px,#0c7c17 36px,#0b7c1b 53px,#0a7e28 64px,#0a8247 76px,#0c8788 92px,#0c79c1 116px,#0d79cd 119px,#0f7bda 121px,#0f77da 122px,#0c69cd 124px,#0c57bd 130px,#0b46ac 141px,#0a42a5 152px,#0b48ae 163px,#0c5ac0 174px,#0c6ccf 179px,#107bdd 181px,#0c78ca 184px,#0c7bb8 190px,#0c8783 212px,#0b8674 216px)"></i>
<i style="background:linear-gradient(90deg,#f15402 0px,#fc8e00 4px,#ffda00 8px,#fde700 9px,#f3e500 10px,#dedb03 11px,#a9c10a 13px,#7bad0f 15px,#489714 19px,#2e8d16 22px,#188416 27px,#0c7c17 36px,#0b7b19 51px,#0b7d22 60px,#0a7f31 68px,#0a8146 76px,#0c8787 92px,#0c79c0 116px,#0c78cb 119px,#107adc 122px,#0c6bcf 124px,#0c59c0 129px,#0b47ad 140px,#0a41a5 151px,#0b46ab 162px,#0c56bd 173px,#0c65c9 178px,#0f76d9 181px,#107bdb 182px,#0c79c5 186px,#0c7cb2 193px,#0c8785 212px,#0b8676 216px)"></i>
<i style="background:linear-gradient(90deg,#ef4f02 0px,#f25a02 1px,#fc9800 5px,#ffe400 9px,#f8e600 10px,#ebe201 11px,#b4c609 13px,#86b20e 15px,#73aa10 16px,#4c9814 19px,#2b8b16 23px,#178416 28px,#0b7c17 37px,#0b7c1b 54px,#0a7e2a 66px,#0a8248 77px,#0c8789 93px,#0c7abf 116px,#0d79cf 120px,#107bdc 122px,#0c64c9 126px,#0b54bb 132px,#0a45a9 143px,#0a41a4 154px,#0b48ae 165px,#0c5bc1 176px,#0c6ace 180px,#1079db 182px,#0e79d2 184px,#0c79c4 187px,#0b7fa8 198px,#0c8784 213px,#0b8678 216px)"></i>
<i style="background:linear-gradient(90deg,#ee4a03 0px,#f46202 2px,#fc9000 5px,#ffdb00 9px,#fce700 10px,#f3e500 11px,#dcda03 12px,#a7c00a 14px,#79ad0f 16px,#479614 20px,#2e8c16 23px,#188416 28px,#0c7c17 37px,#0b7b1a 53px,#0a7d24 62px,#0a7f31 69px,#0a8146 77px,#0c8788 93px,#0c79c1 117px,#0d78cd 120px,#0f7ad9 122px,#0f78da 123px,#0c69cd 125px,#0c56bd 131px,#0b46ab 142px,#0a41a4 153px,#0b46ab 164px,#0c57be 175px,#0c67cc 180px,#107bdc 183px,#0c78c9 186px,#0c7bb7 192px,#0c8786 213px,#0b867a 216px)"></i>
<i style="background:linear-gradient(90deg,#ed4603 0px,#f25b02 2px,#fc9900 6px,#ffe600 10px,#f7e600 11px,#e9e001 12px,#b2c509 14px,#84b10e 16px,#72a910 17px,#4b9814 20px,#2b8b16 24px,#178316 29px,#0b7c17 38px,#0b7c1b 55px,#0a7e29 66px,#0a8248 78px,#0c8789 94px,#0c79c0 117px,#0c78ca 120px,#107adc 123px,#0c6bcf 125px,#0c59c0 130px,#0b47ac 141px,#0a40a3 152px,#0a44a9 163px,#0b54bb 174px,#0c65c9 180px,#0d6fd2 182px,#0f77d9 183px,#0f7bda 184px,#0c78c8 187px,#0c7cb4 194px,#0c8784 214px,#0c877d 216px)"></i>
<i style="background:linear-gradient(90deg,#ec4103 0px,#f46402 3px,#fc9100 6px,#ffdd00 10px,#fbe700 11px,#f2e400 12px,#a5bf0a 15px,#78ac0f 17px,#469614 21px,#2d8c16 24px,#188416 29px,#0c7c17 38px,#0b7b1a 54px,#0a7d24 63px,#0a7f31 70px,#0a8147 78px,#0c8788 94px,#0c79c2 118px,#0d79cf 121px,#107bdc 123px,#0c68cc 126px,#0c57be 131px,#0b46ab 142px,#0a40a2 153px,#0a44a9 164px,#0c54bb 175px,#0c62c7 180px,#0c6ace 182px,#1079dc 184px,#0c78c7 188px,#0c7bb8 193px,#0c8786 214px,#0c877f 216px)"></i>
<i style="background:linear-gradient(90deg,#ea3c03 0px,#f35d02 3px,#fd9b00 7px,#ffe800 11px,#f6e600 12px,#e6df01 13px,#b0c409 15px,#81b00e 17px,#70a910 18px,#4a9814 21px,#2b8b16 25px,#178316 30px,#0b7c17 39px,#0b7c1b 56px,#0a7e29 67px,#0a8145 78px,#0c8787 94px,#0c79c1 118px,#0d78cd 121px,#0f7ada 123px,#0f77da 124px,#0c69cd 126px,#0c58bf 131px,#0b46ab 142px,#0a3fa2 153px,#0a43a8 164px,#0b53ba 175px,#0c63c8 181px,#0d6cd0 183px,#107bdc 185px,#0c78c9 188px,#0c7bb7 194px,#0c8785 215px,#0c8781 216px)"></i>
<i style="background:linear-gradient(90deg,#e93703 0px,#f15702 3px,#fc9300 7px,#ffdf00 11px,#fae700 12px,#f1e400 13px,#bac908 15px,#76ab0f 18px,#4f9a14 21px,#2c8c16 25px,#188416 30px,#0c7c17 39px,#0b7c1b 56px,#0a7e28 67px,#0a8247 79px,#0c8789 95px,#0c79c0 118px,#0c78cb 121px,#1079dc 124px,#0c6ace 126px,#0c56bd 132px,#0a45a9 143px,#0a3fa1 154px,#0a43a8 165px,#0b53ba 176px,#0c64c9 182px,#0d6fd2 184px,#0f77d9 185px,#0f7bda 186px,#0c78c8 189px,#0c7bb6 195px,#0c8783 216px)"></i>
<i style="background:linear-gradient(90deg,#e83203 0px,#f35f02 4px,#fd9d00 8px,#fee800 12px,#f5e500 13px,#e3dd02 14px,#adc309 16px,#7faf0e 18px,#62a211 20px,#499714 22px,#308d16 25px,#198416 30px,#0c7d17 39px,#0b7b19 54px,#0b7d22 63px,#0a7f31 71px,#0a8146 79px,#0c8788 95px,#0c7abf 118px,#0d79cf 122px,#107bdc 124px,#0c67cb 127px,#0c57bd 132px,#0a45a9 143px,#0a3ea0 154px,#0a42a6 165px,#0b52b9 176px,#0c62c7 182px,#0c6ace 184px,#1079db 186px,#0e79d2 188px,#0c78c7 190px,#0c7bb8 195px,#0c8785 216px)"></i>
<i style="background:linear-gradient(90deg,#e72d04 0px,#f25802 4px,#fc9500 8px,#ffe100 12px,#f9e600 13px,#efe400 14px,#b7c708 16px,#75aa0f 19px,#4d9914 22px,#2c8c16 26px,#178416 31px,#0c7c17 40px,#0b7c1b 57px,#0a7e2a 69px,#0a8248 80px,#0c8789 96px,#0c79c1 119px,#0d79cd 122px,#107bdb 124px,#0f76d8 125px,#0c64c9 128px,#0c55bc 133px,#0a43a8 144px,#0a3e9f 155px,#0a42a6 166px,#0b52b9 177px,#0c63c8 183px,#0c6bcf 185px,#107bdd 187px,#0c78c9 190px,#0c7bb7 196px,#0c8788 216px)"></i>
<i style="background:linear-gradient(90deg,#e52804 0px,#f36002 5px,#fb8e00 8px,#ffd900 12px,#fde700 13px,#f4e500 14px,#dfdc02 15px,#aac20a 17px,#7cae0f 19px,#489714 23px,#2e8d16 26px,#188416 31px,#0c7c17 40px,#0b7b19 55px,#0b7d22 64px,#0a7f31 72px,#0a8147 80px,#0c8789 96px,#0c79c0 119px,#0c78cc 122px,#0f7ad9 124px,#0f78da 125px,#0c69cd 127px,#0c58be 132px,#0a44a9 143px,#0a3d9f 153px,#0a40a2 164px,#0b4eb6 176px,#0c60c5 183px,#0d6dd1 186px,#0f75d8 187px,#107bdb 188px,#0c78c8 191px,#0c7bb6 197px,#0c8789 216px)"></i>
<i style="background:linear-gradient(90deg,#e42304 0px,#f25a02 5px,#fc9700 9px,#ffe400 13px,#f8e600 14px,#ece201 15px,#b4c609 17px,#86b20e 19px,#73aa10 20px,#4c9814 23px,#2b8b16 27px,#178416 32px,#0b7c17 41px,#0b7b1a 57px,#0a7d25 66px,#0a7f33 73px,#0a8249 81px,#0c8787 96px,#0c7abf 119px,#0c78ca 122px,#107adc 125px,#0c6ace 127px,#0c58bf 132px,#0a44a9 143px,#0a3d9f 153px,#0a3fa2 165px,#0b4eb6 177px,#0c60c6 184px,#0d6fd3 187px,#0f78da 188px,#0f7ad9 189px,#0c78c7 192px,#0c7bb8 197px,#0c868b 216px)"></i>
<i style="background:linear-gradient(90deg,#e32104 0px,#f15502 5px,#fc9000 9px,#ffdb00 13px,#fce700 14px,#f3e500 15px,#dbda03 16px,#bfcb07 17px,#79ac0f 20px,#479614 24px,#2d8c16 27px,#188416 32px,#0c7c17 41px,#0b7b1a 57px,#0a7d24 66px,#0a7f32 73px,#0a8248 81px,#0c8789 97px,#0c79c2 120px,#0d79cf 123px,#107bdc 125px,#0c66cb 128px,#0c56bd 133px,#0a43a7 144px,#0a3c9e 154px,#0a3fa1 166px,#0b4fb6 178px,#0c61c7 185px,#0c6ace 187px,#107adc 189px,#0c79c6 193px,#0c7cb5 199px,#0c868c 216px)"></i>
<i style="background:linear-gradient(90deg,#e31f04 0px,#e42504 1px,#f25c02 6px,#fc9a00 10px,#ffe700 14px,#f6e600 15px,#e8e001 16px,#b1c409 18px,#82b10e 20px,#71a910 21px,#4a9814 24px,#2b8b16 28px,#178316 33px,#0b7c17 42px,#0b7c1b 58px,#0b7d23 66px,#0a7f33 74px,#0a8146 81px,#0c8788 97px,#0c79c1 120px,#0d79cd 123px,#107bdb 125px,#0f75d8 126px,#0c67cc 128px,#0c56bd 133px,#0a44a9 143px,#0a3c9d 153px,#0a3d9f 165px,#0b48ae 175px,#0c5ec4 185px,#0c6bcf 188px,#107bdc 190px,#0c78c9 193px,#0c7bb6 199px,#0c858e 216px)"></i>
<i style="background:linear-gradient(90deg,#e21d04 0px,#e42204 1px,#f15702 6px,#fc9200 10px,#ffde00 14px,#fae700 15px,#f1e400 16px,#bbc908 18px,#76ab0f 21px,#4f9a14 24px,#2c8c16 28px,#188416 33px,#0c7c17 42px,#0b7c1b 59px,#0a7e29 70px,#0a8145 81px,#0c8787 97px,#0c79c0 120px,#0c78cc 123px,#0f7ad9 125px,#0f77da 126px,#0c68cc 128px,#0c57bd 133px,#0a44a8 143px,#0a3b9d 153px,#0a3c9e 165px,#0b46ac 175px,#0c5bc1 185px,#0d6dd1 189px,#0f75d8 190px,#107bdb 191px,#0c78c8 194px,#0c7bb8 199px,#0c8590 216px)"></i>
<i style="background:linear-gradient(90deg,#e21b04 0px,#e52604 2px,#f35e02 7px,#fd9d00 11px,#fee800 15px,#f5e500 16px,#e3de02 17px,#adc309 19px,#7faf0e 21px,#62a211 23px,#499714 25px,#2f8d16 28px,#198416 33px,#0c7c17 42px,#0b7b19 57px,#0b7d22 66px,#0a7f31 74px,#0a8247 82px,#0c8789 98px,#0c7abf 120px,#0c78ca 123px,#0f7ad8 125px,#0f79db 126px,#0c69cd 128px,#0c57be 133px,#0a44a8 143px,#0a3b9d 152px,#0a3b9c 164px,#0a42a6 173px,#0c54bb 183px,#0c64c9 188px,#0d6fd2 190px,#0f77da 191px,#0f7ad9 192px,#0c78c7 195px,#0c7bb7 200px,#0c8591 216px)"></i>
<i style="background:linear-gradient(90deg,#e11904 0px,#e42204 2px,#f25802 7px,#fc9500 11px,#ffe100 15px,#f9e600 16px,#efe400 17px,#b7c708 19px,#74aa0f 22px,#4d9914 25px,#2c8c16 29px,#178416 34px,#0b7c17 43px,#0b7b1a 59px,#0b7d23 67px,#0a7f33 75px,#0a8146 82px,#0c8788 98px,#0c79c2 121px,#0d79d0 124px,#107adc 126px,#0c6ace 128px,#0c57be 133px,#0a44a8 143px,#0a3b9c 152px,#0a3a9b 164px,#0a42a6 174px,#0c54bb 184px,#0c65c9 189px,#0e71d4 191px,#1079db 192px,#0d79d1 194px,#0c79c6 196px,#0c7cb4 202px,#0c8493 216px)"></i>
<i style="background:linear-gradient(90deg,#e01705 0px,#e52804 3px,#f36002 8px,#fb8e00 11px,#ffd900 15px,#fde700 16px,#f4e500 17px,#dfdb03 18px,#a9c10a 20px,#7bad0f 22px,#479714 26px,#2e8c16 29px,#188416 34px,#0c7c17 43px,#0b7b1a 59px,#0a7d24 68px,#0a7f32 75px,#0a8248 83px,#0c8787 98px,#0c79c1 121px,#0d79ce 124px,#107bdc 126px,#0c6bcf 128px,#0c58be 133px,#0a43a8 143px,#0a3a9b 152px,#0a399a 164px,#0a40a4 174px,#0c55bc 185px,#0c65ca 190px,#0e72d5 192px,#107bdd 193px,#0c78c9 196px,#0c7bb6 202px,#0c8494 216px)"></i>
<i style="background:linear-gradient(90deg,#e01505 0px,#e42304 3px,#f25a02 8px,#fc9800 12px,#ffe500 16px,#f7e600 17px,#eae101 18px,#b3c509 20px,#84b10e 22px,#72a910 23px,#4b9814 26px,#2b8b16 30px,#178316 35px,#0b7c17 44px,#0b7c1b 60px,#0b7d23 68px,#0a7f31 75px,#0a8147 83px,#0c8789 99px,#0c79c0 121px,#0d78cd 124px,#107bdb 126px,#0f75d7 127px,#0c67cb 129px,#0c55bc 134px,#0a40a3 145px,#0a3898 156px,#0a3a9b 168px,#0a43a7 177px,#0c57be 187px,#0c6bcf 192px,#107bdc 194px,#0c78c8 197px,#0c7bb8 202px,#0c8396 216px)"></i>
<i style="background:linear-gradient(90deg,#df1305 0px,#e32104 3px,#f15502 8px,#fc9000 12px,#ffdc00 16px,#fbe700 17px,#f2e500 18px,#dad903 19px,#bdca07 20px,#77ac0f 23px,#509a13 26px,#2d8c16 30px,#188416 35px,#0c7c17 44px,#0b7c1b 61px,#0a7e29 72px,#0a8146 83px,#0c8789 99px,#0c7abf 121px,#0c78cb 124px,#0f7ada 126px,#0f76d9 127px,#0c67cc 129px,#0c55bc 134px,#0a40a3 145px,#0a3798 156px,#0a3999 168px,#0a41a5 177px,#0c55bc 187px,#0c67cb 192px,#0f75d8 194px,#0f7bda 195px,#0c78c7 198px,#0c7bb7 203px,#0b8398 216px)"></i>
<i style="background:linear-gradient(90deg,#df1105 0px,#e52504 4px,#f25c02 9px,#fd9b00 13px,#ffe800 17px,#f6e600 18px,#e5df02 19px,#afc409 21px,#80b00e 23px,#62a211 25px,#499714 27px,#308d16 30px,#198416 35px,#0c7c17 44px,#0b7b19 59px,#0b7d22 68px,#0a7f2f 75px,#0a8248 84px,#0c8788 99px,#0c7abe 121px,#0c78ca 124px,#0f7ad9 126px,#0f78da 127px,#0c68cc 129px,#0c55bc 134px,#0a40a2 145px,#0a3697 156px,#0a3798 168px,#0a41a4 178px,#0c55bc 188px,#0c68cc 193px,#0f77d9 195px,#0f7ad9 196px,#0c78ca 198px,#0c7bb7 204px,#0b8299 216px)"></i>
<i style="background:linear-gradient(90deg,#de0f05 0px,#e42204 4px,#f15702 9px,#fc9300 13px,#ffe000 17px,#f9e700 18px,#f0e400 19px,#b8c808 21px,#75ab0f 24px,#4e9914 27px,#2c8c16 31px,#178416 36px,#0b7c17 45px,#0b7b1a 61px,#0b7d23 69px,#0a7f31 76px,#0a8147 84px,#0c878a 100px,#0c7abe 121px,#0c78c9 124px,#0f7ad8 126px,#0f79db 127px,#0c68cd 129px,#0c56bc 134px,#0a3fa2 145px,#093595 157px,#0a3797 169px,#0a41a4 179px,#0c56bc 189px,#0c68cd 194px,#0f79db 196px,#0f7ad8 197px,#0c78c9 199px,#0c7bb6 205px,#0b829b 216px)"></i>
<i style="background:linear-gradient(90deg,#dd0d05 0px,#e52704 5px,#f35f02 10px,#fb8d00 13px,#ffd800 17px,#fde800 18px,#f4e500 19px,#e0dc02 20px,#aac20a 22px,#7cae0f 24px,#489714 28px,#2e8c16 31px,#188416 36px,#0c7c17 45px,#0b7b1a 61px,#0a7d24 70px,#0a7f33 77px,#0a8145 84px,#0c8789 100px,#0c79c1 122px,#0d79cf 125px,#107adc 127px,#0c69cd 129px,#0c56bd 134px,#0a3fa2 145px,#093594 157px,#093595 169px,#0a41a4 180px,#0c56bd 190px,#0c69cd 195px,#107adc 197px,#0c79c5 201px,#0c7cb3 207px,#0b819d 216px)"></i>
<i style="background:linear-gradient(90deg,#dd0c05 0px,#e42304 5px,#f25902 10px,#fc9700 14px,#ffe400 18px,#f8e600 19px,#ebe201 20px,#b3c609 22px,#85b20e 24px,#72a910 25px,#4b9814 28px,#2b8b16 32px,#178316 37px,#0b7c17 46px,#0b7c1b 62px,#0a7d25 71px,#0a7f34 78px,#0a8248 85px,#0c8788 100px,#0c79c0 122px,#0d79ce 125px,#107bdd 127px,#0c6ace 129px,#0c56bd 134px,#0a40a3 144px,#093595 155px,#093393 167px,#0a3d9f 179px,#0b53ba 190px,#0c65ca 195px,#0e72d5 197px,#107bdd 198px,#0c78c8 201px,#0c7bb7 206px,#0b819e 216px)"></i>
<i style="background:linear-gradient(90deg,#dd0c05 0px,#e21c04 4px,#e62904 6px,#f36202 11px,#fc9000 14px,#ffdc00 18px,#fbe700 19px,#f2e500 20px,#dad903 21px,#bdca07 22px,#77ac0f 25px,#509a13 28px,#2d8c16 32px,#188416 37px,#0c7c17 46px,#0b7b1a 62px,#0b7d23 70px,#0a7f31 77px,#0a8147 85px,#0c8787 100px,#0c79c0 122px,#0d78cd 125px,#107bdc 127px,#0c6ace 129px,#0c59bf 133px,#0a42a5 143px,#093595 153px,#093291 165px,#0a399a 177px,#0b45aa 185px,#0c5cc2 194px,#0c6ace 197px,#107bdc 199px,#0c78c7 202px,#0c7bb7 207px,#0b81a0 216px)"></i>
<i style="background:linear-gradient(90deg,#dd0c05 0px,#dd0c05 1px,#e42504 6px,#f25c02 11px,#fd9b00 15px,#ffe800 19px,#f6e600 20px,#e5df02 21px,#aec309 23px,#80af0e 25px,#62a211 27px,#499714 29px,#2f8d16 32px,#198416 37px,#0c7c17 46px,#0b7b1a 62px,#0a7d24 71px,#0a7f32 78px,#0a8146 85px,#0c8789 101px,#0c7abf 122px,#0c78cc 125px,#107bdb 127px,#0e74d7 128px,#0c66ca 130px,#0c56bd 134px,#0a40a2 144px,#093392 156px,#093190 168px,#0a3b9d 180px,#0b51b8 191px,#0c61c6 196px,#0c6bcf 198px,#0f75d7 199px,#0f7bdb 200px,#0c78cb 202px,#0c7bb9 207px,#0b80a2 216px)"></i>
<i style="background:linear-gradient(90deg,#dd0c05 0px,#de0f05 2px,#e42204 6px,#f15702 11px,#fc9300 15px,#ffe000 19px,#f9e600 20px,#f0e400 21px,#b8c708 23px,#74aa0f 26px,#4d9914 29px,#2c8b16 33px,#178416 38px,#0b7c17 47px,#0b7c1b 63px,#0a7d25 72px,#0a7f34 79px,#0a8248 86px,#0c8789 101px,#0c7abe 122px,#0c78cb 125px,#0f7bda 127px,#0f75d8 128px,#0c66cb 130px,#0c56bd 134px,#0a3fa2 144px,#093291 156px,#09308f 168px,#0a3a9a 180px,#0b47ad 188px,#0c5dc3 196px,#0d6dd0 199px,#0f76d9 200px,#0f7ad9 201px,#0c78ca 203px,#0c7bb6 209px,#0b80a3 216px)"></i>
<i style="background:linear-gradient(90deg,#dd0c05 0px,#dd0d05 2px,#e52704 7px,#f35f02 12px,#fb8d00 15px,#ffd800 19px,#fde700 20px,#f4e500 21px,#dfdb02 22px,#a9c10a 24px,#7bad0f 26px,#479614 30px,#2d8c16 33px,#188416 38px,#0c7c17 47px,#0b7b1a 63px,#0b7d23 71px,#0a7f31 78px,#0a8247 86px,#0c8788 101px,#0c7abe 122px,#0c78ca 125px,#0f7ad9 127px,#0f76d9 128px,#0c66cb 130px,#0c56bd 134px,#0a3fa1 144px,#093190 156px,#092f8d 168px,#0a3898 180px,#0a45aa 188px,#0c5dc3 197px,#0d6ed1 200px,#0f77da 201px,#0f7ad9 202px,#0c78c9 204px,#0c7bb8 209px,#0b7fa5 216px)"></i>
<i style="background:linear-gradient(90deg,#dd0c05 0px,#dd0c05 2px,#e42304 7px,#f25902 12px,#fc9700 16px,#ffe500 20px,#f7e600 21px,#eae101 22px,#b2c509 24px,#84b10e 26px,#71a910 27px,#4a9814 30px,#2a8b16 34px,#178316 39px,#0b7c17 48px,#0b7c1b 64px,#0a7e27 74px,#0a8146 86px,#0c878a 102px,#0c7abd 122px,#0c78c9 125px,#0f7ad9 127px,#0f77d9 128px,#0c67cb 130px,#0c56bd 134px,#0a3ea1 144px,#09308f 156px,#092d8c 168px,#0a3696 180px,#0a43a6 188px,#0c5ac0 197px,#0c67cc 200px,#0f78db 202px,#0f7ad8 203px,#0c78c9 205px,#0c7bb7 210px,#0b7fa7 216px)"></i>
<i style="background:linear-gradient(90deg,#dd0c05 0px,#de0e05 3px,#e32104 7px,#ee4a03 11px,#f46302 13px,#fc9000 16px,#ffdd00 20px,#fbe700 21px,#f2e400 22px,#bcc908 24px,#76ab0f 27px,#4f9a14 30px,#2c8c16 34px,#178416 39px,#0b7c17 48px,#0b7c1b 64px,#0a7d25 73px,#0a7f34 80px,#0a8249 87px,#0c8789 102px,#0c7abc 122px,#0c78c9 125px,#0f7ad8 127px,#0f78da 128px,#0c67cb 130px,#0c56bd 134px,#0a3ea0 144px,#092f8e 156px,#092d8b 169px,#093595 181px,#0a42a6 189px,#0c5ac0 198px,#0c68cc 201px,#1079db 203px,#0c79c4 207px,#0c7cb4 212px,#0b7ea9 216px)"></i>
<i style="background:linear-gradient(90deg,#dd0c05 0px,#dd0c05 3px,#e52504 8px,#f25d02 13px,#fd9c00 17px,#fee800 21px,#f5e500 22px,#e3dd02 23px,#adc309 25px,#7eaf0e 27px,#549c13 30px,#3f9315 32px,#2e8d16 34px,#188416 39px,#0c7c17 48px,#0b7c1b 65px,#0a7e29 76px,#0a8248 87px,#0c8788 102px,#0c7abc 122px,#0d79cf 126px,#0f7ad7 127px,#0f78db 128px,#0c67cc 130px,#0c56bd 134px,#0a3ea0 144px,#092f8d 156px,#092c8a 170px,#093493 181px,#0a42a6 190px,#0c5ac0 199px,#0c68cc 202px,#107adc 204px,#0c78c8 207px,#0c7bb6 212px,#0b7eab 216px)"></i>
<i style="background:linear-gradient(90deg,#dc0c05 0px,#dd0c05 3px,#e42204 8px,#f15802 13px,#fc9500 17px,#ffe200 21px,#f9e600 22px,#eee300 23px,#b5c608 25px,#87b20d 27px,#73aa10 28px,#4c9814 31px,#2b8b16 35px,#178316 40px,#0b7c17 49px,#0b7c1b 65px,#0a7e27 75px,#0a8146 87px,#0c8788 102px,#0c79c0 123px,#0d79ce 126px,#1079db 128px,#0c68cc 130px,#0c56bd 134px,#0a3d9f 144px,#092e8c 156px,#092c89 171px,#093291 181px,#0a42a5 191px,#0c5ac0 200px,#0c69cd 203px,#107bdd 205px,#0c78c7 208px,#0c7bb6 213px,#0b7dae 216px)"></i>
<i style="background:linear-gradient(90deg,#dc0c05 0px,#dd0d05 4px,#e32004 8px,#e83303 10px,#f36002 14px,#fb8e00 17px,#ffda00 21px,#fce700 22px,#f3e500 23px,#dcda03 24px,#bfcb07 25px,#78ac0f 28px,#509a13 31px,#2d8c16 35px,#188416 40px,#0b7c17 49px,#0b7b1a 64px,#0b7d22 72px,#0a7f2f 79px,#0a8145 87px,#0c868a 103px,#0c7abf 123px,#0d79ce 126px,#107adc 128px,#0c68cc 130px,#0c56bd 134px,#0a3d9f 144px,#092d8b 156px,#092b88 171px,#09308f 181px,#0a3fa2 191px,#0c5ac1 201px,#0c69cd 204px,#107bdc 206px,#0c78cc 208px,#0c7bb8 213px,#0b7db0 216px)"></i>
<i style="background:linear-gradient(90deg,#dc0c05 0px,#dd0c05 4px,#e42304 9px,#f25a02 14px,#fc9900 18px,#ffe700 22px,#f6e600 23px,#e7df01 24px,#afc409 26px,#81b00e 28px,#62a211 30px,#499714 32px,#2f8d16 35px,#188416 40px,#0c7c17 49px,#0b7b1a 65px,#0b7d23 73px,#0a7f31 80px,#0a8248 88px,#0c8789 103px,#0c7abf 123px,#0d78cd 126px,#107bdd 128px,#0c68cc 130px,#0c56bd 134px,#0a3c9e 144px,#092d8a 156px,#082b86 171px,#092f8e 182px,#0a41a4 193px,#0c5ac1 202px,#0c69cd 205px,#107bdb 207px,#0c78cb 209px,#0c7bb8 214px,#0c7cb2 216px)"></i>
<i style="background:linear-gradient(90deg,#dc0c05 0px,#de0e05 5px,#e32104 9px,#f15602 14px,#fc9200 18px,#ffdf00 22px,#fae700 23px,#f0e400 24px,#b8c808 26px,#74aa0f 29px,#4d9914 32px,#2b8b16 36px,#178316 41px,#0b7c17 50px,#0b7c1b 66px,#0a7e29 77px,#0a8247 88px,#0c8789 103px,#0c7abe 123px,#0c78cc 126px,#107bdd 128px,#0c68cc 130px,#0c56bd 134px,#0a3c9e 144px,#092d8a 155px,#082a85 170px,#092f8d 183px,#0a41a4 194px,#0c5ac1 203px,#0c6ace 206px,#0e74d6 207px,#107bdb 208px,#0c78ca 210px,#0c7bb7 215px,#0c7cb5 216px)"></i>
<i style="background:linear-gradient(90deg,#dc0b05 0px,#dd0d05 5px,#e52604 10px,#f35e02 15px,#fd9e00 19px,#ffd800 22px,#fde800 23px,#f4e500 24px,#dfdb02 25px,#a9c10a 27px,#7aad0f 29px,#519b13 32px,#2d8c16 36px,#188416 41px,#0b7c17 50px,#0b7b1a 65px,#0b7d22 73px,#0a7f30 80px,#0a8146 88px,#0b856a 96px,#0c868b 104px,#0c7abe 123px,#0c78cc 126px,#107bdc 128px,#0c68cd 130px,#0c56bd 134px,#0a3c9d 144px,#092c8a 155px,#082a84 170px,#092e8c 184px,#0a40a3 195px,#0c5bc1 204px,#0c6ace 207px,#0e74d7 208px,#0f7bda 209px,#0c78ca 211px,#0c7bba 215px,#0c7bb7 216px)"></i>
<i style="background:linear-gradient(90deg,#dc0b05 0px,#dd0c05 5px,#e42204 10px,#f25902 15px,#fc9700 19px,#ffe500 23px,#f7e600 24px,#eae101 25px,#b2c509 27px,#83b10e 29px,#71a910 30px,#4a9714 33px,#308d16 36px,#198416 41px,#0c7c17 50px,#0b7b1a 66px,#0b7d23 74px,#0a7f32 81px,#0a8249 89px,#0c8787 103px,#0c7abd 123px,#0c78cb 126px,#107bdc 128px,#0c68cd 130px,#0c56bd 134px,#0a3b9c 144px,#092c8a 154px,#082983 169px,#092d8a 184px,#0a3ea0 195px,#0c57be 204px,#0c6bce 208px,#0f75d8 209px,#0f7ad9 210px,#0c78c9 212px,#0c7bb9 216px)"></i>
<i style="background:linear-gradient(90deg,#dc0b05 0px,#de0e05 6px,#e32104 10px,#e83403 12px,#f46202 16px,#fc9000 19px,#ffdd00 23px,#fbe700 24px,#f1e400 25px,#bac908 27px,#75ab0f 30px,#4e9914 33px,#2c8b16 37px,#178316 42px,#0b7c17 51px,#0b7c1b 67px,#0a7e29 78px,#0a8248 89px,#0c878a 104px,#0c7abd 123px,#0c78cb 126px,#107bdc 128px,#0c69cd 130px,#0c56bd 134px,#0a3b9c 144px,#092c89 154px,#082982 169px,#092c88 184px,#0a3696 192px,#0a45a9 199px,#0c5fc5 207px,#0c6bcf 209px,#0f76d8 210px,#0f7ad9 211px,#0c78c9 213px,#0c7abc 216px)"></i>
<i style="background:linear-gradient(90deg,#dc0b05 0px,#dd0c05 6px,#e42504 11px,#f25d02 16px,#fd9c00 20px,#fee800 24px,#f5e500 25px,#e1dd02 26px,#abc20a 28px,#7cae0f 30px,#529b13 33px,#2d8c16 37px,#188416 42px,#0b7c17 51px,#0b7b1a 66px,#0a7d24 75px,#0a7f33 82px,#0a8147 89px,#0c8789 104px,#0c7abc 123px,#0c78ca 126px,#107bdb 128px,#0c69cd 130px,#0c56bc 134px,#0a3a9b 144px,#092c89 153px,#082881 168px,#082b86 183px,#093191 191px,#0a42a5 199px,#0c5bc1 207px,#0c6bcf 210px,#0f76d9 211px,#0f7ad8 212px,#0c78c8 214px,#0c7abf 216px)"></i>
<i style="background:linear-gradient(90deg,#dc0b05 0px,#dd0c05 6px,#e42204 11px,#f15802 16px,#fc9500 20px,#ffe300 24px,#f8e600 25px,#ece201 26px,#b3c609 28px,#84b10e 30px,#72a910 31px,#4a9814 34px,#2a8b16 38px,#178316 43px,#0c7c17 51px,#0b7b1a 67px,#0a7d24 75px,#0a7f32 82px,#0a8146 89px,#0b856a 97px,#0c868b 105px,#0c7abc 123px,#0c78ca 126px,#107bdb 128px,#0c69cd 130px,#0c56bc 134px,#0a3a9b 144px,#092c89 153px,#08287f 168px,#082a84 183px,#093190 192px,#0a41a5 200px,#0c5bc1 208px,#0c6cd0 211px,#0f77d9 212px,#0f7ad8 213px,#0c78c8 215px,#0c79c3 216px)"></i>
<i style="background:linear-gradient(90deg,#dc0b05 0px,#dd0d05 7px,#e32004 11px,#e83303 13px,#f36102 17px,#fc8f00 20px,#ffdc00 24px,#fbe700 25px,#f2e500 26px,#a4bf0a 29px,#76ab0f 31px,#4e9914 34px,#2c8c16 38px,#178416 43px,#0c7d17 51px,#0b7b1a 66px,#0b7d22 74px,#0a7f31 82px,#0a8249 90px,#0c8788 104px,#0c7abc 123px,#0c78ca 126px,#107bdb 128px,#0c69cd 130px,#0c55bc 134px,#0a399a 144px,#092c89 152px,#08277e 167px,#082982 182px,#09308f 193px,#0a41a4 201px,#0c5bc1 209px,#0d6cd0 212px,#0f77da 213px,#0f7ad7 214px,#0c78c8 216px)"></i>
<i style="background:linear-gradient(90deg,#dc0b05 0px,#dd0c05 7px,#e42404 12px,#f25b02 17px,#fd9b00 21px,#ffe800 25px,#f5e500 26px,#e3dd02 27px,#acc209 29px,#7dae0e 31px,#539b13 34px,#369015 37px,#298a16 39px,#188416 43px,#0b7c17 52px,#0b7b1a 67px,#0a7d24 76px,#0a7f33 83px,#0a8248 90px,#0c868a 105px,#0c7abc 123px,#0c78c9 126px,#107bdb 128px,#0c69cd 130px,#0c55bc 134px,#0a3999 144px,#092c88 152px,#07277d 167px,#082880 182px,#09308e 194px,#0a43a8 203px,#0c60c5 211px,#0d6dd0 213px,#0f78da 214px,#0f7ad7 215px,#0d79ce 216px)"></i>
<i style="background:linear-gradient(90deg,#dc0b05 0px,#dd0c05 7px,#e42204 12px,#f15702 17px,#fc9400 21px,#ffe200 25px,#f8e600 26px,#ede300 27px,#b4c609 29px,#85b20e 31px,#72a910 32px,#4a9814 35px,#2a8b16 39px,#178316 44px,#0c7c17 52px,#0b7c1b 68px,#0a7d24 76px,#0a7f30 82px,#0a8147 90px,#0c878a 105px,#0c7abb 123px,#0c78c9 126px,#0f7bda 128px,#0e73d6 129px,#0c69cd 130px,#0c55bc 134px,#0a3899 144px,#092c89 151px,#07267c 166px,#07277e 181px,#092f8d 195px,#0a43a7 204px,#0c5bc1 211px,#0d6dd1 214px,#0f78db 215px,#0f7ad6 216px)"></i>
<i style="background:linear-gradient(90deg,#dc0b05 0px,#dd0d05 8px,#e52704 13px,#f36002 18px,#fb8e00 21px,#ffdb00 25px,#fce700 26px,#f2e500 27px,#dad903 28px,#bdca07 29px,#77ab0f 32px,#4f9a14 35px,#2c8c16 39px,#178316 44px,#0b7c17 53px,#0b7c1b 69px,#0a7e28 79px,#0a8146 90px,#0b856b 98px,#0c868c 106px,#0c7abb 123px,#0c78c9 126px,#0f7bda 128px,#0e73d6 129px,#0c69cd 130px,#0c55bc 134px,#0a3798 144px,#092c88 151px,#07267b 166px,#07267d 181px,#092d8a 195px,#0a40a3 204px,#0c5bc1 212px,#0d6dd1 215px,#0f79db 216px)"></i>
<i style="background:linear-gradient(90deg,#dc0b05 0px,#dd0c05 8px,#e42304 13px,#f25a02 18px,#fc9a00 22px,#ffe800 26px,#f6e500 27px,#e4de02 28px,#adc309 30px,#7dae0e 32px,#539c13 35px,#369015 38px,#298a16 40px,#188416 44px,#0b7c17 53px,#0b7c1b 69px,#0a7e29 80px,#0a8145 90px,#0b856a 98px,#0c868c 106px,#0c7abb 123px,#0c78c9 126px,#0f7bda 128px,#0e73d6 129px,#0c69cd 130px,#0c58bf 133px,#0a3c9d 142px,#092c89 150px,#07257b 165px,#07267c 183px,#092d8c 197px,#0a42a6 206px,#0c5ac1 213px,#0d6dd1 216px)"></i>
<i style="background:linear-gradient(90deg,#dc0b05 0px,#de0e05 9px,#e32104 13px,#f15602 18px,#fc9300 22px,#ffe100 26px,#f9e600 27px,#eee300 28px,#b5c608 30px,#85b20e 32px,#72a910 33px,#4a9814 36px,#2a8b16 40px,#178316 45px,#0c7c17 53px,#0b7b1a 68px,#0b7d23 76px,#0a7f31 83px,#0a8248 91px,#0c8788 105px,#0c7abb 123px,#0c78c9 126px,#0f7bda 128px,#0e73d6 129px,#0c69cd 130px,#0c58bf 133px,#0a3b9c 142px,#092c88 150px,#07257a 165px,#07267c 185px,#092f8d 199px,#0a42a6 207px,#0c5ac1 214px,#0c66ca 216px)"></i>
<i style="background:linear-gradient(90deg,#dc0b05 0px,#dd0c05 9px,#e52604 14px,#f35f02 19px,#fb8d00 22px,#ffda00 26px,#fce700 27px,#f3e500 28px,#dbd903 29px,#beca07 30px,#77ab0f 33px,#4e9a14 36px,#2c8b16 40px,#178316 45px,#0b7c17 54px,#0b7c1b 70px,#0a7e29 80px,#0a8247 91px,#0c8788 105px,#0c7abb 123px,#0c78c9 126px,#0f7bda 128px,#0e73d6 129px,#0c68cd 130px,#0c58be 133px,#0a3b9c 142px,#092c89 149px,#07257a 163px,#07257b 186px,#092e8c 200px,#0a42a5 208px,#0c5ac0 215px,#0c60c5 216px)"></i>
<i style="background:linear-gradient(90deg,#dc0b05 0px,#dd0c05 9px,#e42304 14px,#f25a02 19px,#fc9900 23px,#ffe800 27px,#f6e600 28px,#e4de02 29px,#adc309 31px,#7dae0e 33px,#539b13 36px,#369015 39px,#2d8c16 40px,#188416 45px,#0b7c17 54px,#0b7c1b 70px,#0a7e28 80px,#0a8146 91px,#0c868a 106px,#0c7abb 123px,#0c78c8 126px,#0f7bda 128px,#0e73d6 129px,#0c68cd 130px,#0c58be 133px,#0a3a9b 142px,#092c89 149px,#07257a 162px,#07257a 187px,#092d8b 201px,#0a41a4 209px,#0c5ac0 216px)"></i>
<i style="background:linear-gradient(90deg,#db0b05 0px,#de0e05 10px,#e32104 14px,#ee4b03 18px,#f46402 20px,#fc9300 23px,#ffe100 27px,#f9e600 28px,#eee300 29px,#b5c608 31px,#85b20e 33px,#72a910 34px,#4a9814 37px,#308d16 40px,#188416 45px,#0c7c17 54px,#0b7b1a 69px,#0b7d23 77px,#0a7f31 84px,#0a8145 91px,#0b856b 99px,#0c878a 106px,#0c7abb 123px,#0c78c8 126px,#0f7bda 128px,#0e73d6 129px,#0c68cc 130px,#0c57be 133px,#0a399a 142px,#092c8a 148px,#07257a 161px,#072579 187px,#082b86 199px,#093190 204px,#0a44a8 211px,#0c56bd 216px)"></i>
<i style="background:linear-gradient(90deg,#db0b05 0px,#dd0c05 10px,#e52604 15px,#f35f02 20px,#fb8d00 23px,#ffda00 27px,#fce700 28px,#f2e500 29px,#dad903 30px,#bdca07 31px,#76ab0f 34px,#4e9914 37px,#2b8b16 41px,#178316 46px,#0b7c17 55px,#0b7c1b 70px,#0a7d24 78px,#0a7f33 85px,#0a8249 92px,#0c8789 106px,#0c7aba 123px,#0c78c8 126px,#0f7bda 128px,#0e72d5 129px,#0c62c7 131px,#0b48ae 137px,#0a3696 143px,#092c89 148px,#07257a 160px,#072478 186px,#07277e 195px,#09318f 205px,#0a43a8 212px,#0b52b9 216px)"></i>
<i style="background:linear-gradient(90deg,#db0b05 0px,#dd0c05 10px,#e42304 15px,#f25a02 20px,#fc9900 24px,#ffe800 28px,#f6e500 29px,#e4de02 30px,#acc309 32px,#7dae0e 34px,#529b13 37px,#2d8c16 41px,#178416 46px,#0b7c17 55px,#0b7c1b 71px,#0a7e27 80px,#0a8144 91px,#0c8789 106px,#0c7aba 123px,#0c78c8 126px,#0f7bda 128px,#0e72d5 129px,#0c61c7 131px,#0b47ad 137px,#0a3696 143px,#092c88 148px,#072579 160px,#072478 186px,#07277d 196px,#09308f 206px,#0a43a7 213px,#0b4db5 216px)"></i>
<i style="background:linear-gradient(90deg,#db0b05 0px,#dd0e05 11px,#e32104 15px,#eb4003 18px,#f46402 21px,#fc9300 24px,#ffe100 28px,#f9e600 29px,#ede300 30px,#b4c609 32px,#84b10e 34px,#71a910 35px,#4a9714 38px,#2f8d16 41px,#188416 46px,#0b7c17 55px,#0b7b1a 70px,#0b7d23 78px,#0a7f2f 84px,#0a8247 92px,#0c8788 106px,#0c7aba 123px,#0c78c8 126px,#0f7bda 128px,#0c61c6 131px,#0a44a8 138px,#092e8c 146px,#07257a 158px,#062377 184px,#07267c 197px,#092f8e 207px,#0a43a7 214px,#0b49b0 216px)"></i>
<i style="background:linear-gradient(90deg,#db0b05 0px,#dd0c05 11px,#e52604 16px,#f35f02 21px,#fb8d00 24px,#ffdb00 28px,#fce700 29px,#f2e500 30px,#dad903 31px,#bcca08 32px,#76ab0f 35px,#4d9914 38px,#2b8b16 42px,#178316 47px,#0c7c17 55px,#0b7b1a 70px,#0b7d23 78px,#0a7f32 85px,#0a8146 92px,#0c8788 106px,#0c7aba 123px,#0c78c8 126px,#0f7bdb 128px,#0c61c6 131px,#0a43a7 138px,#092d8b 146px,#072579 158px,#062376 184px,#07267d 199px,#092f8d 208px,#0a42a6 215px,#0b46ab 216px)"></i>
<i style="background:linear-gradient(90deg,#db0b05 0px,#dd0c05 11px,#e42204 16px,#f25a02 21px,#fc9a00 25px,#ffe800 29px,#f5e500 30px,#e3dd02 31px,#abc209 33px,#7bad0f 35px,#519b13 38px,#2d8c16 42px,#178416 47px,#0c7d17 55px,#0b7b1a 70px,#0b7d23 78px,#0a7f31 85px,#0a8145 92px,#0b866c 100px,#0c868b 107px,#0c7aba 123px,#0c78c8 126px,#107bdb 128px,#0c67cb 130px,#0b52b9 134px,#0a3697 142px,#092c88 147px,#072579 157px,#062375 183px,#07267c 200px,#09308f 210px,#0a42a5 216px)"></i>
<i style="background:linear-gradient(90deg,#db0b05 0px,#dd0e05 12px,#e32104 16px,#eb4003 19px,#f46402 22px,#fc9300 25px,#ffe200 29px,#f8e600 30px,#ece201 31px,#b3c509 33px,#83b10e 35px,#71a910 36px,#499714 39px,#2f8d16 42px,#188416 47px,#0b7c17 56px,#0b7c1b 72px,#0a7e27 81px,#0a8145 92px,#0b856b 100px,#0c868a 107px,#0c7aba 123px,#0c78c8 126px,#107bdb 128px,#0c67cb 130px,#0b51b9 134px,#0a3696 142px,#092b88 147px,#072579 157px,#062275 183px,#07267b 201px,#09308e 211px,#0a3ea0 216px)"></i>
<i style="background:linear-gradient(90deg,#db0b05 0px,#dd0c05 12px,#e52604 17px,#f35f02 22px,#fb8e00 25px,#ffdc00 29px,#fbe700 30px,#f2e400 31px,#bbc908 33px,#75ab0f 36px,#4c9914 39px,#2b8b16 43px,#178316 48px,#0c7c17 56px,#0b7b1a 70px,#0b7d22 78px,#0a7f30 85px,#0a8248 93px,#0c878a 107px,#0c7aba 123px,#0c78c8 126px,#107bdb 128px,#0c66cb 130px,#0b51b8 134px,#0a3899 141px,#092c89 146px,#072579 156px,#062274 182px,#07267c 203px,#092f8e 212px,#0a3a9c 216px)"></i>
<i style="background:linear-gradient(90deg,#db0b05 0px,#dd0c05 12px,#e42304 17px,#f25a02 22px,#fd9a00 26px,#fee800 30px,#f5e500 31px,#e1dc02 32px,#aac10a 34px,#7aad0f 36px,#509a13 39px,#2c8c16 43px,#178316 48px,#0b7c17 57px,#0b7c1b 72px,#0a7e28 82px,#0a8247 93px,#0c8789 107px,#0c7bba 123px,#0c78c8 126px,#107bdc 128px,#0c66cb 130px,#0b50b8 134px,#0a3798 141px,#092c88 146px,#072579 155px,#062273 181px,#07267b 204px,#092e8d 213px,#0a3797 216px)"></i>
<i style="background:linear-gradient(90deg,#db0b05 0px,#dd0e05 13px,#e32104 17px,#eb4003 20px,#f15602 22px,#fc9400 26px,#ffe300 30px,#f8e600 31px,#eae101 32px,#b1c509 34px,#81b00e 36px,#62a211 38px,#489714 40px,#2e8c16 43px,#188416 48px,#0b7c17 57px,#0b7c1b 72px,#0a7d24 80px,#0a7f34 87px,#0a8146 93px,#0c8789 107px,#0c7bba 123px,#0c78c8 126px,#107bdc 128px,#0c66ca 130px,#0b50b7 134px,#0a3797 141px,#092b88 146px,#072579 155px,#062173 181px,#07257a 205px,#09318f 215px,#093393 216px)"></i>
<i style="background:linear-gradient(90deg,#db0b05 0px,#dd0c05 13px,#e52604 18px,#f36002 23px,#fc8f00 26px,#ffdd00 30px,#fbe700 31px,#f1e400 32px,#b8c808 34px,#88b30d 36px,#73aa10 37px,#4b9814 40px,#308d16 43px,#188416 48px,#0b7c17 57px,#0b7c1b 73px,#0a7e29 83px,#0a8146 93px,#0c8789 107px,#0c7bba 123px,#0c78c8 126px,#107bdc 128px,#0c65ca 130px,#0b4fb7 134px,#0a3696 141px,#092c89 145px,#072579 154px,#062172 180px,#07257a 206px,#09308f 216px)"></i>
<i style="background:linear-gradient(90deg,#db0b05 0px,#dd0c05 13px,#e42304 18px,#f25b02 23px,#fd9c00 27px,#ffd700 30px,#fde800 31px,#f4e500 32px,#dfdb03 33px,#a7c00a 35px,#78ac0f 37px,#4f9a14 40px,#2b8b16 44px,#178316 49px,#0c7c17 57px,#0b7b1a 71px,#0b7d22 79px,#0a7f30 86px,#0a8145 93px,#0b8567 100px,#0c868b 108px,#0c7bba 123px,#0c78c9 126px,#107bdd 128px,#0c65ca 130px,#0b4fb7 134px,#0a3696 141px,#092c88 145px,#072479 154px,#062171 180px,#072479 206px,#082b86 214px,#092d8a 216px)"></i>
<i style="background:linear-gradient(90deg,#db0a05 0px,#de0e05 14px,#e32104 18px,#f15702 23px,#fc9600 27px,#ffe500 31px,#f7e600 32px,#e7e001 33px,#afc309 35px,#7eaf0e 37px,#539b13 40px,#358f15 43px,#288a16 45px,#178416 49px,#0c7c17 57px,#0b7b1a 72px,#0b7d23 80px,#0a7f30 86px,#0a8249 94px,#0c8788 107px,#0c7bba 123px,#0c78c9 126px,#107bdd 128px,#0d6dd1 129px,#0c58be 132px,#0a3899 140px,#092b88 145px,#072579 153px,#052071 179px,#072477 205px,#07267d 211px,#092b88 216px)"></i>
<i style="background:linear-gradient(90deg,#db0a05 0px,#dd0c05 14px,#e52604 19px,#f36102 24px,#fc9000 27px,#ffdf00 31px,#fae700 32px,#f0e400 33px,#b6c708 35px,#85b20e 37px,#72a910 38px,#4a9714 41px,#2f8d16 44px,#188416 49px,#0b7c17 58px,#0b7c1b 73px,#0a7d26 82px,#0a8140 92px,#0a8460 99px,#0c868b 108px,#0c7bba 123px,#0c78c9 126px,#107adc 128px,#0d6cd0 129px,#0c57be 132px,#0a3798 140px,#092c89 144px,#072479 153px,#052070 179px,#062377 205px,#08277e 213px,#082a85 216px)"></i>
<i style="background:linear-gradient(90deg,#db0a05 0px,#dd0c05 14px,#e42304 19px,#f25c02 24px,#fd9d00 28px,#ffd900 31px,#fce700 32px,#f3e500 33px,#dbd903 34px,#beca07 35px,#76ab0f 38px,#4d9914 41px,#2b8b16 45px,#178316 50px,#0b7c17 58px,#0b7b1a 73px,#0a7d24 81px,#0a7f34 88px,#0a8247 94px,#0c868b 108px,#0c7bba 123px,#0c78c9 126px,#107adc 128px,#0c6ccf 129px,#0c57be 132px,#0a3797 140px,#092c89 144px,#072579 152px,#052070 178px,#062375 204px,#07267c 213px,#082982 216px)"></i>
<i style="background:linear-gradient(90deg,#db0a05 0px,#de0e05 15px,#e42104 19px,#f15802 24px,#fc9700 28px,#ffe700 32px,#f6e600 33px,#e4de02 34px,#acc209 36px,#7bad0f 38px,#519b13 41px,#2c8c16 45px,#178316 50px,#0c7c17 58px,#0b7b1a 72px,#0b7d22 80px,#0a7f31 87px,#0a8146 94px,#0c868a 108px,#0c7bba 123px,#0c78c9 126px,#1079db 128px,#0c6bcf 129px,#0c57bd 132px,#0a3696 140px,#092c88 144px,#072479 152px,#05206f 178px,#062274 204px,#07267d 215px,#08277f 216px)"></i>
<i style="background:linear-gradient(90deg,#db0a05 0px,#dd0c05 15px,#e52704 20px,#f36202 25px,#fc9100 28px,#ffe100 32px,#f9e600 33px,#ede200 34px,#b3c509 36px,#82b00e 38px,#70a810 39px,#489714 42px,#2e8c16 45px,#178416 50px,#0c7c17 58px,#0b7b1a 73px,#0a7d24 81px,#0a7f30 87px,#0a8146 94px,#0c868a 108px,#0c7bba 123px,#0c78c9 126px,#0e7ad4 127px,#0f78db 128px,#0c6ace 129px,#0c56bd 132px,#093595 140px,#092b87 144px,#072579 151px,#051f6f 177px,#062173 203px,#07267c 216px)"></i>
<i style="background:linear-gradient(90deg,#da0a05 0px,#dd0c05 15px,#e42404 20px,#f35d02 25px,#fb8d00 28px,#ffdb00 32px,#fbe700 33px,#f2e400 34px,#bac808 36px,#89b30d 38px,#74aa0f 39px,#4b9814 42px,#308d16 45px,#188416 50px,#0b7c17 59px,#0b7c1b 74px,#0a7d27 83px,#0a8141 93px,#0a8462 100px,#0c878a 108px,#0c7bba 123px,#0c78ca 126px,#0e7ad4 127px,#0f77da 128px,#0c69ce 129px,#0c56bc 132px,#093594 140px,#092b87 144px,#072479 151px,#051f6e 177px,#062172 203px,#07257a 216px)"></i>
<i style="background:linear-gradient(90deg,#da0a05 0px,#dd0c05 15px,#e21d04 19px,#e42204 20px,#f25902 25px,#fc9a00 29px,#fee800 33px,#f4e500 34px,#e0dc02 35px,#a8c10a 37px,#78ac0f 39px,#4e9a14 42px,#2b8b16 46px,#178316 51px,#0b7c17 59px,#0b7c1b 74px,#0a7d25 82px,#0a7f32 88px,#0a8249 95px,#0c8789 108px,#0c7bba 123px,#0c78ca 126px,#0e7ad5 127px,#0f77d9 128px,#0c69cd 129px,#0c55bc 132px,#093494 140px,#092c89 143px,#072579 150px,#051f6e 175px,#052071 202px,#072479 216px)"></i>
<i style="background:linear-gradient(90deg,#da0a05 0px,#dd0d05 16px,#e32004 20px,#e83403 22px,#f15602 25px,#fc9400 29px,#ffe400 33px,#f7e600 34px,#e8e001 35px,#afc409 37px,#7eaf0e 39px,#529b13 42px,#358f15 45px,#288a16 47px,#178316 51px,#0c7c17 59px,#0b7b1a 73px,#0b7d23 81px,#0a7f32 88px,#0a8248 95px,#0c8789 108px,#0c7aba 123px,#0c78ca 126px,#0e7ad6 127px,#0f76d8 128px,#0c68cd 129px,#0c55bc 132px,#093393 140px,#092c88 143px,#072579 150px,#051f6e 175px,#052071 204px,#072478 216px)"></i>
<i style="background:linear-gradient(90deg,#da0a05 0px,#dd0c05 16px,#e42504 21px,#f35f02 26px,#fc8f00 29px,#ffde00 33px,#fae700 34px,#f0e400 35px,#b6c708 37px,#85b20e 39px,#71a910 40px,#499714 43px,#2e8c16 46px,#188416 51px,#0c7c17 59px,#0b7b1a 73px,#0b7d22 81px,#0a7f31 88px,#0a8248 95px,#0c8789 108px,#0c7aba 123px,#0c78ca 126px,#0f7ad6 127px,#0f75d8 128px,#0c68cc 129px,#0c54bb 132px,#093392 140px,#082a85 144px,#072479 150px,#051f6d 174px,#052070 205px,#062377 216px)"></i>
<i style="background:linear-gradient(90deg,#da0a05 0px,#dd0c05 16px,#e42204 21px,#f25b02 26px,#fd9c00 30px,#ffd800 33px,#fde700 34px,#f3e500 35px,#dbd903 36px,#bdca07 37px,#75ab0f 40px,#4c9814 43px,#318d16 46px,#188416 51px,#0b7c17 60px,#0b7c1b 75px,#0a7d25 83px,#0a7f34 89px,#0a8247 95px,#0c8789 108px,#0c7aba 123px,#0c78cb 126px,#0f7ad7 127px,#0e74d7 128px,#0c67cc 129px,#0b4eb6 133px,#093595 139px,#082b87 143px,#072579 149px,#051f6d 172px,#05206f 205px,#062376 216px)"></i>
<i style="background:linear-gradient(90deg,#da0a05 0px,#dd0d05 17px,#e32104 21px,#ec4103 24px,#f15702 26px,#fc9700 30px,#ffe700 34px,#f6e500 35px,#e3de02 36px,#abc20a 38px,#7aad0f 40px,#4f9a14 43px,#2b8b16 47px,#178316 52px,#0b7c17 60px,#0b7c1b 75px,#0a7e27 84px,#0a8142 94px,#0b856a 102px,#0c868c 109px,#0c7aba 123px,#0c78cc 126px,#0f7ad8 127px,#0e73d6 128px,#0c67cb 129px,#0b4eb5 133px,#093594 139px,#092c89 142px,#072479 149px,#051f6d 172px,#051f6f 206px,#062275 216px)"></i>
<i style="background:linear-gradient(90deg,#da0a05 0px,#dd0c05 17px,#e52604 22px,#f36102 27px,#fc9100 30px,#ffe200 34px,#f8e600 35px,#ece201 36px,#b1c509 38px,#80b00e 40px,#61a212 42px,#479614 44px,#2d8c16 47px,#178316 52px,#0c7c17 60px,#0b7b1a 74px,#0b7d23 82px,#0a7f30 88px,#0a8146 95px,#0c868b 109px,#0c7aba 123px,#0c78cc 126px,#0f7ad8 127px,#0e72d5 128px,#0c5ec4 130px,#0a44a8 135px,#092d8b 141px,#072579 148px,#051f6d 170px,#051f6e 207px,#062273 216px)"></i>
<i style="background:linear-gradient(90deg,#da0a05 0px,#dd0c05 17px,#e42304 22px,#f35d02 27px,#fb8d00 30px,#ffdc00 34px,#fbe700 35px,#f1e400 36px,#b8c808 38px,#87b20d 40px,#72aa10 41px,#4a9714 44px,#2e8d16 47px,#188416 52px,#0c7c17 60px,#0b7b1a 74px,#0b7d23 82px,#0a7f2f 88px,#0a8145 95px,#0c868b 109px,#0c7aba 123px,#0d78cd 126px,#0f7ad9 127px,#0e71d4 128px,#0c5dc3 130px,#0a43a7 135px,#092d8a 141px,#072579 148px,#051f6d 169px,#051f6d 206px,#062172 216px)"></i>
<i style="background:linear-gradient(90deg,#da0a05 0px,#de0e05 18px,#e42204 22px,#f25902 27px,#fc9a00 31px,#ffd600 34px,#fee800 35px,#f4e500 36px,#dedb03 37px,#c0cb07 38px,#76ab0f 41px,#4c9914 44px,#318d16 47px,#188416 52px,#0c7d17 60px,#0b7b1a 74px,#0b7d22 82px,#0a7f32 89px,#0a8249 96px,#0c868b 109px,#0c7aba 123px,#0d79ce 126px,#0f7ada 127px,#0c5cc2 130px,#0b47ad 134px,#093292 139px,#082a84 143px,#072479 148px,#051e6d 169px,#051e6d 206px,#062171 216px)"></i>
<i style="background:linear-gradient(90deg,#da0a05 0px,#dd0c05 18px,#e32004 22px,#e83303 24px,#f15602 27px,#fc9400 31px,#ffe600 35px,#f6e600 36px,#e6df01 37px,#acc209 39px,#7bad0f 41px,#509a13 44px,#2b8b16 48px,#178316 53px,#0b7c17 61px,#0b7c1b 76px,#0a7d26 84px,#0a8038 91px,#0a8249 96px,#0c868b 109px,#0c7aba 123px,#0d79ce 126px,#107bdb 127px,#0c64c9 129px,#0b50b8 132px,#093595 138px,#092c89 141px,#072579 147px,#051e6d 168px,#051e6c 205px,#052070 216px)"></i>
<i style="background:linear-gradient(90deg,#da0a05 0px,#dd0c05 18px,#e42504 23px,#f36002 28px,#fc8f00 31px,#ffe000 35px,#f9e600 36px,#eee300 37px,#b3c509 39px,#81b00e 41px,#6fa810 42px,#479714 45px,#2d8c16 48px,#178316 53px,#0c7c17 61px,#0b7c1b 76px,#0a7d25 84px,#0a7f34 90px,#0a8248 96px,#0b866d 103px,#0c868b 109px,#0c7abb 123px,#0d79cf 126px,#107bdc 127px,#0c63c8 129px,#0b4ab2 133px,#093594 138px,#092c88 141px,#072579 147px,#051e6d 167px,#051e6c 204px,#05206f 216px)"></i>
<i style="background:linear-gradient(90deg,#da0a05 0px,#dd0c05 18px,#e42204 23px,#f25b02 28px,#fd9e00 32px,#ffda00 35px,#fce700 36px,#f2e400 37px,#b9c808 39px,#88b30d 41px,#73aa10 42px,#4a9714 45px,#2e8d16 48px,#178416 53px,#0c7c17 61px,#0b7b19 74px,#0b7d22 82px,#0a7f31 89px,#0a8248 96px,#0b866d 103px,#0c868a 109px,#0c7abb 123px,#0c78c7 125px,#107bdc 127px,#0c6cd0 128px,#0c55bc 131px,#09308f 139px,#07257a 146px,#051e6d 166px,#051e6b 203px,#051f6e 216px)"></i>
<i style="background:linear-gradient(90deg,#da0a05 0px,#dd0d05 19px,#e32104 23px,#ec4103 26px,#f15802 28px,#fc9800 32px,#fee800 36px,#f4e500 37px,#dfdb02 38px,#c1cc07 39px,#76ab0f 42px,#4c9914 45px,#318d16 48px,#188416 53px,#0c7c17 61px,#0b7b19 74px,#0b7d21 82px,#0a7f30 89px,#0a8247 96px,#0c868a 109px,#0c7abb 123px,#0c78c7 125px,#107bdd 127px,#0c6ace 128px,#0c54bb 131px,#092f8e 139px,#072579 146px,#051e6d 165px,#051d6a 202px,#051f6e 216px)"></i>
<i style="background:linear-gradient(90deg,#da0a05 0px,#dd0c05 19px,#e52604 24px,#f46202 29px,#fc9300 32px,#ffe400 36px,#f7e600 37px,#e7df01 38px,#adc309 40px,#7bad0f 42px,#509a13 45px,#2b8b16 49px,#198416 53px,#0c7d17 61px,#0b7b1a 75px,#0b7d23 83px,#0a7f30 89px,#0a8146 96px,#0c868a 109px,#0c7abb 123px,#0c78c7 125px,#1079dc 127px,#0c69ce 128px,#0b53ba 131px,#093292 138px,#082983 142px,#072579 146px,#051e6d 164px,#051d6a 201px,#051f6d 216px)"></i>
<i style="background:linear-gradient(90deg,#da0a05 0px,#dd0c05 19px,#e42304 24px,#f35e02 29px,#fc8e00 32px,#ffdf00 36px,#f9e600 37px,#efe300 38px,#b3c509 40px,#81b00e 42px,#6fa810 43px,#479614 46px,#2c8c16 49px,#178316 54px,#0b7c17 62px,#0b7c1b 77px,#0a7d26 85px,#0a813f 94px,#0a835a 100px,#0c878a 109px,#0c7abb 123px,#0c78c8 125px,#0f78da 127px,#0c69cd 128px,#0b53ba 131px,#0a3696 137px,#092c88 140px,#072479 146px,#051e6c 164px,#051d69 201px,#051e6c 216px)"></i>
<i style="background:linear-gradient(90deg,#da0a05 0px,#de0e05 20px,#e42204 24px,#f25a02 29px,#fd9d00 33px,#ffda00 36px,#fce700 37px,#f2e500 38px,#d8d804 39px,#b9c808 40px,#88b30d 42px,#73aa10 43px,#499714 46px,#2e8c16 49px,#178416 54px,#0c7c17 62px,#0b7b1a 76px,#0b7d22 83px,#0a7f2f 89px,#0a8145 96px,#0c878a 109px,#0c7abb 123px,#0c78c8 125px,#0e79d3 126px,#0f77d9 127px,#0c68cc 128px,#0b52b9 131px,#093595 137px,#092b87 140px,#072579 145px,#051e6c 163px,#051c69 200px,#051e6c 216px)"></i>
<i style="background:linear-gradient(90deg,#da0a05 0px,#dd0d05 20px,#e32004 24px,#e83403 26px,#f15702 29px,#fc9700 33px,#fee800 37px,#f5e500 38px,#dfdc02 39px,#c1cc07 40px,#76ab0f 43px,#4c9814 46px,#308d16 49px,#188416 54px,#0c7c17 62px,#0b7b19 75px,#0b7d22 83px,#0a7f32 90px,#0a8145 96px,#0b856a 103px,#0c878a 109px,#0c7abc 123px,#0c78c9 125px,#0e7ad4 126px,#0f75d8 127px,#0c67cb 128px,#0b51b9 131px,#093494 137px,#082b87 140px,#072579 145px,#051e6c 162px,#051c68 199px,#051e6b 216px)"></i>
<i style="background:linear-gradient(90deg,#da0a05 0px,#dd0c05 20px,#e52604 25px,#f36202 30px,#fc9200 33px,#ffe400 37px,#f7e600 38px,#e7df01 39px,#adc309 41px,#7bad0f 43px,#4f9a14 46px,#2b8b16 50px,#188416 54px,#0c7d17 62px,#0b7b19 75px,#0b7d22 83px,#0a7f31 90px,#0a8249 97px,#0c8789 109px,#0c7abc 123px,#0c78c9 125px,#0e7ad5 126px,#0e74d7 127px,#0c66cb 128px,#0b51b8 131px,#093393 137px,#082b86 140px,#072479 145px,#051e6c 162px,#051c68 198px,#051d6b 216px)"></i>
<i style="background:linear-gradient(90deg,#d90a05 0px,#dd0c05 20px,#e42304 25px,#f35d02 30px,#fb8e00 33px,#ffdf00 37px,#f9e700 38px,#efe300 39px,#b3c509 41px,#81b00e 43px,#61a212 45px,#479614 47px,#2c8c16 50px,#178316 55px,#0b7c17 63px,#0b7c1b 78px,#0a7e2b 88px,#0a8249 97px,#0c8789 109px,#0c7bb8 122px,#0c78c9 125px,#0f7ad6 126px,#0e72d5 127px,#0c5cc2 129px,#0a45aa 133px,#092e8c 138px,#07257a 144px,#051e6c 161px,#051c68 195px,#051d6a 216px)"></i>
<i style="background:linear-gradient(90deg,#d90a05 0px,#dd0d05 21px,#e42104 25px,#f25902 30px,#fd9c00 34px,#ffda00 37px,#fce700 38px,#f2e500 39px,#b9c808 41px,#87b20d 43px,#72a910 44px,#499714 47px,#2d8c16 50px,#178316 55px,#0b7c17 63px,#0b7c1b 78px,#0a7e28 87px,#0a8143 96px,#0b8569 103px,#0c868d 110px,#0c7bb8 122px,#0c78ca 125px,#0f7ad7 126px,#0e71d4 127px,#0c5bc2 129px,#0a3696 136px,#092b88 139px,#072579 144px,#051e6c 161px,#051c68 193px,#051d6a 216px)"></i>
<i style="background:linear-gradient(90deg,#d90a05 0px,#dd0c05 21px,#e32004 25px,#e83403 27px,#f15702 30px,#fc9700 34px,#fee800 38px,#f4e500 39px,#dfdb03 40px,#c0cc07 41px,#75ab0f 44px,#4b9814 47px,#2f8d16 50px,#178416 55px,#0c7c17 63px,#0b7b1a 77px,#0b7d23 84px,#0a7f30 90px,#0a8248 97px,#0b8569 103px,#0c868d 110px,#0c7bb8 122px,#0c78cb 125px,#0f7ad9 126px,#0d6fd3 127px,#0c5bc1 129px,#0a43a8 133px,#092d8a 138px,#072479 144px,#051e6c 160px,#051c68 190px,#051d69 216px)"></i>
<i style="background:linear-gradient(90deg,#d90a05 0px,#dd0c05 21px,#e42504 26px,#f36102 31px,#fc9200 34px,#ffe500 38px,#f7e600 39px,#e6df01 40px,#abc209 42px,#79ad0f 44px,#4e9914 47px,#318e16 50px,#188416 55px,#0c7c17 63px,#0b7b19 76px,#0b7d21 83px,#0a7f30 90px,#0a8247 97px,#0b8568 103px,#0c868c 110px,#0c7bb9 122px,#0c78cc 125px,#0f7ada 126px,#0c63c8 128px,#0b48ae 132px,#093494 136px,#082b86 139px,#072479 144px,#051e6c 160px,#051c68 189px,#051c69 216px)"></i>
<i style="background:linear-gradient(90deg,#d90a05 0px,#dd0c05 21px,#e42304 26px,#f35d02 31px,#fb8e00 34px,#ffe000 38px,#f9e600 39px,#ede300 40px,#b1c509 42px,#7faf0e 44px,#5fa112 46px,#469614 48px,#2b8b16 51px,#188416 55px,#0c7d17 63px,#0b7b19 76px,#0b7d22 84px,#0a7f2f 90px,#0a8247 97px,#0b8568 103px,#0c868c 110px,#0c7bb9 122px,#0c79c5 124px,#0d78cd 125px,#107bdb 126px,#0c6cd0 127px,#0c59c0 129px,#0a42a6 133px,#092c89 138px,#072579 143px,#051e6c 159px,#051c68 187px,#051c68 216px)"></i>
<i style="background:linear-gradient(90deg,#d90905 0px,#dd0d05 22px,#e32104 26px,#f25902 31px,#fd9d00 35px,#ffda00 38px,#fbe700 39px,#f1e400 40px,#b7c708 42px,#85b10e 44px,#71a910 45px,#489714 48px,#2c8c16 51px,#178316 56px,#0b7c17 64px,#0b7c1b 79px,#0a7e2c 89px,#0a8147 97px,#0b8568 103px,#0c868c 110px,#0c7bb9 122px,#0c79c5 124px,#0d79ce 125px,#107bdc 126px,#0c6ace 127px,#0b52b9 130px,#093392 136px,#082a85 139px,#072579 143px,#051e6c 158px,#051c68 185px,#051c68 216px)"></i>
<i style="background:linear-gradient(90deg,#d90905 0px,#dd0c05 22px,#e32004 26px,#e52804 27px,#f15702 31px,#fc9800 35px,#fee800 39px,#f4e500 40px,#ddda03 41px,#beca07 42px,#8ab40d 44px,#74aa0f 45px,#4a9814 48px,#2e8c16 51px,#178316 56px,#0b7c17 64px,#0b7c1b 79px,#0a7e29 88px,#0a8146 97px,#0b8567 103px,#0c868c 110px,#0c7bb9 122px,#0c79c6 124px,#107bdd 126px,#0c69cd 127px,#0b51b9 130px,#093291 136px,#082a84 139px,#072479 143px,#051e6c 158px,#051c68 184px,#051c68 216px)"></i>
<i style="background:linear-gradient(90deg,#d90905 0px,#dd0c05 22px,#e42504 27px,#f36102 32px,#fc9300 35px,#ffe600 39px,#f6e600 40px,#e4de02 41px,#a9c10a 43px,#77ac0f 45px,#4c9914 48px,#308d16 51px,#178416 56px,#0c7c17 64px,#0b7b1a 78px,#0a7d25 86px,#0a7f35 92px,#0a8146 97px,#0b866d 104px,#0c868c 110px,#0c7cb5 121px,#0c79c6 124px,#1079db 126px,#0c68cd 127px,#0b51b8 130px,#093190 136px,#07267c 141px,#051f6d 155px,#051c68 179px,#051c68 216px)"></i>
<i style="background:linear-gradient(90deg,#d90905 0px,#dd0c05 22px,#e21e04 26px,#e42304 27px,#f35e02 32px,#fc8f00 35px,#ffe100 39px,#f8e600 40px,#ebe101 41px,#afc409 43px,#7cae0f 45px,#4f9a14 48px,#328e16 51px,#188416 56px,#0c7c17 64px,#0b7b19 77px,#0b7d23 85px,#0a7f31 91px,#0a8145 97px,#0b866d 104px,#0c868c 110px,#0c7bb6 121px,#0c78c7 124px,#0f77da 126px,#0c67cc 127px,#0c56bd 129px,#09308f 136px,#072579 142px,#051e6c 157px,#051c67 182px,#051c68 216px)"></i>
<i style="background:linear-gradient(90deg,#d90905 0px,#dd0d05 23px,#e32104 27px,#f25a02 32px,#fd9e00 36px,#ffdc00 39px,#fbe700 40px,#f1e400 41px,#b5c608 43px,#82b00e 45px,#6fa810 46px,#479614 49px,#2c8b16 52px,#198416 56px,#0c7c17 64px,#0b7b19 77px,#0b7d21 84px,#0a7e2e 90px,#0a8145 97px,#0b866d 104px,#0c868c 110px,#0c7bb6 121px,#0c78c7 124px,#0e79d3 125px,#0f76d8 126px,#0c66cb 127px,#0c56bc 129px,#092f8e 136px,#072479 142px,#051e6c 156px,#051c67 180px,#051c68 216px)"></i>
<i style="background:linear-gradient(90deg,#d90905 0px,#dd0c05 23px,#e32004 27px,#e52804 28px,#f15702 32px,#fc9900 36px,#ffd700 39px,#fde700 40px,#f3e500 41px,#dad903 42px,#bac908 43px,#87b30d 45px,#72a910 46px,#489714 49px,#2d8c16 52px,#178316 57px,#0b7c17 65px,#0b7c1b 79px,#0a7d25 86px,#0a7f31 91px,#0a8145 97px,#0b866c 104px,#0c868c 110px,#0c7bb6 121px,#0c78c8 124px,#0e7ad4 125px,#0e74d7 126px,#0c65ca 127px,#0c55bc 129px,#093392 135px,#082a84 138px,#072479 142px,#051e6c 156px,#051c67 179px,#051c67 216px)"></i>
<i style="background:linear-gradient(90deg,#d90905 0px,#dd0c05 23px,#e52504 28px,#f46202 33px,#fc9400 36px,#ffe800 40px,#f5e500 41px,#e0dc02 42px,#c1cc07 43px,#75ab0f 46px,#4a9814 49px,#2e8c16 52px,#178316 57px,#0b7c17 65px,#0b7c1b 79px,#0a7d24 86px,#0a7f30 91px,#0a8249 98px,#0c8788 109px,#0c7bb6 121px,#0c78c8 124px,#0e7ad5 125px,#0e72d5 126px,#0c64c9 127px,#0b4db5 130px,#093291 135px,#092b87 137px,#07257a 141px,#051e6c 155px,#051c67 177px,#051c67 216px)"></i>
<i style="background:linear-gradient(90deg,#d90905 0px,#dd0c05 23px,#e21e04 27px,#e42304 28px,#f35e02 33px,#fc9000 36px,#ffe300 40px,#f7e600 41px,#e7e001 42px,#acc209 44px,#79ac0f 46px,#4d9914 49px,#308d16 52px,#178416 57px,#0b7c17 65px,#0b7c1b 80px,#0a7e2a 89px,#0a8144 97px,#0b866c 104px,#0c868c 110px,#0c7bb7 121px,#0c78c9 124px,#0f7ad7 125px,#0d70d3 126px,#0c5ac0 128px,#0b46ac 131px,#092d8a 136px,#072579 141px,#051e6c 155px,#051c67 177px,#051c67 216px)"></i>
<i style="background:linear-gradient(90deg,#d90905 0px,#dd0d05 24px,#e42104 28px,#f25b02 33px,#fb8c00 36px,#ffde00 40px,#f9e700 41px,#eee300 42px,#b1c509 44px,#7eaf0e 46px,#509a13 49px,#328e16 52px,#1c8616 56px,#128116 60px,#0b7c17 66px,#0b7c1b 80px,#0a7e29 89px,#0a8249 98px,#0c868c 110px,#0c7cb3 120px,#0c79c2 123px,#0c78ca 124px,#0f7ad8 125px,#0d6ed2 126px,#0c59bf 128px,#0b46ab 131px,#092c8a 136px,#072479 141px,#051e6c 154px,#051c67 175px,#051c67 216px)"></i>
<i style="background:linear-gradient(90deg,#d90905 0px,#dd0c05 24px,#e32004 28px,#e83403 30px,#f15802 33px,#fd9b00 37px,#ffda00 40px,#fce700 41px,#f2e400 42px,#b7c708 44px,#83b10e 46px,#70a810 47px,#479614 50px,#2c8b16 53px,#188416 57px,#0c7c17 65px,#0b7b1a 78px,#0b7d22 85px,#0a7f2f 91px,#0a8248 98px,#0c868c 110px,#0c7cb3 120px,#0c79c3 123px,#0c78cb 124px,#0f7ada 125px,#0c61c6 127px,#0a45aa 131px,#092c89 136px,#072479 141px,#051e6c 154px,#051c67 175px,#051c67 216px)"></i>
<i style="background:linear-gradient(90deg,#d90905 0px,#dd0c05 24px,#e52604 29px,#f15502 33px,#fc9600 37px,#fee800 41px,#f4e500 42px,#dcda03 43px,#bdca07 44px,#89b30d 46px,#73aa10 47px,#499714 50px,#2d8c16 53px,#178316 58px,#0c7c17 65px,#0b7b19 77px,#0b7d22 85px,#0a7f2f 91px,#0a8248 98px,#0c868c 110px,#0c7cb3 120px,#0c7abc 122px,#0c78cc 124px,#107bdb 125px,#0c6ace 126px,#0b50b8 129px,#093393 134px,#082a84 137px,#072478 141px,#051e6c 154px,#051c67 175px,#051c67 216px)"></i>
<i style="background:linear-gradient(90deg,#d90905 0px,#dd0c05 24px,#e42304 29px,#f36002 34px,#fc9200 37px,#ffe600 41px,#f6e600 42px,#e3dd02 43px,#a7c00a 45px,#76ab0f 47px,#4a9814 50px,#2e8c16 53px,#178316 58px,#0b7c17 66px,#0b7c1b 80px,#0a7e27 88px,#0a8143 97px,#0b8565 103px,#0c868c 110px,#0c7cb3 120px,#0c7abc 122px,#0d79cd 124px,#107bdd 125px,#0c69cd 126px,#0c56bd 128px,#092d8b 135px,#072579 140px,#051e6c 153px,#051c67 173px,#051c67 216px)"></i>
<i style="background:linear-gradient(90deg,#d90905 0px,#dd0d05 25px,#e42204 29px,#f25c02 34px,#fb8e00 37px,#ffe100 41px,#f8e600 42px,#e9e001 43px,#adc309 45px,#79ad0f 47px,#4d9914 50px,#308d16 53px,#178416 58px,#0b7c17 66px,#0b7c1b 80px,#0a7d25 87px,#0a7f35 93px,#0a8248 98px,#0b856b 104px,#0c868c 110px,#0c7cb4 120px,#0c7abd 122px,#0d79cf 124px,#107adc 125px,#0c68cc 126px,#0c56bc 128px,#093291 134px,#082982 137px,#072479 140px,#051e6c 153px,#051c67 174px,#051c67 216px)"></i>
<i style="background:linear-gradient(90deg,#d90905 0px,#dd0c05 25px,#e32104 29px,#e93503 31px,#f25902 34px,#fd9e00 38px,#ffdd00 41px,#fae700 42px,#f0e400 43px,#b2c509 45px,#7eaf0e 47px,#509a13 50px,#328e16 53px,#188416 58px,#0b7c17 66px,#0b7c1b 80px,#0a7d25 87px,#0a7f32 92px,#0a8247 98px,#0b856b 104px,#0c868c 110px,#0c7cb4 120px,#0c79c5 123px,#0f78da 125px,#0c67cb 126px,#0c55bc 128px,#093190 134px,#07257a 139px,#051e6c 152px,#051c67 171px,#051c67 216px)"></i>
<i style="background:linear-gradient(90deg,#d80905 0px,#dd0c05 25px,#e52704 30px,#f15602 34px,#fc9900 38px,#ffd800 41px,#fce700 42px,#f2e500 43px,#b7c708 45px,#83b10e 47px,#70a810 48px,#469614 51px,#2b8b16 54px,#188416 58px,#0c7c17 66px,#0b7c1b 80px,#0a7d25 87px,#0a7f31 92px,#0a8147 98px,#0b856b 104px,#0c868c 110px,#0c7cb4 120px,#0c79c6 123px,#0e79d2 124px,#0f76d8 125px,#0c65ca 126px,#0b54bb 128px,#09308e 134px,#07257a 139px,#051e6c 152px,#051c67 172px,#051c67 216px)"></i>
<i style="background:linear-gradient(90deg,#d80905 0px,#dd0c05 25px,#e42404 30px,#f36202 35px,#fc9500 38px,#fee800 42px,#f4e500 43px,#ddda03 44px,#bdca07 45px,#88b30d 47px,#73aa10 48px,#489714 51px,#2c8c16 54px,#198416 58px,#0c7c17 66px,#0b7b1a 79px,#0b7d23 86px,#0a7f31 92px,#0a8147 98px,#0b856a 104px,#0c868c 110px,#0c7cb5 120px,#0c78c7 123px,#0e79d3 124px,#0e73d6 125px,#0c64c9 126px,#0b4cb3 129px,#093494 133px,#082a84 136px,#072579 139px,#051e6b 152px,#051c67 172px,#051c66 216px)"></i>
<i style="background:linear-gradient(90deg,#d80905 0px,#de0e05 26px,#e42204 30px,#f35e02 35px,#fc9000 38px,#ffe500 42px,#f6e600 43px,#e3dd02 44px,#a7c00a 46px,#76ab0f 48px,#4a9814 51px,#2d8c16 54px,#178316 59px,#0c7c17 66px,#0b7b1a 79px,#0b7d22 86px,#0a7e2d 91px,#0a8146 98px,#0b8564 103px,#0c868c 110px,#0c7cb5 120px,#0c78c7 123px,#0e7ad5 124px,#0e71d4 125px,#0c63c8 126px,#0b4bb2 129px,#0a3999 132px,#092e8c 134px,#072479 139px,#051e6c 151px,#051c67 169px,#051c66 216px)"></i>
<i style="background:linear-gradient(90deg,#d80905 0px,#dd0d05 26px,#e32104 30px,#f25b02 35px,#fb8d00 38px,#ffe100 42px,#f8e600 43px,#e9e101 44px,#acc309 46px,#79ac0f 48px,#4c9914 51px,#2f8d16 54px,#178316 59px,#0c7d17 66px,#0b7b19 78px,#0b7d22 86px,#0a7f31 92px,#0a8146 98px,#0b8563 103px,#0c868c 110px,#0c7cb5 120px,#0c78c8 123px,#0f7ad6 124px,#0d6fd2 125px,#0c62c7 126px,#0a44a8 130px,#092d8b 134px,#07257a 138px,#051e6c 150px,#051c67 168px,#051c66 216px)"></i>
<i style="background:linear-gradient(90deg,#d80905 0px,#dd0c05 26px,#e32004 30px,#e52804 31px,#f25802 35px,#fd9d00 39px,#ffdc00 42px,#fae700 43px,#f0e400 44px,#b1c509 46px,#7dae0e 48px,#4f9a14 51px,#318d16 54px,#178416 59px,#0b7c17 67px,#0b7b1a 80px,#0a7d24 87px,#0a7f30 92px,#0a8146 98px,#0b8563 103px,#0c868c 110px,#0c7bb6 120px,#0c78c9 123px,#0f7ad8 124px,#0c60c6 126px,#0a43a7 130px,#092d8a 134px,#07257a 138px,#051e6c 150px,#051c67 167px,#051c66 216px)"></i>
<i style="background:linear-gradient(90deg,#d80905 0px,#dd0c05 26px,#e52504 31px,#f15602 35px,#fc9800 39px,#ffd800 42px,#fce700 43px,#f2e400 44px,#b6c708 46px,#82b00e 48px,#6fa810 49px,#469614 52px,#2b8b16 55px,#188416 59px,#0b7c17 67px,#0b7c1b 81px,#0a7e2a 90px,#0a8146 98px,#0b8563 103px,#0c868c 110px,#0c7bb6 120px,#0c78ca 123px,#0f7ada 124px,#0c6bce 125px,#0c56bd 127px,#09308f 133px,#072579 138px,#051e6c 150px,#051c67 168px,#051c66 216px)"></i>
<i style="background:linear-gradient(90deg,#d80905 0px,#dd0c05 26px,#e11904 29px,#e42304 31px,#f36102 36px,#fc9400 39px,#fee800 43px,#f4e500 44px,#dcda03 45px,#bcc908 46px,#87b20d 48px,#72a910 49px,#479714 52px,#2c8b16 55px,#188416 59px,#0b7c17 67px,#0b7c1b 81px,#0a7e28 89px,#0a8146 98px,#0b8563 103px,#0c868c 110px,#0c7bb6 120px,#0c79c2 122px,#0c78cb 123px,#107bdb 124px,#0c69cd 125px,#0c55bc 127px,#092f8e 133px,#072479 138px,#051e6c 149px,#051c67 165px,#051b66 216px)"></i>
<i style="background:linear-gradient(90deg,#d80905 0px,#dd0d05 27px,#e42204 31px,#f35e02 36px,#fc9000 39px,#ffe600 43px,#f6e600 44px,#e2dd02 45px,#c2cc07 46px,#8cb50d 48px,#74aa0f 49px,#499714 52px,#2c8c16 55px,#198416 59px,#0c7c17 67px,#0b7c1b 81px,#0a7d25 88px,#0a8037 94px,#0a8145 98px,#0a8463 103px,#0c868c 110px,#0c7bb7 120px,#0c79c3 122px,#0d78cd 123px,#107bdd 124px,#0c68cc 125px,#0c54bb 127px,#092e8c 133px,#07257a 137px,#051e6c 149px,#051c67 166px,#051b66 216px)"></i>
<i style="background:linear-gradient(90deg,#d80905 0px,#dd0c05 27px,#e32104 31px,#e93603 33px,#f25a02 36px,#fb8d00 39px,#ffe100 43px,#f8e600 44px,#e8e001 45px,#abc20a 47px,#77ac0f 49px,#4b9814 52px,#2e8c16 55px,#178316 60px,#0c7c17 67px,#0b7b1a 80px,#0b7d23 87px,#0a7f33 93px,#0a8145 98px,#0a8463 103px,#0c868c 110px,#0c7bb7 120px,#0c79c4 122px,#0f79db 124px,#0c66cb 125px,#0b53bb 127px,#092d8b 133px,#07257a 137px,#051e6c 149px,#051c67 166px,#051b66 216px)"></i>
<i style="background:linear-gradient(90deg,#d80905 0px,#dd0c05 27px,#e32004 31px,#e52704 32px,#f15802 36px,#fd9d00 40px,#ffdd00 43px,#fae700 44px,#eee300 45px,#b0c409 47px,#7bad0f 49px,#4d9914 52px,#2f8d16 55px,#178316 60px,#0c7c17 67px,#0b7b1a 80px,#0b7d21 86px,#0a7f2f 92px,#0a8145 98px,#0a8463 103px,#0c8788 109px,#0c7cb3 119px,#0c7abc 121px,#0f76d9 124px,#0c65ca 125px,#0b52ba 127px,#093291 132px,#082b86 134px,#072579 137px,#051e6c 148px,#051c67 164px,#051b66 216px)"></i>
<i style="background:linear-gradient(90deg,#d80905 0px,#dd0c05 27px,#e42504 32px,#f15502 36px,#fc9900 40px,#ffd900 43px,#fce700 44px,#f1e400 45px,#b4c609 47px,#80af0e 49px,#5ea112 51px,#449514 53px,#2a8b16 56px,#178416 60px,#0c7d17 67px,#0b7b19 79px,#0b7d21 86px,#0a7f2f 92px,#0a8145 98px,#0a8463 103px,#0c8788 109px,#0c7cb3 119px,#0c7abd 121px,#0e79d2 123px,#0e74d7 124px,#0c64c9 125px,#0b4ab1 128px,#0a3797 131px,#092c89 133px,#072579 137px,#051e6c 148px,#051c67 164px,#051b66 216px)"></i>
<i style="background:linear-gradient(90deg,#d80905 0px,#de0e05 28px,#e42304 32px,#f36102 37px,#fc9500 40px,#ffd500 43px,#fde800 44px,#f3e500 45px,#d9d803 46px,#b9c808 47px,#84b10e 49px,#70a810 50px,#469614 53px,#2b8b16 56px,#178416 60px,#0b7c17 68px,#0b7c1b 81px,#0b7d23 87px,#0a7f32 93px,#0a8145 98px,#0a8463 103px,#0c8789 109px,#0c7cb3 119px,#0c7abe 121px,#0c79c6 122px,#0e7ad4 123px,#0e71d5 124px,#0c62c7 125px,#0a42a6 129px,#092c89 133px,#072479 137px,#051e6c 148px,#051c67 165px,#051b65 216px)"></i>
<i style="background:linear-gradient(90deg,#d80905 0px,#dd0d05 28px,#e42204 32px,#f35e02 37px,#fc9100 40px,#ffe700 44px,#f5e500 45px,#dfdb02 46px,#bfcb07 47px,#89b30d 49px,#73aa10 50px,#479714 53px,#2b8b16 56px,#188416 60px,#0b7c17 68px,#0b7b1a 81px,#0b7d23 87px,#0a7f32 93px,#0a824a 99px,#0c8789 109px,#0c7cb4 119px,#0c7abf 121px,#0c78c7 122px,#0e7ad5 123px,#0d6fd2 124px,#0c61c6 125px,#0a41a4 129px,#092f8d 132px,#07257a 136px,#051e6c 147px,#051c67 163px,#051b65 216px)"></i>
<i style="background:linear-gradient(90deg,#d80905 0px,#dd0c05 28px,#e32104 32px,#e93603 34px,#f25a02 37px,#fb8d00 40px,#ffe300 44px,#f7e600 45px,#e5de02 46px,#a8c10a 48px,#75ab0f 50px,#499714 53px,#2c8c16 56px,#188416 60px,#0b7c17 68px,#0b7b1a 81px,#0a7d25 88px,#0a7f32 93px,#0a824a 99px,#0c8789 109px,#0c7cb4 119px,#0c78c8 122px,#0f7ad7 123px,#0d6cd0 124px,#0c56bd 126px,#092e8c 132px,#07257a 136px,#051e6c 147px,#051c67 163px,#051b65 216px)"></i>
<i style="background:linear-gradient(90deg,#d80905 0px,#dd0c05 28px,#e32004 32px,#e52704 33px,#f15802 37px,#fb8a00 40px,#ffdf00 44px,#f9e600 45px,#ebe101 46px,#acc309 48px,#78ac0f 50px,#4b9814 53px,#2d8c16 56px,#198416 60px,#0c7c17 68px,#0b7b1a 81px,#0a7d25 88px,#0a7f32 93px,#0a824a 99px,#0c8789 109px,#0b7daf 118px,#0c79c0 121px,#0c78c9 122px,#0f7ad9 123px,#0c6ace 124px,#0c55bc 126px,#092d8b 132px,#072579 136px,#051e6b 147px,#051c67 164px,#051b65 216px)"></i>
<i style="background:linear-gradient(90deg,#d80805 0px,#dd0c05 28px,#e31f04 32px,#e42504 33px,#f15602 37px,#fc9a00 41px,#ffdb00 44px,#fbe700 45px,#f0e400 46px,#b1c409 48px,#7cae0f 50px,#4d9914 53px,#2f8d16 56px,#178316 61px,#0c7c17 68px,#0b7c1b 82px,#0a7e2b 91px,#0a8144 98px,#0a8462 103px,#0c8789 109px,#0b7db0 118px,#0c79c1 121px,#0c78ca 122px,#107bdb 123px,#0c69cd 124px,#0c54bb 126px,#093291 131px,#082880 134px,#072477 137px,#051e6b 147px,#051c67 164px,#051b65 216px)"></i>
<i style="background:linear-gradient(90deg,#d80805 0px,#de0e05 29px,#e42304 33px,#f36202 38px,#fc9600 41px,#ffd700 44px,#fce700 45px,#f2e400 46px,#b5c608 48px,#80af0e 50px,#5ea112 52px,#449514 54px,#308d16 56px,#178316 61px,#0c7c17 68px,#0b7b1a 81px,#0a7d24 88px,#0a7f32 93px,#0a8249 99px,#0c8789 109px,#0b7db0 118px,#0c79c2 121px,#0c78cb 122px,#107bdd 123px,#0c67cb 124px,#0b53ba 126px,#09318f 131px,#07257b 135px,#051e6c 146px,#051c67 162px,#051b65 216px)"></i>
<i style="background:linear-gradient(90deg,#d80805 0px,#dd0d05 29px,#e42204 33px,#f35f02 38px,#fc9200 41px,#fee800 45px,#f4e500 46px,#dbd903 47px,#bac908 48px,#84b10e 50px,#70a810 51px,#459614 54px,#2a8b16 57px,#178416 61px,#0c7c17 68px,#0b7b1a 81px,#0a7d24 88px,#0a7f31 93px,#0a8249 99px,#0c8789 109px,#0b7db1 118px,#0c79c3 121px,#0f79db 123px,#0c66ca 124px,#0b52b9 126px,#092f8e 131px,#07257a 135px,#051e6b 146px,#051c67 162px,#051b65 216px)"></i>
<i style="background:linear-gradient(90deg,#d80805 0px,#dd0c05 29px,#e32104 33px,#e93603 35px,#f25b02 38px,#fc8f00 41px,#ffe600 45px,#f5e500 46px,#e0dc02 47px,#bfcb07 48px,#89b30d 50px,#72a910 51px,#479614 54px,#2b8b16 57px,#178416 61px,#0c7d17 68px,#0b7b19 80px,#0b7d22 87px,#0a7e2e 92px,#0a8249 99px,#0c8789 109px,#0c7cb1 118px,#0c7abb 120px,#0f76d9 123px,#0c64c9 124px,#0b49b0 127px,#092e8d 131px,#07257a 135px,#051e6c 145px,#051c67 159px,#051b65 216px)"></i>
<i style="background:linear-gradient(90deg,#d80805 0px,#dd0c05 29px,#e32004 33px,#e52804 34px,#f25902 38px,#fb8c00 41px,#ffe200 45px,#f7e600 46px,#e6df02 47px,#a8c10a 49px,#75ab0f 51px,#489714 54px,#2c8c16 57px,#188416 61px,#0b7c17 69px,#0b7c1b 82px,#0a7d26 89px,#0a7f35 94px,#0a8249 99px,#0c8789 109px,#0c7cb1 118px,#0c7abc 120px,#0d79d1 122px,#0e73d6 123px,#0c63c8 124px,#0b48ae 127px,#092d8b 131px,#072579 135px,#051e6c 145px,#051c67 160px,#051b65 216px)"></i>
</div>
<div class="p" style="left:180px;top:305px;width:212px;height:188px">
<i style="background:linear-gradient(90deg,#0a8142 0px,#0a7d24 58px,#0b7b1a 89px,#0b7c17 136px,#188416 163px,#328e16 183px,#519b13 196px,#7cae0f 208px,#95b80c 212px)"></i>
<i style="background:linear-gradient(90deg,#0a8142 0px,#0a7d24 59px,#0b7b1a 90px,#0b7c17 137px,#198416 165px,#338e16 184px,#519b13 197px,#78ac0f 208px,#90b60c 212px)"></i>
<i style="background:linear-gradient(90deg,#0a8143 0px,#0a7d24 59px,#0b7b1a 90px,#0b7c17 138px,#198516 166px,#318e16 184px,#4f9a14 197px,#78ac0f 209px,#8bb40d 212px)"></i>
<i style="background:linear-gradient(90deg,#0a8144 0px,#0a7d24 59px,#0b7b1a 91px,#0b7c17 139px,#1a8516 167px,#318e16 185px,#4f9a14 198px,#7aad0f 210px,#86b20d 212px)"></i>
<i style="background:linear-gradient(90deg,#0a8145 0px,#0a7d25 59px,#0b7b1a 91px,#0c7c17 140px,#1a8516 168px,#328e16 186px,#509a13 199px,#7bad0f 211px,#81b00e 212px)"></i>
<i style="background:linear-gradient(90deg,#0a8146 0px,#0a7d25 59px,#0b7b1a 92px,#0c7c17 141px,#1a8516 169px,#328e16 187px,#519a13 200px,#7cae0f 212px)"></i>
<i style="background:linear-gradient(90deg,#0a8147 0px,#0a7d25 60px,#0b7b1a 92px,#0b7c17 141px,#188416 168px,#328e16 188px,#519b13 201px,#77ac0f 212px)"></i>
<i style="background:linear-gradient(90deg,#0a8248 0px,#0a7d26 60px,#0b7b1a 93px,#0b7c17 142px,#188416 169px,#308d16 188px,#4e9a14 201px,#75aa0f 212px)"></i>
<i style="background:linear-gradient(90deg,#0a8249 0px,#0a7d26 61px,#0b7b1a 94px,#0b7c17 143px,#188416 170px,#318e16 189px,#4f9a14 202px,#72a910 212px)"></i>
<i style="background:linear-gradient(90deg,#0a824a 0px,#0a7d26 62px,#0b7b1a 95px,#0b7c17 144px,#188416 171px,#318e16 190px,#509a13 203px,#6fa810 212px)"></i>
<i style="background:linear-gradient(90deg,#0a824b 0px,#0a7d26 63px,#0b7b1a 96px,#0b7c17 145px,#188416 172px,#318e16 191px,#509a13 204px,#6ca710 212px)"></i>
<i style="background:linear-gradient(90deg,#0a824c 0px,#0a7d26 64px,#0b7b1a 97px,#0b7c17 145px,#168316 169px,#2d8c16 190px,#519b13 205px,#69a511 212px)"></i>
<i style="background:linear-gradient(90deg,#0a824d 0px,#0a7d27 63px,#0b7c1b 97px,#0b7c17 146px,#168316 171px,#308d16 192px,#519b13 206px,#66a411 212px)"></i>
<i style="background:linear-gradient(90deg,#0a824e 0px,#0a7e28 61px,#0b7c1b 97px,#0b7c17 147px,#178316 173px,#308d16 193px,#4e9914 206px,#63a311 212px)"></i>
<i style="background:linear-gradient(90deg,#0a824f 0px,#0a7e28 62px,#0b7c1b 98px,#0b7c17 148px,#188416 175px,#318d16 194px,#4f9a14 207px,#60a112 212px)"></i>
<i style="background:linear-gradient(90deg,#0a8250 0px,#0a7e29 61px,#0b7c1b 99px,#0b7c17 149px,#188416 176px,#318e16 195px,#4f9a14 208px,#5da012 212px)"></i>
<i style="background:linear-gradient(90deg,#0a8351 0px,#0a7e29 62px,#0b7c1b 100px,#0b7c17 150px,#188416 177px,#318e16 196px,#509a13 209px,#5a9f12 212px)"></i>
<i style="background:linear-gradient(90deg,#0a8352 0px,#0a7e29 63px,#0b7c1b 101px,#0b7c17 151px,#188416 178px,#318e16 197px,#509a13 210px,#579d13 212px)"></i>
<i style="background:linear-gradient(90deg,#0a8353 0px,#0a7e29 63px,#0b7c1b 102px,#0b7c17 152px,#188416 179px,#328e16 198px,#519a13 211px,#549c13 212px)"></i>
<i style="background:linear-gradient(90deg,#0a8354 0px,#0a7e29 65px,#0b7c1b 103px,#0b7c17 153px,#188416 180px,#328e16 199px,#519b13 212px)"></i>
<i style="background:linear-gradient(90deg,#0a8355 0px,#0a7e2a 65px,#0b7c1b 104px,#0b7c17 154px,#188416 181px,#328e16 200px,#4e9914 212px)"></i>
<i style="background:linear-gradient(90deg,#0a8357 0px,#0a7f35 49px,#0a7d25 78px,#0b7b1a 108px,#0b7c17 155px,#188416 182px,#328e16 201px,#4b9814 212px)"></i>
<i style="background:linear-gradient(90deg,#0a8358 0px,#0a8038 46px,#0a7d25 78px,#0b7c1b 108px,#0b7c17 156px,#198416 183px,#338e16 202px,#499714 212px)"></i>
<i style="background:linear-gradient(90deg,#0a8359 0px,#0a8039 45px,#0a7d25 79px,#0b7b1a 110px,#0b7c17 157px,#198416 184px,#318d16 202px,#479614 212px)"></i>
<i style="background:linear-gradient(90deg,#0a845b 0px,#0a803a 46px,#0a7d25 80px,#0b7b1a 111px,#0b7c17 158px,#198416 185px,#318d16 203px,#459614 212px)"></i>
<i style="background:linear-gradient(90deg,#0a845c 0px,#0a803b 45px,#0a7d25 81px,#0b7b1a 112px,#0b7c17 159px,#198416 186px,#318e16 204px,#439515 212px)"></i>
<i style="background:linear-gradient(90deg,#0a845e 0px,#0a803b 47px,#0a7d25 82px,#0b7c1b 112px,#0b7c17 160px,#198416 187px,#318e16 205px,#419415 212px)"></i>
<i style="background:linear-gradient(90deg,#0a845f 0px,#0a803b 47px,#0a7d25 83px,#0b7c1b 113px,#0b7c17 161px,#198416 188px,#318e16 206px,#3f9315 212px)"></i>
<i style="background:linear-gradient(90deg,#0a8461 0px,#0a803c 48px,#0a7d25 85px,#0b7c1b 114px,#0b7c17 162px,#198416 189px,#318e16 207px,#3d9215 212px)"></i>
<i style="background:linear-gradient(90deg,#0a8462 0px,#0a803c 49px,#0a7d26 85px,#0b7c1b 115px,#0b7c17 163px,#198416 190px,#328e16 208px,#3a9115 212px)"></i>
<i style="background:linear-gradient(90deg,#0b8564 0px,#0a803c 51px,#0a7d26 86px,#0b7c1b 116px,#0b7c17 164px,#198416 191px,#328e16 209px,#389115 212px)"></i>
<i style="background:linear-gradient(90deg,#0b8565 0px,#0a803c 52px,#0a7d25 88px,#0b7b1a 118px,#0b7c17 165px,#188416 191px,#328e16 210px,#369015 212px)"></i>
<i style="background:linear-gradient(90deg,#0b8567 0px,#0a803c 53px,#0a7d25 89px,#0b7b1a 119px,#0b7c17 166px,#188416 192px,#328e16 211px,#348f16 212px)"></i>
<i style="background:linear-gradient(90deg,#0b8568 0px,#0a803c 55px,#0a7d26 90px,#0b7c1b 120px,#0b7c17 167px,#188416 193px,#328e16 212px)"></i>
<i style="background:linear-gradient(90deg,#0b856a 0px,#0a803c 56px,#0a7d26 91px,#0b7c1b 121px,#0b7c17 168px,#188416 194px,#308d16 212px)"></i>
<i style="background:linear-gradient(90deg,#0b856c 0px,#0a803c 57px,#0a7d25 93px,#0b7c1b 122px,#0b7c17 169px,#188416 195px,#2e8c16 212px)"></i>
<i style="background:linear-gradient(90deg,#0b866d 0px,#0a803c 58px,#0a7d25 94px,#0b7c1b 123px,#0b7c17 170px,#188416 196px,#2c8c16 212px)"></i>
<i style="background:linear-gradient(90deg,#0b866f 0px,#0a803c 60px,#0a7d26 95px,#0b7c1b 124px,#0b7c17 171px,#188416 197px,#2b8b16 212px)"></i>
<i style="background:linear-gradient(90deg,#0b8670 0px,#0a803c 61px,#0a7d26 96px,#0b7b1a 126px,#0b7c17 172px,#188416 198px,#2a8b16 212px)"></i>
<i style="background:linear-gradient(90deg,#0b8672 0px,#0a8144 52px,#0a7d26 97px,#0b7c1b 126px,#0b7c17 173px,#188416 199px,#298a16 212px)"></i>
<i style="background:linear-gradient(90deg,#0b8673 0px,#0a824d 44px,#0a8038 70px,#0a7d25 99px,#0b7c1b 127px,#0b7c17 174px,#188416 200px,#288a16 212px)"></i>
<i style="background:linear-gradient(90deg,#0b8675 0px,#0a8359 33px,#0a803c 66px,#0a7d26 99px,#0b7c1b 128px,#0b7c17 175px,#188416 201px,#278a16 212px)"></i>
<i style="background:linear-gradient(90deg,#0b8676 0px,#0a845c 32px,#0a803d 66px,#0a7d26 101px,#0b7c1b 130px,#0b7c17 176px,#188416 202px,#268916 212px)"></i>
<i style="background:linear-gradient(90deg,#0b8678 0px,#0a845f 31px,#0a803d 67px,#0a7d26 102px,#0b7c1b 131px,#0b7c17 177px,#188416 203px,#248916 212px)"></i>
<i style="background:linear-gradient(90deg,#0b8679 0px,#0a8461 30px,#0a803e 68px,#0a7d26 103px,#0b7c1b 132px,#0b7c17 178px,#188416 204px,#238816 212px)"></i>
<i style="background:linear-gradient(90deg,#0b867b 0px,#0b8563 30px,#0a803e 69px,#0a7d26 105px,#0b7c1b 133px,#0b7c17 179px,#188416 205px,#228816 212px)"></i>
<i style="background:linear-gradient(90deg,#0c877c 0px,#0b8564 31px,#0a803e 71px,#0a7d26 106px,#0b7c1b 134px,#0b7c17 180px,#188416 206px,#218716 212px)"></i>
<i style="background:linear-gradient(90deg,#0c877e 0px,#0b8566 31px,#0a803e 72px,#0a7d26 107px,#0b7c1b 136px,#0c7c17 182px,#198416 208px,#208716 212px)"></i>
<i style="background:linear-gradient(90deg,#0c877f 0px,#0b8567 32px,#0a803e 74px,#0a7d26 108px,#0b7c1b 137px,#0b7c17 182px,#178316 206px,#1e8616 212px)"></i>
<i style="background:linear-gradient(90deg,#0c8781 0px,#0b8568 33px,#0a803e 75px,#0a7d26 110px,#0b7c1b 138px,#0b7c17 183px,#168316 206px,#1c8616 212px)"></i>
<i style="background:linear-gradient(90deg,#0c8782 0px,#0b8569 34px,#0a803e 77px,#0a7d26 111px,#0b7c1b 139px,#0b7c17 185px,#198416 211px,#1b8516 212px)"></i>
<i style="background:linear-gradient(90deg,#0c8784 0px,#0b856b 34px,#0a803e 78px,#0a7d26 112px,#0b7c1b 140px,#0b7c17 186px,#198416 212px)"></i>
<i style="background:linear-gradient(90deg,#0c8785 0px,#0b866c 35px,#0a813e 79px,#0a7d26 113px,#0b7c1b 141px,#0b7c17 187px,#188416 212px)"></i>
<i style="background:linear-gradient(90deg,#0c8787 0px,#0b866d 36px,#0a803e 81px,#0a7d26 115px,#0b7c1b 142px,#0b7c17 188px,#178316 212px)"></i>
<i style="background:linear-gradient(90deg,#0c8788 0px,#0b866f 36px,#0a813e 82px,#0a7d26 116px,#0b7c1b 144px,#0b7c17 189px,#168316 212px)"></i>
<i style="background:linear-gradient(90deg,#0c8789 0px,#0b8672 35px,#0a813e 84px,#0a7d26 117px,#0b7c1b 145px,#0b7c17 190px,#168316 212px)"></i>
<i style="background:linear-gradient(90deg,#0c868a 0px,#0b8676 32px,#0a803e 86px,#0a7d26 119px,#0b7c1b 146px,#0b7c17 191px,#158216 212px)"></i>
<i style="background:linear-gradient(90deg,#0c868c 0px,#0b867b 28px,#0a845e 57px,#0a813e 87px,#0a7d26 120px,#0b7c1b 147px,#0b7c17 192px,#148216 212px)"></i>
<i style="background:linear-gradient(90deg,#0c868d 0px,#0c877f 26px,#0a8463 55px,#0a813e 88px,#0a7d26 121px,#0b7c1b 149px,#0b7c17 194px,#148216 212px)"></i>
<i style="background:linear-gradient(90deg,#0c858e 0px,#0c8781 26px,#0b8564 56px,#0a813e 90px,#0a7d26 123px,#0b7c1b 150px,#0b7c17 195px,#138116 212px)"></i>
<i style="background:linear-gradient(90deg,#0c858f 0px,#0c8782 27px,#0b8565 57px,#0a813f 91px,#0a7d26 124px,#0b7c1b 151px,#0b7c17 196px,#138116 212px)"></i>
<i style="background:linear-gradient(90deg,#0c8590 0px,#0c8782 29px,#0b8565 59px,#0a813e 93px,#0a7d26 125px,#0b7c1b 152px,#0b7c17 197px,#128017 212px)"></i>
<i style="background:linear-gradient(90deg,#0c8591 0px,#0c8783 30px,#0b8564 61px,#0a813f 94px,#0a7d26 127px,#0b7c1b 154px,#0b7c17 198px,#118017 212px)"></i>
<i style="background:linear-gradient(90deg,#0c8492 0px,#0c8783 32px,#0b8565 62px,#0a813e 96px,#0a7d26 128px,#0b7c1b 155px,#0b7c17 199px,#118017 212px)"></i>
<i style="background:linear-gradient(90deg,#0c8494 0px,#0c8784 34px,#0b8565 64px,#0a813f 97px,#0a7d26 129px,#0b7c1b 156px,#0b7c17 200px,#107f17 212px)"></i>
<i style="background:linear-gradient(90deg,#0c8495 0px,#0c8784 36px,#0b8565 66px,#0a813e 99px,#0a7d26 130px,#0b7c1b 157px,#0b7c17 202px,#0f7f17 212px)"></i>
<i style="background:linear-gradient(90deg,#0c8396 0px,#0c8785 37px,#0b8565 68px,#0a813f 100px,#0a7d26 132px,#0b7c1b 159px,#0b7c17 203px,#0f7e17 212px)"></i>
<i style="background:linear-gradient(90deg,#0b8397 0px,#0c8785 39px,#0b8565 70px,#0a813e 102px,#0a7d26 133px,#0b7c1b 159px,#0b7c17 204px,#0e7e17 212px)"></i>
<i style="background:linear-gradient(90deg,#0b8398 0px,#0c8786 41px,#0b8565 72px,#0a813f 103px,#0a7d26 135px,#0b7c1b 161px,#0b7c17 205px,#0d7e17 212px)"></i>
<i style="background:linear-gradient(90deg,#0b8299 0px,#0c8787 42px,#0b8566 73px,#0a813f 104px,#0a7d26 136px,#0b7c1b 162px,#0b7c17 206px,#0c7d17 212px)"></i>
<i style="background:linear-gradient(90deg,#0b829b 0px,#0c8787 44px,#0b8565 75px,#0a813f 106px,#0a7d26 137px,#0b7c1b 163px,#0b7c17 207px,#0c7d17 212px)"></i>
<i style="background:linear-gradient(90deg,#0b829c 0px,#0c8788 45px,#0b8567 76px,#0a813f 107px,#0a7d26 139px,#0b7c1b 165px,#0b7c17 209px,#0c7d17 212px)"></i>
<i style="background:linear-gradient(90deg,#0b819d 0px,#0c878a 45px,#0b856a 75px,#0a8140 108px,#0a7d26 140px,#0b7c1b 166px,#0b7c17 209px,#0c7d17 212px)"></i>
<i style="background:linear-gradient(90deg,#0b819e 0px,#0c868b 45px,#0b866e 74px,#0a8140 109px,#0a7d26 142px,#0b7c1b 167px,#0b7c17 211px,#0c7c17 212px)"></i>
<i style="background:linear-gradient(90deg,#0b81a0 0px,#0c868c 45px,#0b8678 68px,#0a813f 112px,#0a7d26 143px,#0b7c1b 169px,#0b7c17 212px)"></i>
<i style="background:linear-gradient(90deg,#0b80a1 0px,#0c858e 45px,#0c877c 66px,#0a8358 93px,#0a803d 116px,#0a7d26 144px,#0b7c1b 170px,#0b7c17 212px)"></i>
<i style="background:linear-gradient(90deg,#0b80a2 0px,#0c858f 45px,#0c877e 66px,#0a845b 93px,#0a803e 117px,#0a7d26 146px,#0b7c1b 171px,#0b7c17 212px)"></i>
<i style="background:linear-gradient(90deg,#0b80a3 0px,#0c8591 45px,#0c8781 66px,#0a845e 93px,#0a813e 118px,#0a7d26 147px,#0b7c1b 173px,#0b7c17 212px)"></i>
<i style="background:linear-gradient(90deg,#0b7fa5 0px,#0c8492 45px,#0c8781 68px,#0a845f 94px,#0a813f 119px,#0a7d26 149px,#0b7c1b 174px,#0b7b18 212px)"></i>
<i style="background:linear-gradient(90deg,#0b7fa6 0px,#0c8494 45px,#0c8782 69px,#0a845f 96px,#0a813e 121px,#0a7d26 150px,#0b7c1b 175px,#0b7b18 212px)"></i>
<i style="background:linear-gradient(90deg,#0b7fa7 0px,#0c8494 47px,#0c8782 71px,#0a8460 97px,#0a813f 122px,#0a7d26 152px,#0b7c1b 177px,#0b7b18 212px)"></i>
<i style="background:linear-gradient(90deg,#0b7ea9 0px,#0c8494 49px,#0c8782 73px,#0a8460 99px,#0a813f 124px,#0a7d26 153px,#0b7c1b 178px,#0a7b18 212px)"></i>
<i style="background:linear-gradient(90deg,#0b7eab 0px,#0c8495 51px,#0c8782 75px,#0a845f 101px,#0a813e 126px,#0a7d27 154px,#0b7c1b 179px,#0a7a18 212px)"></i>
<i style="background:linear-gradient(90deg,#0b7eac 0px,#0c8495 53px,#0c8782 77px,#0a845f 103px,#0a813f 127px,#0a7d26 156px,#0b7c1b 181px,#0a7a18 212px)"></i>
<i style="background:linear-gradient(90deg,#0b7dae 0px,#0c8395 55px,#0c8782 79px,#0a845e 105px,#0a813e 129px,#0a7d26 157px,#0b7c1b 182px,#0a7a18 212px)"></i>
<i style="background:linear-gradient(90deg,#0b7db0 0px,#0c8396 57px,#0c8782 81px,#0a845e 107px,#0a813f 130px,#0a7d27 158px,#0b7c1b 183px,#0a7a18 212px)"></i>
<i style="background:linear-gradient(90deg,#0c7cb2 0px,#0b8398 56px,#0c8782 83px,#0a845e 109px,#0a813f 132px,#0a7d26 160px,#0b7c1b 184px,#0a7a18 212px)"></i>
<i style="background:linear-gradient(90deg,#0c7cb3 0px,#0b829b 53px,#0c8784 84px,#0a845f 110px,#0a813e 134px,#0a7d27 161px,#0b7c1b 186px,#0a7a18 212px)"></i>
<i style="background:linear-gradient(90deg,#0c7cb5 0px,#0b819f 49px,#0c8785 85px,#0a8460 111px,#0a813f 135px,#0a7d26 163px,#0b7c1b 188px,#0a7a18 212px)"></i>
<i style="background:linear-gradient(90deg,#0c7bb7 0px,#0b80a4 43px,#0c8787 85px,#0a8462 112px,#0a813f 136px,#0a7d27 164px,#0b7c1b 188px,#0a7a18 212px)"></i>
<i style="background:linear-gradient(90deg,#0c7bb9 0px,#0b7fa8 39px,#0c8788 86px,#0a8463 113px,#0a8140 137px,#0a7d26 166px,#0b7c1b 190px,#0a7a18 212px)"></i>
<i style="background:linear-gradient(90deg,#0c7aba 0px,#0b7eaa 39px,#0c8789 88px,#0a8463 115px,#0a8140 139px,#0a7d27 167px,#0b7c1b 191px,#0a7a18 212px)"></i>
<i style="background:linear-gradient(90deg,#0c7abc 0px,#0b7eab 40px,#0c8788 91px,#0a8461 118px,#0a813f 141px,#0a7d26 169px,#0b7c1b 193px,#0b7b18 212px)"></i>
<i style="background:linear-gradient(90deg,#0c7abf 0px,#0b7ea9 46px,#0c8788 93px,#0a8460 120px,#0a813f 143px,#0a7d27 170px,#0b7c1b 194px,#0b7b18 212px)"></i>
<i style="background:linear-gradient(90deg,#0c79c3 0px,#0b7fa8 51px,#0c8787 96px,#0a8460 122px,#0a813e 145px,#0a7d26 172px,#0b7c1b 195px,#0b7b18 212px)"></i>
<i style="background:linear-gradient(90deg,#0c79c6 0px,#0b7fa7 55px,#0c8787 98px,#0a845f 124px,#0a813f 146px,#0a7d27 173px,#0b7c1b 197px,#0b7b18 212px)"></i>
<i style="background:linear-gradient(90deg,#0c78c9 0px,#0b7fa6 59px,#0c8787 100px,#0a845f 126px,#0a813f 148px,#0a7d26 175px,#0b7c1b 198px,#0b7b18 212px)"></i>
<i style="background:linear-gradient(90deg,#0d79ce 0px,#0b829b 78px,#0c8783 105px,#0a845d 129px,#0a813e 150px,#0a7d27 176px,#0b7c1b 200px,#0b7b18 212px)"></i>
<i style="background:linear-gradient(90deg,#0e7ad5 0px,#0c7bb9 37px,#0c878a 101px,#0b8564 127px,#0a8140 150px,#0a7d26 178px,#0b7c1b 201px,#0b7b18 212px)"></i>
<i style="background:linear-gradient(90deg,#107bdc 0px,#0c79c0 31px,#0c8789 104px,#0a8461 130px,#0a8140 152px,#0a7d27 179px,#0b7c1b 202px,#0b7b18 212px)"></i>
<i style="background:linear-gradient(90deg,#0f76d9 0px,#107bdc 8px,#0c79c5 30px,#0c8788 107px,#0a845f 133px,#0a813f 154px,#0a7d26 181px,#0b7c1b 204px,#0b7b19 212px)"></i>
<i style="background:linear-gradient(90deg,#0d70d3 0px,#107bdc 15px,#0c79c6 33px,#0c8787 110px,#0a845f 135px,#0a813f 156px,#0a7d27 182px,#0b7c1b 205px,#0b7b19 212px)"></i>
<i style="background:linear-gradient(90deg,#0c6ace 0px,#107bdd 20px,#0c78c7 36px,#0b81a0 83px,#0c8784 114px,#0a845c 138px,#0a813e 158px,#0a7d26 184px,#0b7c1b 207px,#0b7b19 212px)"></i>
<i style="background:linear-gradient(90deg,#0c66cb 0px,#0d6fd2 15px,#107bdd 25px,#0c79c6 40px,#0b7db0 66px,#0c8785 115px,#0a845e 139px,#0a813f 159px,#0a7d27 185px,#0b7c1b 208px,#0b7b1a 212px)"></i>
<i style="background:linear-gradient(90deg,#0c63c8 0px,#0d6ed1 20px,#107bdc 30px,#0c78c7 43px,#0c7cb4 64px,#0c8785 117px,#0a845d 141px,#0a813f 161px,#0a7e27 186px,#0b7c1b 209px,#0b7b1a 212px)"></i>
<i style="background:linear-gradient(90deg,#0c5fc5 0px,#0c6cd0 24px,#107bdd 34px,#0c78c7 47px,#0c7cb4 67px,#0c8785 119px,#0a845d 143px,#0a813e 163px,#0a7d27 188px,#0b7c1b 211px,#0b7c1b 212px)"></i>
<i style="background:linear-gradient(90deg,#0c5cc2 0px,#0c6ace 28px,#107bdc 39px,#0c78c7 50px,#0c7cb4 69px,#0c8785 121px,#0a845d 145px,#0a813f 164px,#0a7e27 189px,#0b7c1b 212px)"></i>
<i style="background:linear-gradient(90deg,#0c59c0 0px,#0c63c8 24px,#0d6ed2 35px,#107adc 42px,#0c78c7 54px,#0c7cb4 72px,#0c8785 123px,#0a845c 147px,#0a813f 166px,#0a7d27 191px,#0b7c1b 212px)"></i>
<i style="background:linear-gradient(90deg,#0c57bd 0px,#0c61c6 26px,#0d6ed1 39px,#107bdd 46px,#0c78c7 57px,#0c7cb5 74px,#0c8785 125px,#0a845c 149px,#0a813e 168px,#0a7e27 192px,#0b7c1c 212px)"></i>
<i style="background:linear-gradient(90deg,#0c54bb 0px,#0c5fc5 29px,#0d6dd1 43px,#107bdd 50px,#0c78c7 60px,#0c7bb6 76px,#0c8785 127px,#0a845b 151px,#0a813f 169px,#0a7d27 194px,#0b7c1c 212px)"></i>
<i style="background:linear-gradient(90deg,#0b52b9 0px,#0c5ec3 32px,#0d6ed1 47px,#107adc 53px,#0c78c7 63px,#0c7bb6 78px,#0c8785 129px,#0a845b 153px,#0a813f 171px,#0a7e27 195px,#0b7c1d 212px)"></i>
<i style="background:linear-gradient(90deg,#0b4fb7 0px,#0c5cc2 35px,#0d6ed2 51px,#107bdc 57px,#0c78c8 66px,#0c7bb7 80px,#0c8785 131px,#0a835a 155px,#0a813e 173px,#0a7d27 197px,#0b7c1d 212px)"></i>
<i style="background:linear-gradient(90deg,#0b4db5 0px,#0c59c0 35px,#0c6bcf 53px,#107bdd 60px,#0c78c8 69px,#0c7bb6 83px,#0c8783 134px,#0a8357 158px,#0a803e 175px,#0a7e27 198px,#0b7c1e 212px)"></i>
<i style="background:linear-gradient(90deg,#0b4bb2 0px,#0c56bd 34px,#0c65ca 52px,#0e70d4 59px,#107adc 63px,#0c79c6 73px,#0c7cb5 87px,#0c8783 136px,#0a8142 173px,#0a7d27 200px,#0b7c1f 212px)"></i>
<i style="background:linear-gradient(90deg,#0b48af 0px,#0b53ba 33px,#0c62c7 53px,#0d70d3 62px,#107bdc 67px,#0c78c7 75px,#0c7bb6 89px,#0c8783 138px,#0a8358 161px,#0a813e 178px,#0a7e27 201px,#0b7c20 212px)"></i>
<i style="background:linear-gradient(90deg,#0b46ac 0px,#0b50b8 34px,#0c61c6 56px,#0d6fd2 65px,#107bdc 70px,#0c78c7 78px,#0c7bb6 91px,#0c8783 140px,#0a8358 163px,#0a803e 180px,#0a7d27 203px,#0b7d21 212px)"></i>
<i style="background:linear-gradient(90deg,#0a44a8 0px,#0b4db5 33px,#0c60c6 59px,#0d6ed2 68px,#107bdc 73px,#0c78c9 80px,#0c7bb7 93px,#0c8783 142px,#0a8142 178px,#0a7e27 204px,#0b7d22 212px)"></i>
<i style="background:linear-gradient(90deg,#0a42a5 0px,#0b4ab1 31px,#0c5dc3 60px,#0d6ed2 71px,#107bdc 76px,#0c78c8 83px,#0c7bb6 96px,#0c8782 144px,#0a8141 180px,#0a7d27 206px,#0b7d23 212px)"></i>
<i style="background:linear-gradient(90deg,#0a3fa2 0px,#0b47ad 31px,#0c5cc2 62px,#0d6ed1 74px,#107bdc 79px,#0c78c8 86px,#0c7bb7 98px,#0c8784 145px,#0a8358 168px,#0a813f 184px,#0a7e27 207px,#0a7d24 212px)"></i>
<i style="background:linear-gradient(90deg,#0a3d9f 0px,#0a44a9 30px,#0c57bd 60px,#0c69cd 75px,#107bdc 82px,#0c78c7 89px,#0c7bb6 101px,#0c8784 147px,#0a8358 170px,#0a813e 186px,#0a7d27 209px,#0a7d25 212px)"></i>
<i style="background:linear-gradient(90deg,#0a3b9d 0px,#0a41a5 29px,#0b54bb 60px,#0c64c9 75px,#0e71d4 81px,#107adc 84px,#0e79d1 88px,#0c79c5 93px,#0c7bb6 104px,#0c8784 149px,#0a8141 185px,#0a7e27 210px,#0a7d26 212px)"></i>
<i style="background:linear-gradient(90deg,#0a399a 0px,#0a40a3 32px,#0c54bb 64px,#0c66ca 79px,#0e74d7 85px,#107adc 87px,#0c78c8 94px,#0c7bb6 106px,#0c8783 151px,#0a8142 186px,#0a7e27 212px)"></i>
<i style="background:linear-gradient(90deg,#0a3797 0px,#0a3ea1 34px,#0b53ba 66px,#0c64c9 81px,#0e71d5 87px,#107bdd 90px,#0c78c7 97px,#0c7bb7 108px,#0c8783 153px,#0a8141 188px,#0a7e28 212px)"></i>
<i style="background:linear-gradient(90deg,#093595 0px,#0a3c9e 35px,#0b51b9 68px,#0c63c8 83px,#0d6fd2 89px,#107bdc 93px,#0c78c8 99px,#0c7bb7 110px,#0c8783 155px,#0a8142 189px,#0a7e29 212px)"></i>
<i style="background:linear-gradient(90deg,#093392 0px,#0a3a9b 35px,#0b48ae 60px,#0c5fc5 84px,#0d70d3 92px,#1079dc 95px,#0f7ad8 97px,#0c78c8 102px,#0c7bb8 112px,#0c8783 157px,#0a8142 191px,#0a7e2a 212px)"></i>
<i style="background:linear-gradient(90deg,#093190 0px,#0a3898 35px,#0a44a9 59px,#0c5cc2 85px,#0d6dd1 94px,#107bdd 98px,#0c78c7 105px,#0c7bb6 116px,#0c8783 159px,#0a8141 193px,#0a7e2c 212px)"></i>
<i style="background:linear-gradient(90deg,#092f8d 0px,#093595 35px,#0a43a7 61px,#0c5cc2 88px,#0d6ed2 97px,#107bdc 101px,#0c78c8 107px,#0c7bb7 117px,#0c8782 161px,#0a8142 194px,#0a7e2d 212px)"></i>
<i style="background:linear-gradient(90deg,#092d8b 0px,#093392 34px,#0a42a5 63px,#0c5bc1 90px,#0c6ccf 99px,#107adc 103px,#0e79d3 106px,#0c78c7 110px,#0c7bb6 120px,#0c8782 163px,#0a8142 196px,#0a7f2f 212px)"></i>
<i style="background:linear-gradient(90deg,#092c89 0px,#09308f 33px,#0a40a2 64px,#0c59bf 91px,#0d6dd0 102px,#107bdd 106px,#0c78c8 112px,#0c7bb7 122px,#0c8782 165px,#0a8142 198px,#0a7f31 212px)"></i>
<i style="background:linear-gradient(90deg,#092b87 0px,#092f8e 37px,#0a40a3 68px,#0c5ac1 95px,#0d6ed2 105px,#1079db 108px,#107bdb 109px,#0c78c9 114px,#0c7bb7 124px,#0c8782 167px,#0a8142 199px,#0a7f33 212px)"></i>
<i style="background:linear-gradient(90deg,#082a85 0px,#092e8c 40px,#0a40a3 72px,#0c5cc2 99px,#0c6cd0 107px,#107bdd 111px,#0c78c8 117px,#0c7bb6 127px,#0c8782 169px,#0a8142 201px,#0a7f35 212px)"></i>
<i style="background:linear-gradient(90deg,#082a84 0px,#092d8b 43px,#0a40a2 75px,#0c5bc1 101px,#0d6dd1 110px,#107bdc 114px,#0c78c8 119px,#0c7bb8 128px,#0c8783 170px,#0a8142 203px,#0a8037 212px)"></i>
<i style="background:linear-gradient(90deg,#082982 0px,#092c89 44px,#0a3c9e 74px,#0c57be 101px,#0c6bcf 112px,#107add 116px,#0c78c7 122px,#0c7bb7 131px,#0c8783 172px,#0a8142 204px,#0a8039 212px)"></i>
<i style="background:linear-gradient(90deg,#082880 0px,#092b87 44px,#093392 64px,#0a43a8 86px,#0c5fc5 109px,#0d6dd1 115px,#0f79db 118px,#107bdb 119px,#0c78c8 124px,#0c7bb7 133px,#0c8783 174px,#0a8142 206px,#0a803b 212px)"></i>
<i style="background:linear-gradient(90deg,#08277e 0px,#082a85 44px,#093190 66px,#0a43a8 89px,#0c5ec4 111px,#0d6fd2 118px,#107bdd 121px,#0c78c7 127px,#0c7bb7 136px,#0c8783 176px,#0a8143 207px,#0a803d 212px)"></i>
<i style="background:linear-gradient(90deg,#07267d 0px,#082983 44px,#093190 69px,#0a43a7 92px,#0c5fc4 114px,#0d6dd0 120px,#0f79db 123px,#107bdb 124px,#0c78c7 129px,#0c7bb8 137px,#0c8782 178px,#0a8143 209px,#0a813f 212px)"></i>
<i style="background:linear-gradient(90deg,#07257b 0px,#082881 44px,#09308f 72px,#0a43a7 95px,#0c60c5 117px,#0d6fd2 123px,#107bdd 126px,#0c78c8 131px,#0c7bb7 140px,#0c8782 180px,#0a8142 211px,#0a8141 212px)"></i>
<i style="background:linear-gradient(90deg,#07257a 0px,#08277e 41px,#09308e 75px,#0a43a7 98px,#0c5fc4 119px,#0d6dd1 125px,#1079dc 128px,#0e7ad6 130px,#0c78c7 134px,#0c7bb6 143px,#0c8782 182px,#0a8143 212px)"></i>
<i style="background:linear-gradient(90deg,#072579 0px,#07267d 43px,#09308e 79px,#0a43a7 101px,#0c60c5 122px,#0d6fd3 128px,#107bdc 131px,#0c78c8 136px,#0c7bb8 144px,#0c8781 184px,#0a8147 212px)"></i>
<i style="background:linear-gradient(90deg,#072478 0px,#07267d 48px,#092f8e 82px,#0a43a8 104px,#0c5ec4 124px,#0d6ed1 130px,#107adc 133px,#0c78c8 138px,#0c7bb8 146px,#0c8781 186px,#0a824a 212px)"></i>
<i style="background:linear-gradient(90deg,#072478 0px,#07267c 53px,#09308e 86px,#0a43a8 107px,#0c60c5 127px,#0d70d3 133px,#0f79db 135px,#107bdb 136px,#0c78c9 140px,#0c7bb7 149px,#0c8783 187px,#0a824d 212px)"></i>
<i style="background:linear-gradient(90deg,#072477 0px,#07267c 57px,#09308f 90px,#0a44a8 110px,#0c61c6 130px,#0d6ed2 135px,#107bdc 138px,#0c78c7 143px,#0c7bb7 151px,#0c8783 189px,#0a8250 212px)"></i>
<i style="background:linear-gradient(90deg,#062377 0px,#07267b 61px,#09308f 93px,#0a44a8 113px,#0c60c5 132px,#0d6dd0 137px,#107adc 140px,#0c78c8 145px,#0c7bb7 153px,#0c8782 191px,#0a8354 212px)"></i>
<i style="background:linear-gradient(90deg,#062376 0px,#07257b 65px,#09308e 96px,#0a44a9 116px,#0c61c6 135px,#0d70d3 140px,#0f79db 142px,#107bdb 143px,#0c78c9 147px,#0c7bb8 155px,#0c8782 193px,#0a8357 212px)"></i>
<i style="background:linear-gradient(90deg,#062375 0px,#07257b 69px,#09308e 99px,#0a44a9 119px,#0c60c5 137px,#0d6ed2 142px,#107bdc 145px,#0c78c7 150px,#0c7bb7 158px,#0c8782 195px,#0a845c 212px)"></i>
<i style="background:linear-gradient(90deg,#062275 0px,#07257a 72px,#092f8e 102px,#0a45aa 122px,#0c61c7 140px,#0e71d4 145px,#107adc 147px,#0c78c7 152px,#0c7bb7 160px,#0c8781 197px,#0a8460 212px)"></i>
<i style="background:linear-gradient(90deg,#062274 0px,#07257a 74px,#092f8e 105px,#0a44a9 124px,#0c61c6 142px,#0d70d3 147px,#1079db 149px,#0f7bda 150px,#0c78c8 154px,#0c7bb7 162px,#0c8781 199px,#0b8564 212px)"></i>
<i style="background:linear-gradient(90deg,#062273 0px,#072479 74px,#082a85 97px,#093190 110px,#0b46ab 128px,#0c60c5 144px,#0d6ed2 149px,#107bdc 152px,#0c78c9 156px,#0c7bb7 164px,#0c8783 200px,#0b8569 212px)"></i>
<i style="background:linear-gradient(90deg,#062173 0px,#072478 74px,#08277f 92px,#09308f 112px,#0a45aa 130px,#0c61c6 147px,#0d6dd0 151px,#107bdd 154px,#0c78c9 158px,#0c7bb9 165px,#0c8783 202px,#0b866d 212px)"></i>
<i style="background:linear-gradient(90deg,#062172 0px,#072477 74px,#07277e 94px,#09308f 115px,#0b46ab 133px,#0c60c6 149px,#0d70d3 154px,#107adc 156px,#0c78c7 161px,#0c7bb8 168px,#0c8782 204px,#0b8671 212px)"></i>
<i style="background:linear-gradient(90deg,#062171 0px,#062376 74px,#07277e 97px,#09308f 118px,#0a45aa 135px,#0c5fc5 151px,#0d6fd2 156px,#0f79db 158px,#0f7bda 159px,#0c78c8 163px,#0c7bb8 170px,#0c8782 206px,#0b8675 212px)"></i>
<i style="background:linear-gradient(90deg,#052071 0px,#062376 74px,#07277d 100px,#09318f 121px,#0b45ab 138px,#0c61c7 154px,#0d6dd1 158px,#107bdc 161px,#0c78c8 165px,#0c7bb8 172px,#0c8782 208px,#0b8679 212px)"></i>
<i style="background:linear-gradient(90deg,#052070 0px,#062275 74px,#07267d 103px,#09308e 123px,#0a45aa 140px,#0c60c6 156px,#0e71d4 161px,#107bdd 163px,#0c78c9 167px,#0c7bb7 175px,#0c8781 210px,#0c877d 212px)"></i>
<i style="background:linear-gradient(90deg,#05206f 0px,#062274 74px,#07267d 106px,#09308f 126px,#0b45ab 143px,#0c60c5 158px,#0d70d3 163px,#107adc 165px,#0c79c6 170px,#0c7bb7 177px,#0c8781 212px)"></i>
<i style="background:linear-gradient(90deg,#051f6f 0px,#062273 74px,#07267d 109px,#09308f 129px,#0a45aa 145px,#0c62c7 161px,#0d6fd2 165px,#1079db 167px,#0e7ad4 169px,#0c78c7 172px,#0c7bb7 179px,#0c8785 212px)"></i>
<i style="background:linear-gradient(90deg,#051f6e 0px,#062172 74px,#07267d 112px,#09318f 132px,#0b45ab 148px,#0c61c6 163px,#0d6ed1 167px,#0f78da 169px,#107bdb 170px,#0c78ca 173px,#0c7bb9 180px,#0c8591 206px,#0c8789 212px)"></i>
<i style="background:linear-gradient(90deg,#051f6e 0px,#062171 73px,#07267c 115px,#09308e 134px,#0a45aa 150px,#0c60c5 165px,#0d6cd0 169px,#107bdc 172px,#0c78c8 176px,#0c7bb9 182px,#0c8591 208px,#0c868b 212px)"></i>
<i style="background:linear-gradient(90deg,#051f6d 0px,#062171 76px,#07267c 118px,#09308f 137px,#0b46ab 153px,#0c62c7 168px,#0e71d4 172px,#107bdd 174px,#0c78c8 178px,#0c7bb7 185px,#0c858e 212px)"></i>
<i style="background:linear-gradient(90deg,#051f6d 0px,#052071 79px,#07267c 121px,#09308f 140px,#0b47ac 156px,#0c61c7 170px,#0d6fd3 174px,#107adc 176px,#0c79c6 181px,#0c7bb6 188px,#0c8591 212px)"></i>
<i style="background:linear-gradient(90deg,#051e6d 0px,#052071 82px,#07267c 124px,#09308e 142px,#0b46ab 158px,#0c61c6 172px,#0d6ed2 176px,#1079db 178px,#0e79d3 180px,#0c79c6 183px,#0c7bb6 190px,#0c8494 212px)"></i>
<i style="background:linear-gradient(90deg,#051e6c 0px,#052070 85px,#07267c 127px,#09308f 145px,#0b45aa 160px,#0c60c6 174px,#0d6dd1 178px,#0f78db 180px,#0f7bda 181px,#0c78c9 184px,#0c7bb8 191px,#0c8396 212px)"></i>
<i style="background:linear-gradient(90deg,#051e6c 0px,#052070 88px,#07267c 130px,#092f8e 147px,#0b46ac 163px,#0c62c8 177px,#0e72d5 181px,#107bdb 183px,#0c78ca 186px,#0c7bb8 193px,#0b8299 212px)"></i>
<i style="background:linear-gradient(90deg,#051e6c 0px,#052070 91px,#07267d 133px,#09308f 150px,#0b46ab 165px,#0c62c7 179px,#0e71d4 183px,#107bdc 185px,#0c78ca 188px,#0c7bb8 195px,#0b829c 212px)"></i>
<i style="background:linear-gradient(90deg,#051e6b 0px,#052070 94px,#07267d 136px,#09318f 153px,#0b47ac 168px,#0c61c6 181px,#0d70d3 185px,#107bdd 187px,#0c78cb 190px,#0c7bb8 197px,#0b819f 212px)"></i>
<i style="background:linear-gradient(90deg,#051e6b 0px,#05206f 96px,#07267d 139px,#09308f 155px,#0b46ac 170px,#0c61c6 183px,#0d6fd3 187px,#107bdd 189px,#0c78c8 193px,#0c7bb8 199px,#0b80a2 212px)"></i>
<i style="background:linear-gradient(90deg,#051d6b 0px,#051f6f 99px,#07267c 141px,#09318f 158px,#0b46ab 172px,#0c60c5 185px,#0d6ed2 189px,#107adc 191px,#0c78c8 195px,#0c7bb8 201px,#0b7fa4 212px)"></i>
<i style="background:linear-gradient(90deg,#051d6a 0px,#051f6e 101px,#07267c 144px,#09308f 160px,#0b47ad 175px,#0c63c8 188px,#0d6ed1 191px,#1079db 193px,#0e79d3 195px,#0c79c5 198px,#0c7bb6 204px,#0b7fa8 212px)"></i>
<i style="background:linear-gradient(90deg,#051d6a 0px,#051f6e 104px,#07267d 147px,#09318f 163px,#0b46ac 177px,#0c62c7 190px,#0e72d5 194px,#0f78db 195px,#0f7ada 196px,#0c78c8 199px,#0c7bb8 205px,#0b7eab 212px)"></i>
<i style="background:linear-gradient(90deg,#051d6a 0px,#051f6e 106px,#07267c 149px,#09308f 165px,#0b46ab 179px,#0c62c7 192px,#0e72d5 196px,#0f78da 197px,#0f7bda 198px,#0c78c9 201px,#0c7bb8 207px,#0b7daf 212px)"></i>
<i style="background:linear-gradient(90deg,#051d69 0px,#051f6e 106px,#07267c 152px,#093190 168px,#0b47ad 182px,#0c61c6 194px,#0e71d4 198px,#107bdb 200px,#0c78c9 203px,#0c7bb8 209px,#0c7cb3 212px)"></i>
<i style="background:linear-gradient(90deg,#051c69 0px,#051f6d 106px,#07267c 154px,#09308f 170px,#0b47ac 184px,#0c61c6 196px,#0d70d4 200px,#107bdc 202px,#0c78c9 205px,#0c7bb9 211px,#0c7bb7 212px)"></i>
<i style="background:linear-gradient(90deg,#051c69 0px,#051e6d 106px,#07257b 156px,#092f8e 172px,#0b46ac 186px,#0c60c6 198px,#0d70d3 202px,#107bdc 204px,#0c78c9 207px,#0c7aba 212px)"></i>
<i style="background:linear-gradient(90deg,#051c68 0px,#051e6c 106px,#072478 153px,#082881 164px,#09308f 175px,#0b47ae 189px,#0c63c8 201px,#0d6fd2 204px,#107bdd 206px,#0c78ca 209px,#0c79c0 212px)"></i>
<i style="background:linear-gradient(90deg,#051c68 0px,#051e6c 106px,#062376 149px,#07277e 164px,#09308e 177px,#0b45aa 190px,#0c5fc5 202px,#0d6ed2 206px,#107bdd 208px,#0c78ca 211px,#0c78c7 212px)"></i>
<i style="background:linear-gradient(90deg,#051c68 0px,#051e6b 105px,#062274 147px,#07277d 166px,#093190 180px,#0b47ac 193px,#0c62c7 205px,#0d6ed1 208px,#107adc 210px,#0d79d1 212px)"></i>
<i style="background:linear-gradient(90deg,#051c68 0px,#051d6b 107px,#062274 149px,#07267d 168px,#09308f 182px,#0b46ac 195px,#0c62c7 207px,#0d6dd1 210px,#107adc 212px)"></i>
<i style="background:linear-gradient(90deg,#051c68 0px,#051d6b 110px,#062274 151px,#07277d 171px,#09308e 184px,#0b46ab 197px,#0c61c7 209px,#0d6dd0 212px)"></i>
<i style="background:linear-gradient(90deg,#051c68 0px,#051d6b 113px,#062274 154px,#07267d 173px,#093190 187px,#0b47ad 200px,#0c61c6 211px,#0c64c9 212px)"></i>
<i style="background:linear-gradient(90deg,#051c68 0px,#051d6b 116px,#062274 157px,#07277d 176px,#09308f 189px,#0b47ad 202px,#0c5dc3 212px)"></i>
<i style="background:linear-gradient(90deg,#051c68 0px,#051d6b 119px,#062273 159px,#07267d 178px,#09308e 191px,#0b46ac 204px,#0c58be 212px)"></i>
<i style="background:linear-gradient(90deg,#051c68 0px,#051d6a 122px,#062274 162px,#07277d 181px,#093190 194px,#0b46ac 206px,#0b53ba 212px)"></i>
<i style="background:linear-gradient(90deg,#051c68 0px,#051d6a 125px,#062273 164px,#07267d 183px,#09308f 196px,#0b46ab 208px,#0b4eb6 212px)"></i>
<i style="background:linear-gradient(90deg,#051c67 0px,#051d6a 129px,#062273 167px,#07267c 185px,#09308e 198px,#0b45ab 210px,#0b49b0 212px)"></i>
<i style="background:linear-gradient(90deg,#051c67 0px,#051d6a 132px,#062274 170px,#07267d 188px,#093190 201px,#0b45aa 212px)"></i>
<i style="background:linear-gradient(90deg,#051c67 0px,#051d6a 135px,#062274 173px,#07267d 190px,#09308f 203px,#0a41a4 212px)"></i>
<i style="background:linear-gradient(90deg,#051c67 0px,#051d6a 138px,#062273 175px,#07277d 193px,#09308f 205px,#0a3c9e 212px)"></i>
<i style="background:linear-gradient(90deg,#051c67 0px,#051d6a 141px,#062274 178px,#07267d 195px,#09308e 207px,#0a3899 212px)"></i>
<i style="background:linear-gradient(90deg,#051c67 0px,#051d6a 145px,#062274 181px,#07277e 198px,#093190 210px,#093494 212px)"></i>
</div>
<div style="position:absolute;left:378px;top:305px;width:14px;height:36px;background:radial-gradient(ellipse 6px 32px at 100% 0,rgba(255,236,0,.95) 0,rgba(238,226,0,.75) 38%,rgba(160,190,10,.32) 72%,rgba(120,170,10,0) 100%)"></div>
<svg width="545" height="555" viewBox="0 0 545 555">
<clipPath id="cla"><rect x="49" y="20" width="214" height="193"/></clipPath>
<g clip-path="url(#cla)">
<path class="c" d="M103.1 20.4 L103.7 24.0 L104.2 26.4 L104.9 30.1 L105.4 33.0 L106.0 36.1 L106.8 39.7 L107.3 42.2 L108.0 45.8 L108.5 48.2 L109.3 51.8 L109.9 54.2 L110.7 57.9 L111.2 60.3 L112.1 63.9 L112.6 66.3 L113.5 69.9 L114.1 72.4 L114.8 75.4 L115.6 78.4 L116.2 80.8 L117.1 84.5 L117.8 86.9 L118.7 90.5 L119.3 92.9 L120.2 96.1 L121.0 99.0 L121.6 101.4 L122.6 105.0 L123.3 107.4 L124.2 110.7 L125.0 113.5 L125.7 115.9 L126.8 119.5 L127.5 121.9 L128.3 124.5 L129.3 128.0 L130.0 130.4 L130.9 133.4 L131.9 136.4 L132.6 138.9 L133.6 142.1 L134.5 144.9 L135.3 147.3 L136.3 150.5 L137.2 153.4 L138.0 155.8 L139.0 158.8 L140.0 161.8 L140.8 164.2 L141.7 166.8 L142.9 170.3 L143.7 172.7 L144.5 175.1 L145.7 178.6 L146.6 181.2 L147.5 183.6 L148.4 186.2 L149.6 189.6 L150.5 192.1 L151.4 194.5 L152.4 197.4 L153.6 200.5 L154.5 202.9 L155.4 205.3 L156.5 208.3 L157.6 211.4 L158.1 212.6"/>
<path class="c" d="M262.6 41.2 L261.3 38.5 L260.0 36.1 L258.8 33.7 L257.5 31.3 L256.3 28.9 L255.0 26.4 L253.7 24.0 L252.4 21.6 L251.8 20.4"/>
<path class="c" d="M62.5 20.4 L63.4 24.0 L64.0 26.4 L64.8 30.1 L65.4 32.5 L66.4 36.1 L67.0 38.5 L67.8 41.8 L68.5 44.6 L69.2 47.0 L70.1 50.6 L70.7 53.0 L71.7 56.7 L72.4 59.1 L73.2 62.1 L74.0 65.1 L74.7 67.5 L75.7 71.2 L76.3 73.6 L77.2 76.7 L78.1 79.6 L78.7 82.0 L79.8 85.7 L80.5 88.1 L81.2 90.7 L82.3 94.1 L83.0 96.6 L83.9 99.8 L84.8 102.6 L85.5 105.0 L86.6 108.6 L87.3 111.1 L88.1 113.5 L89.2 117.1 L90.0 119.5 L90.7 121.9 L91.8 125.6 L92.6 128.0 L93.4 130.4 L94.5 134.0 L95.3 136.4 L96.1 138.9 L97.3 142.5 L98.1 144.9 L98.9 147.3 L100.0 150.9 L100.9 153.4 L101.7 155.8 L102.7 158.9 L103.7 161.8 L104.6 164.2 L105.4 166.8 L106.6 170.3 L107.5 172.7 L108.3 175.1 L109.5 178.4 L110.4 181.2 L111.3 183.6 L112.1 186.1 L113.4 189.6 L114.3 192.1 L115.1 194.5 L116.2 197.3 L117.3 200.5 L118.2 202.9 L119.1 205.3 L120.2 208.3 L121.3 211.4 L121.8 212.6"/>
<path class="c" d="M49.0 77.8 L49.9 80.8 L50.6 83.3 L51.7 86.8 L52.4 89.3 L53.2 91.7 L54.3 95.3 L55.0 97.8 L55.8 100.2 L56.9 103.8 L57.7 106.2 L58.4 108.6 L59.6 112.3 L60.3 114.7 L61.1 117.1 L62.3 120.7 L63.0 123.1 L63.8 125.6 L65.0 129.2 L65.8 131.6 L66.6 134.0 L67.8 137.7 L68.6 140.1 L69.4 142.5 L70.5 145.9 L71.4 148.5 L72.2 151.0 L73.2 153.9 L74.2 157.0 L75.1 159.4 L75.9 161.8 L77.1 165.5 L78.0 167.9 L78.8 170.3 L79.9 173.5 L80.9 176.3 L81.7 178.8 L82.6 181.2 L83.9 184.8 L84.7 187.2 L85.6 189.6 L86.6 192.5 L87.8 195.7 L88.6 198.1 L89.5 200.5 L90.6 203.6 L91.7 206.6 L92.6 209.0 L93.5 211.4 L93.9 212.6"/>
<path class="c" d="M49.0 151.9 L49.9 154.6 L50.7 157.0 L51.7 159.8 L52.8 163.0 L53.6 165.5 L54.5 167.9 L55.7 171.4 L56.6 173.9 L57.4 176.3 L58.4 179.1 L59.6 182.4 L60.4 184.8 L61.3 187.2 L62.4 190.5 L63.4 193.3 L64.3 195.7 L65.2 198.1 L66.5 201.7 L67.4 204.1 L68.2 206.6 L69.2 209.0 L70.5 212.6"/>
</g>
<path class="ax" d="M48.5 20.0 V213.5 H263.0"/>
<path class="ax" style="stroke-width:.8" d="M48.0 20.3 H263.0"/>
<path class="ax" style="stroke:#262626" d="M48.5 213.0v4.6M91.5 213.0v4.6M134.5 213.0v4.6M176.5 213.0v4.6M219.5 213.0v4.6M49.0 213.5h-5.2M49.0 180.5h-5.2M49.0 148.5h-5.2M49.0 116.5h-5.2M49.0 84.5h-5.2M49.0 52.5h-5.2M49.0 20.3h-5.2"/>
<path class="ax" style="stroke:#8a8a8a" d="M262.5 213.0v4.6"/>
<clipPath id="clb"><rect x="321" y="21" width="216" height="192"/></clipPath>
<g clip-path="url(#clb)">
<path class="c" d="M360.9 20.6 L362.9 23.0 L364.7 25.2 L366.1 26.9 L367.7 29.1 L369.6 31.5 L371.5 33.9 L372.8 35.7 L374.2 37.5 L376.0 39.9 L377.8 42.3 L379.5 44.8 L381.0 46.8 L382.3 48.7 L383.7 50.8 L385.4 53.2 L387.0 55.6 L388.5 58.0 L390.0 60.4 L391.5 62.9 L393.0 65.3 L394.4 67.7 L395.8 70.1 L397.2 72.5 L398.5 74.9 L399.8 77.4 L401.0 79.8 L402.2 82.2 L403.4 84.6 L404.6 87.0 L405.7 89.4 L406.7 91.8 L408.0 94.9 L409.2 97.9 L410.2 100.3 L411.1 102.7 L412.1 105.5 L413.2 108.8 L414.0 111.2 L414.8 113.7 L415.8 117.2 L416.5 119.6 L417.5 123.2 L418.1 125.7 L418.8 129.0 L419.5 131.7 L420.2 135.3 L420.7 137.7 L421.3 141.4 L421.7 143.8 L422.3 147.4 L422.8 151.0 L423.1 153.4 L423.6 157.1 L423.9 160.7 L424.3 163.9 L424.5 166.7 L424.8 170.3 L425.1 174.0 L425.3 177.6 L425.4 181.2 L425.6 184.8 L425.7 187.2 L425.8 190.9 L425.9 194.5 L425.9 198.1 L426.0 201.7 L426.0 205.4 L425.9 209.0 L425.9 212.6"/>
<path class="c" d="M536.6 89.0 L535.2 86.3 L533.9 83.6 L532.6 81.0 L531.5 78.6 L530.4 76.1 L529.3 73.7 L528.3 71.3 L527.1 68.4 L525.9 65.3 L525.0 62.9 L524.2 60.4 L523.1 57.2 L522.2 54.4 L521.4 52.0 L520.4 48.4 L519.7 46.0 L519.0 43.3 L518.2 39.9 L517.6 37.5 L516.8 33.9 L516.3 31.4 L515.6 27.8 L515.0 24.2 L514.6 21.8 L514.4 20.6"/>
<path class="c" d="M321.4 71.6 L322.8 74.2 L324.1 76.9 L325.5 79.6 L326.7 82.2 L327.9 84.6 L329.1 87.0 L330.2 89.4 L331.4 91.8 L332.5 94.3 L333.6 96.7 L334.9 99.8 L336.2 102.7 L337.3 105.1 L338.3 107.5 L339.3 110.0 L340.3 112.6 L341.7 116.0 L342.6 118.4 L343.6 120.8 L344.5 123.2 L345.8 126.7 L346.7 129.3 L347.5 131.7 L348.5 134.4 L349.6 137.7 L350.4 140.1 L351.2 142.6 L352.4 146.2 L353.1 148.6 L353.9 151.2 L354.9 154.6 L355.6 157.1 L356.6 160.6 L357.3 163.1 L357.9 165.6 L358.9 169.1 L359.5 171.5 L360.4 175.2 L360.9 177.6 L361.8 181.2 L362.3 183.6 L363.1 187.2 L363.6 189.7 L364.4 193.3 L364.9 195.7 L365.6 199.3 L366.1 201.9 L366.7 205.4 L367.3 209.0 L367.7 211.4 L367.9 212.6"/>
<path class="c" d="M321.4 195.1 L322.2 198.1 L322.8 200.5 L323.7 204.1 L324.3 206.6 L325.1 210.2 L325.7 212.6"/>
</g>
<path class="ax" d="M320.5 21.0 V213.5 H537.0"/>
<path class="ax" style="stroke:#262626" d="M321.5 213.0v4.6M364.5 213.0v4.6M407.5 213.0v4.6M450.5 213.0v4.6M493.5 213.0v4.6M321.0 213.5h-5.2M321.0 164.5h-5.2M321.0 116.5h-5.2M321.0 68.5h-5.2"/>
<path class="ax" style="stroke:#8a8a8a" d="M536.5 213.0v4.6M321.0 21.3h-5.2"/>
<clipPath id="clc"><rect x="180" y="305" width="212" height="188"/></clipPath>
<g clip-path="url(#clc)">
<path class="c" d="M348.0 493.0 L345.1 492.0 L342.4 491.0 L339.8 490.1 L337.1 489.1 L334.4 488.2 L331.1 487.1 L327.7 486.0 L325.1 485.1 L322.4 484.2 L319.7 483.3 L316.8 482.4 L313.1 481.2 L310.4 480.4 L307.7 479.6 L305.1 478.7 L301.4 477.7 L298.4 476.8 L295.7 476.0 L293.0 475.3 L289.0 474.2 L286.4 473.5 L283.7 472.8 L279.8 471.8 L277.0 471.1 L274.4 470.4 L270.4 469.5 L267.7 468.9 L264.8 468.2 L261.0 467.4 L258.3 466.9 L254.3 466.1 L251.7 465.6 L247.7 464.8 L245.0 464.4 L241.0 463.7 L238.3 463.3 L234.3 462.8 L231.0 462.3 L227.6 461.9 L223.6 461.5 L220.2 461.1 L217.0 460.9 L213.0 460.6 L209.0 460.3 L205.0 460.2 L201.0 460.1 L196.9 460.0 L192.9 460.0 L188.9 460.1 L184.9 460.3 L180.9 460.5 L179.6 460.6"/>
<path class="c" d="M391.8 454.1 L389.6 452.9 L387.5 451.7 L385.1 450.4 L382.5 448.9 L379.8 447.4 L377.1 445.9 L374.8 444.6 L372.7 443.4 L370.4 442.2 L367.8 440.7 L365.1 439.3 L362.4 437.8 L359.9 436.4 L357.8 435.2 L355.6 434.0 L353.1 432.6 L350.4 431.1 L347.8 429.7 L345.1 428.2 L342.8 426.9 L340.7 425.7 L338.4 424.5 L335.7 423.1 L333.1 421.6 L330.4 420.1 L327.7 418.7 L325.6 417.5 L323.4 416.3 L321.1 415.0 L318.4 413.6 L315.7 412.1 L313.1 410.7 L310.4 409.2 L308.3 408.0 L306.1 406.9 L303.7 405.6 L301.0 404.1 L298.4 402.7 L295.7 401.3 L293.0 399.8 L290.8 398.6 L288.6 397.4 L286.4 396.3 L283.7 394.8 L281.0 393.4 L278.4 392.0 L275.7 390.6 L273.1 389.2 L270.8 388.0 L268.6 386.8 L266.3 385.6 L263.7 384.2 L261.0 382.8 L258.3 381.4 L255.7 380.0 L253.0 378.6 L250.5 377.4 L248.3 376.2 L246.0 375.0 L243.7 373.8 L241.0 372.5 L238.3 371.1 L235.7 369.7 L233.0 368.4 L230.3 367.0 L227.6 365.7 L225.0 364.4 L222.6 363.2 L220.3 362.0 L217.9 360.9 L215.4 359.7 L213.0 358.5 L210.3 357.2 L207.6 355.9 L205.0 354.6 L202.3 353.4 L199.6 352.1 L196.9 350.9 L194.3 349.7 L191.6 348.4 L188.9 347.2 L186.3 346.0 L183.6 344.9 L180.9 343.7 L179.6 343.1"/>
<path class="c" d="M391.8 389.5 L389.9 388.0 L387.8 386.3 L385.5 384.5 L383.8 383.1 L381.1 380.9 L379.7 379.7 L377.1 377.6 L375.4 376.2 L373.1 374.3 L371.1 372.7 L369.1 371.0 L366.9 369.1 L365.1 367.6 L362.7 365.6 L361.1 364.2 L358.6 362.0 L357.1 360.7 L354.6 358.5 L353.1 357.2 L350.6 355.0 L349.1 353.6 L346.6 351.4 L345.1 350.0 L342.7 347.9 L341.1 346.4 L338.9 344.3 L337.1 342.6 L335.1 340.8 L333.1 338.8 L331.4 337.3 L329.1 335.0 L327.7 333.7 L325.4 331.4 L323.7 329.7 L321.9 327.8 L319.7 325.7 L318.4 324.3 L316.1 321.9 L314.4 320.1 L312.8 318.4 L310.6 316.0 L309.1 314.4 L307.3 312.5 L305.2 310.1 L303.7 308.4 L302.1 306.6 L301.1 305.4"/>
<path class="c" d="M391.8 309.8 L390.2 307.8 L388.3 305.4"/>
</g>
<path class="ax" d="M179.5 305.0 V493.5 H392.0"/>
<path class="ax" style="stroke:#262626" d="M179.5 493.0v4.6M214.5 493.0v4.6M250.5 493.0v4.6M285.5 493.0v4.6M320.5 493.0v4.6M356.5 493.0v4.6M180.0 493.5h-5.2M180.0 446.5h-5.2M180.0 399.5h-5.2M180.0 352.5h-5.2"/>
<path class="ax" style="stroke:#8a8a8a" d="M391.5 493.0v4.6M180.0 305.3h-5.2"/>
<g style="filter:grayscale(1)">
<text class="t" x="49.2" y="232.2" text-anchor="middle">0.05</text>
<text class="t" x="91.9" y="232.2" text-anchor="middle">0.07</text>
<text class="t" x="134.6" y="232.2" text-anchor="middle">0.09</text>
<text class="t" x="177.4" y="232.2" text-anchor="middle">0.11</text>
<text class="t" x="220.1" y="232.2" text-anchor="middle">0.13</text>
<text class="t" x="262.8" y="232.2" text-anchor="middle">0.15</text>
<text class="t" x="38.9" y="216.1" text-anchor="end">0.02</text>
<text class="t" x="38.9" y="184.1" text-anchor="end">0.03</text>
<text class="t" x="38.9" y="152.0" text-anchor="end">0.04</text>
<text class="t" x="38.9" y="120.0" text-anchor="end">0.05</text>
<text class="t" x="38.9" y="88.0" text-anchor="end">0.06</text>
<text class="t" x="38.9" y="55.9" text-anchor="end">0.07</text>
<text class="t" x="38.9" y="23.9" text-anchor="end">0.08</text>
<text class="t" x="153.7" y="8.8" text-anchor="middle" textLength="54.8" lengthAdjust="spacingAndGlyphs">Colour (ΔE)</text>
<text class="t" x="153.4" y="251.5" text-anchor="middle" textLength="108.0" lengthAdjust="spacingAndGlyphs">Initiator (mg/100ml GS)</text>
<text class="t" transform="translate(9.1 119.0) rotate(-90)" text-anchor="middle" textLength="126.0" lengthAdjust="spacingAndGlyphs">Cross linker (mg/100ml GS)</text>
<text class="t" x="134.1" y="273.0" text-anchor="middle" textLength="11.9" lengthAdjust="spacingAndGlyphs">(a)</text>
<rect class="bx" x="82.9" y="107.7" width="12.6" height="11.2"/>
<text class="l" x="89.3" y="116.9" text-anchor="middle" textLength="9.8" lengthAdjust="spacingAndGlyphs">15</text>
<rect class="bx" x="119.7" y="107.7" width="12.6" height="11.2"/>
<text class="l" x="126.1" y="116.9" text-anchor="middle" textLength="9.8" lengthAdjust="spacingAndGlyphs">10</text>
<rect class="bx" x="63.5" y="134.1" width="12.6" height="11.2"/>
<text class="l" x="69.9" y="143.3" text-anchor="middle" textLength="9.8" lengthAdjust="spacingAndGlyphs">20</text>
<rect class="bx" x="53.2" y="172.1" width="12.6" height="11.2"/>
<text class="l" x="59.6" y="181.3" text-anchor="middle" textLength="9.8" lengthAdjust="spacingAndGlyphs">25</text>
<text class="t" x="321.6" y="232.2" text-anchor="middle">0.05</text>
<text class="t" x="364.6" y="232.2" text-anchor="middle">0.07</text>
<text class="t" x="407.7" y="232.2" text-anchor="middle">0.09</text>
<text class="t" x="450.7" y="232.2" text-anchor="middle">0.11</text>
<text class="t" x="493.8" y="232.2" text-anchor="middle">0.13</text>
<text class="t" x="536.8" y="232.2" text-anchor="middle">0.15</text>
<text class="t" x="310.9" y="216.1" text-anchor="end">2</text>
<text class="t" x="310.9" y="168.1" text-anchor="end">3</text>
<text class="t" x="310.9" y="120.1" text-anchor="end">4</text>
<text class="t" x="310.9" y="72.1" text-anchor="end">5</text>
<text class="t" x="310.9" y="24.1" text-anchor="end">6</text>
<text class="t" x="426.8" y="7.9" text-anchor="middle" textLength="54.8" lengthAdjust="spacingAndGlyphs">Colour (ΔE)</text>
<text class="t" x="425.8" y="252.0" text-anchor="middle" textLength="107.0" lengthAdjust="spacingAndGlyphs">Initiator (mg/100ml GS)</text>
<text class="t" transform="translate(294.7 118.0) rotate(-90)" text-anchor="middle" textLength="115.3" lengthAdjust="spacingAndGlyphs">Plasticizer (ml/100ml GS)</text>
<text class="t" x="413.7" y="273.0" text-anchor="middle" textLength="11.9" lengthAdjust="spacingAndGlyphs">(b)</text>
<rect class="bx" x="403.9" y="90.7" width="12.6" height="11.2"/>
<text class="l" x="410.3" y="99.9" text-anchor="middle" textLength="9.8" lengthAdjust="spacingAndGlyphs">10</text>
<rect class="bx" x="343.5" y="127.5" width="12.6" height="11.2"/>
<text class="l" x="349.9" y="136.7" text-anchor="middle" textLength="9.8" lengthAdjust="spacingAndGlyphs">20</text>
<rect class="bx" x="516.2" y="44.6" width="12.6" height="11.2"/>
<text class="l" x="522.6" y="53.8" text-anchor="middle" textLength="9.8" lengthAdjust="spacingAndGlyphs">10</text>
<text class="t" x="179.8" y="512.9" text-anchor="middle">0.02</text>
<text class="t" x="215.2" y="512.9" text-anchor="middle">0.03</text>
<text class="t" x="250.5" y="512.9" text-anchor="middle">0.04</text>
<text class="t" x="285.9" y="512.9" text-anchor="middle">0.05</text>
<text class="t" x="321.3" y="512.9" text-anchor="middle">0.06</text>
<text class="t" x="356.6" y="512.9" text-anchor="middle">0.07</text>
<text class="t" x="392.0" y="512.9" text-anchor="middle">0.08</text>
<text class="t" x="169.9" y="496.5" text-anchor="end">2</text>
<text class="t" x="169.9" y="449.6" text-anchor="end">3</text>
<text class="t" x="169.9" y="402.7" text-anchor="end">4</text>
<text class="t" x="169.9" y="355.8" text-anchor="end">5</text>
<text class="t" x="169.9" y="308.9" text-anchor="end">6</text>
<text class="t" x="283.7" y="293.6" text-anchor="middle" textLength="54.8" lengthAdjust="spacingAndGlyphs">Colour (ΔE)</text>
<text class="t" x="282.9" y="532.7" text-anchor="middle" textLength="125.4" lengthAdjust="spacingAndGlyphs">Cross linker (mg/100ml GS)</text>
<text class="t" transform="translate(152.8 400.5) rotate(-90)" text-anchor="middle" textLength="115.0" lengthAdjust="spacingAndGlyphs">Plasticizer (ml/100ml GS)</text>
<text class="t" x="271.2" y="553.4" text-anchor="middle" textLength="11.9" lengthAdjust="spacingAndGlyphs">(c)</text>
<rect class="bx" x="265.1" y="458.9" width="7.8" height="11.2"/>
<text class="l" x="269.1" y="468.1" text-anchor="middle" textLength="4.9" lengthAdjust="spacingAndGlyphs">5</text>
<rect class="bx" x="280.2" y="387.1" width="12.6" height="11.2"/>
<text class="l" x="286.6" y="396.3" text-anchor="middle" textLength="9.8" lengthAdjust="spacingAndGlyphs">10</text>
<rect class="bx" x="337.7" y="339.7" width="12.6" height="11.2"/>
<text class="l" x="344.1" y="348.9" text-anchor="middle" textLength="9.8" lengthAdjust="spacingAndGlyphs">15</text>
</g>
</svg>
</body></html>
